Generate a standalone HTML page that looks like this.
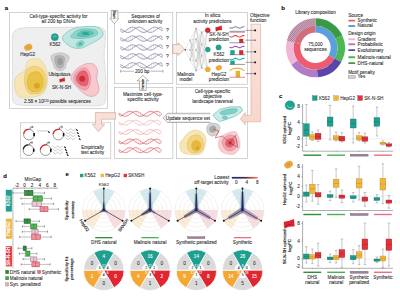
<!DOCTYPE html>
<html><head><meta charset="utf-8"><style>
html,body{margin:0;padding:0;background:#fff;}
body{width:400px;height:300px;overflow:hidden;}
svg{display:block;font-family:"Liberation Sans", sans-serif;}
</style></head><body>
<svg width="400" height="300" viewBox="0 0 400 300">
<rect width="400" height="300" fill="#fff"/>
<text x="6.5" y="10" font-size="6" text-anchor="middle" fill="#000" stroke="#000" stroke-width="0.08" font-weight="bold">a</text>
<rect x="9.6" y="12.4" width="97.8" height="96" fill="#fff" stroke="#b5b5b5" stroke-width="0.6" rx="0"/>
<path d="M12.50,36.00 C13.12,32.67 14.08,31.37 16.00,30.00 C17.92,28.63 20.00,28.22 24.00,27.80 C28.00,27.38 34.00,27.57 40.00,27.50 C46.00,27.43 53.33,27.48 60.00,27.40 C66.67,27.32 73.83,27.03 80.00,27.00 C86.17,26.97 92.97,26.78 97.00,27.20 C101.03,27.62 102.80,27.70 104.20,29.50 C105.60,31.30 105.40,33.75 105.40,38.00 C105.40,42.25 104.20,48.83 104.20,55.00 C104.20,61.17 105.13,68.33 105.40,75.00 C105.67,81.67 106.37,90.00 105.80,95.00 C105.23,100.00 106.30,103.20 102.00,105.00 C97.70,106.80 88.67,105.67 80.00,105.80 C71.33,105.93 59.17,105.87 50.00,105.80 C40.83,105.73 30.97,105.83 25.00,105.40 C19.03,104.97 16.32,104.93 14.20,103.20 C12.08,101.47 12.58,100.53 12.30,95.00 C12.02,89.47 12.50,77.50 12.50,70.00 C12.50,62.50 12.30,55.67 12.30,50.00 C12.30,44.33 11.88,39.33 12.50,36.00Z" fill="#efefef" stroke="#a0a0a0" stroke-width="0.45" stroke-dasharray="1.2,0.8"/>
<text x="58.5" y="18" font-size="4.7" text-anchor="middle" fill="#2a2a2a" stroke="#2a2a2a" stroke-width="0.08" font-weight="normal">Cell-type-specific activity for</text>
<text x="58.5" y="23.2" font-size="4.7" text-anchor="middle" fill="#2a2a2a" stroke="#2a2a2a" stroke-width="0.08" font-weight="normal">all 200 bp DNAs</text>
<path d="M62.50,37.40 C62.75,35.92 64.73,34.20 66.00,33.00 C67.27,31.80 68.28,31.10 70.10,30.20 C71.92,29.30 73.90,28.23 76.90,27.60 C79.90,26.97 84.73,26.50 88.10,26.40 C91.47,26.30 94.70,26.20 97.10,27.00 C99.50,27.80 101.65,29.63 102.50,31.20 C103.35,32.77 103.28,34.75 102.20,36.40 C101.12,38.05 98.17,39.75 96.00,41.10 C93.83,42.45 91.45,43.37 89.20,44.50 C86.95,45.63 84.75,47.27 82.50,47.90 C80.25,48.53 77.77,48.55 75.70,48.30 C73.63,48.05 71.97,47.47 70.10,46.40 C68.23,45.33 65.77,43.40 64.50,41.90 C63.23,40.40 62.25,38.88 62.50,37.40Z" fill="#bfe7e1" stroke="#3f9f92" stroke-width="0.4"/>
<path d="M70.70,36.60 C70.70,35.30 74.37,31.90 76.90,30.60 C79.43,29.30 82.72,28.83 85.90,28.80 C89.08,28.77 94.10,29.50 96.00,30.40 C97.90,31.30 98.43,32.98 97.30,34.20 C96.17,35.42 92.60,37.00 89.20,37.70 C85.80,38.40 79.98,38.58 76.90,38.40 C73.82,38.22 70.70,37.90 70.70,36.60Z" fill="#8dd5ca" stroke="#2f978a" stroke-width="0.35"/>
<path d="M76.90,35.30 C76.90,34.40 79.35,31.92 81.40,31.20 C83.45,30.48 87.15,30.67 89.20,31.00 C91.25,31.33 93.88,32.35 93.70,33.20 C93.52,34.05 90.15,35.53 88.10,36.10 C86.05,36.67 83.27,36.73 81.40,36.60 C79.53,36.47 76.90,36.20 76.90,35.30Z" fill="#5cc2b4" stroke="#2a9d8f" stroke-width="0.3"/>
<ellipse cx="85.6" cy="33.4" rx="3.6" ry="1.7" fill="#30a898"/>
<ellipse cx="80.2" cy="43.9" rx="4.2" ry="2.7" fill="#8fd6cc" stroke="#43b0a2" stroke-width="0.35" transform="rotate(-25 80.2 43.9)"/>
<ellipse cx="80.4" cy="43.9" rx="2.3" ry="1.5" fill="#4cbaaa" transform="rotate(-25 80.4 43.9)"/>
<circle cx="54.8" cy="37.2" r="3.6" fill="#1ea392" stroke="#0f7f70" stroke-width="0.3"/>
<path d="M53,37.5 Q54.5,35 56.5,36.5" fill="none" stroke="#bff0e8" stroke-width="0.5"/>
<text x="55" y="46.4" font-size="4.7" text-anchor="middle" fill="#2a2a2a" stroke="#2a2a2a" stroke-width="0.08" font-weight="normal">K562</text>
<ellipse cx="28.3" cy="47.3" rx="3.9" ry="3.0" fill="#f2a93a" stroke="#c98218" stroke-width="0.3" transform="rotate(-20 28.3 47.3)"/>
<ellipse cx="28.3" cy="47.3" rx="1.8" ry="1.3" fill="#dca040" transform="rotate(-20 28.3 47.3)"/>
<text x="27.8" y="55.5" font-size="4.7" text-anchor="middle" fill="#2a2a2a" stroke="#2a2a2a" stroke-width="0.08" font-weight="normal">HepG2</text>
<path d="M27.00,62.00 C28.50,60.02 31.67,58.90 34.00,58.60 C36.33,58.30 39.00,58.63 41.00,60.20 C43.00,61.77 44.90,64.87 46.00,68.00 C47.10,71.13 47.60,75.67 47.60,79.00 C47.60,82.33 47.10,85.33 46.00,88.00 C44.90,90.67 43.67,93.47 41.00,95.00 C38.33,96.53 33.58,96.87 30.00,97.20 C26.42,97.53 22.00,98.37 19.50,97.00 C17.00,95.63 15.70,92.17 15.00,89.00 C14.30,85.83 14.47,80.58 15.30,78.00 C16.13,75.42 18.38,74.75 20.00,73.50 C21.62,72.25 23.83,72.42 25.00,70.50 C26.17,68.58 25.50,63.98 27.00,62.00Z" fill="#f7e5b6" stroke="#d8c07e" stroke-width="0.4"/>
<path d="M27.20,69.20 C28.70,67.82 31.50,66.20 34.00,66.20 C36.50,66.20 40.20,67.32 42.20,69.20 C44.20,71.08 45.50,74.50 46.00,77.50 C46.50,80.50 46.20,84.58 45.20,87.20 C44.20,89.82 42.62,92.20 40.00,93.20 C37.38,94.20 32.00,94.57 29.50,93.20 C27.00,91.83 25.75,88.12 25.00,85.00 C24.25,81.88 24.63,77.13 25.00,74.50 C25.37,71.87 25.70,70.58 27.20,69.20Z" fill="#f2d47a" stroke="#cfa842" stroke-width="0.35"/>
<path d="M29.50,74.50 C31.13,72.50 34.88,71.25 37.00,71.50 C39.12,71.75 41.20,73.75 42.20,76.00 C43.20,78.25 43.50,82.50 43.00,85.00 C42.50,87.50 41.20,90.00 39.20,91.00 C37.20,92.00 33.00,92.25 31.00,91.00 C29.00,89.75 27.45,86.25 27.20,83.50 C26.95,80.75 27.87,76.50 29.50,74.50Z" fill="#eac045" stroke="#c49a22" stroke-width="0.3"/>
<circle cx="37" cy="85.7" r="2.6" fill="#dfb032" stroke="#a98518" stroke-width="0.3"/>
<circle cx="37" cy="85.7" r="1.2" fill="none" stroke="#a98518" stroke-width="0.3"/>
<path d="M51.50,55.50 C52.28,54.57 54.42,53.85 56.00,53.40 C57.58,52.95 59.50,52.73 61.00,52.80 C62.50,52.87 63.67,53.18 65.00,53.80 C66.33,54.42 68.42,55.47 69.00,56.50 C69.58,57.53 69.00,58.75 68.50,60.00 C68.00,61.25 66.50,62.67 66.00,64.00 C65.50,65.33 66.17,66.90 65.50,68.00 C64.83,69.10 63.25,70.17 62.00,70.60 C60.75,71.03 59.25,71.03 58.00,70.60 C56.75,70.17 55.33,69.27 54.50,68.00 C53.67,66.73 53.53,64.50 53.00,63.00 C52.47,61.50 51.55,60.25 51.30,59.00 C51.05,57.75 50.72,56.43 51.50,55.50Z" fill="#d2d2d2" stroke="#959595" stroke-width="0.35"/>
<path d="M55.00,57.00 C55.75,55.67 58.42,55.42 60.00,55.50 C61.58,55.58 63.83,56.25 64.50,57.50 C65.17,58.75 64.33,61.33 64.00,63.00 C63.67,64.67 63.50,66.67 62.50,67.50 C61.50,68.33 59.17,68.67 58.00,68.00 C56.83,67.33 56.00,65.33 55.50,63.50 C55.00,61.67 54.25,58.33 55.00,57.00Z" fill="#b2b2b2" stroke="#8a8a8a" stroke-width="0.3"/>
<ellipse cx="60" cy="61.5" rx="2.6" ry="3.6" fill="#9a9a9a"/>
<text x="59.5" y="76.0" font-size="4.7" text-anchor="middle" fill="#2a2a2a" stroke="#2a2a2a" stroke-width="0.08" font-weight="normal">Ubiquitous</text>
<path d="M59.60,79.20 Q62.15,78.95 64.55,77.80 L64.85,81.30 Q62.15,80.95 59.90,82.35 Z" fill="#e2222c" stroke="#9a1018" stroke-width="0.3"/>
<path d="M60.10,81.55 Q61.60,80.30 63.10,80.40" fill="none" stroke="#9a1018" stroke-width="0.3"/>
<text x="61.6" y="89.2" font-size="4.7" text-anchor="middle" fill="#2a2a2a" stroke="#2a2a2a" stroke-width="0.08" font-weight="normal">SK-N-SH</text>
<path d="M70.90,77.60 C70.98,75.93 72.45,74.02 73.50,72.50 C74.55,70.98 75.78,69.67 77.20,68.50 C78.62,67.33 80.37,66.32 82.00,65.50 C83.63,64.68 85.00,63.80 87.00,63.60 C89.00,63.40 92.25,63.13 94.00,64.30 C95.75,65.47 97.03,68.15 97.50,70.60 C97.97,73.05 96.57,76.20 96.80,79.00 C97.03,81.80 98.78,84.95 98.90,87.40 C99.02,89.85 98.78,92.18 97.50,93.70 C96.22,95.22 93.42,96.50 91.20,96.50 C88.98,96.50 86.53,95.22 84.20,93.70 C81.87,92.18 79.07,89.27 77.20,87.40 C75.33,85.53 74.05,84.13 73.00,82.50 C71.95,80.87 70.82,79.27 70.90,77.60Z" fill="#f8c8ce" stroke="#b87a84" stroke-width="0.4"/>
<path d="M73.70,76.90 C74.28,74.80 76.62,71.42 78.60,69.90 C80.58,68.38 83.73,67.22 85.60,67.80 C87.47,68.38 88.98,71.07 89.80,73.40 C90.62,75.73 90.97,79.12 90.50,81.80 C90.03,84.48 88.75,88.45 87.00,89.50 C85.25,90.55 81.98,89.27 80.00,88.10 C78.02,86.93 76.15,84.37 75.10,82.50 C74.05,80.63 73.12,79.00 73.70,76.90Z" fill="#f1a3ad" stroke="#cc6e7a" stroke-width="0.35"/>
<path d="M76.50,76.90 C76.97,75.27 78.48,72.93 80.00,72.00 C81.52,71.07 84.20,70.37 85.60,71.30 C87.00,72.23 88.17,75.27 88.40,77.60 C88.63,79.93 88.17,84.02 87.00,85.30 C85.83,86.58 83.03,85.88 81.40,85.30 C79.77,84.72 78.02,83.20 77.20,81.80 C76.38,80.40 76.03,78.53 76.50,76.90Z" fill="#e4636f" stroke="#b83c4a" stroke-width="0.3"/>
<circle cx="82.2" cy="78.8" r="3.0" fill="#d22c3c" stroke="none" stroke-width="0.5"/>
<text x="57.5" y="103.4" font-size="4.7" text-anchor="middle" fill="#2a2a2a" stroke="#2a2a2a" stroke-width="0.08" font-weight="normal">2.58 × 10<tspan font-size="2.8" dy="-1.6">120</tspan><tspan dy="1.6"> possible sequences</tspan></text>
<rect x="114.4" y="12.3" width="58.4" height="71.3" fill="#fff" stroke="#b5b5b5" stroke-width="0.6" rx="0"/>
<path d="M111.3,10.4 L117.9,10.4 L117.9,18.6 L118.6,18.6 L114.3,23.7 L110.1,18.6 L111.3,18.6 Z" fill="#fff" stroke="#555" stroke-width="0.45"/>
<text x="113.0" y="14.6" font-size="3.6" text-anchor="middle" fill="#333" stroke="#333" stroke-width="0.16" font-weight="bold" transform="rotate(90 113.0 14.6)">Start</text>
<text x="145.6" y="17.6" font-size="4.7" text-anchor="middle" fill="#2a2a2a" stroke="#2a2a2a" stroke-width="0.08" font-weight="normal">Sequences of</text>
<text x="145.2" y="23.2" font-size="4.7" text-anchor="middle" fill="#2a2a2a" stroke="#2a2a2a" stroke-width="0.08" font-weight="normal">unknown activity</text>
<polyline points="120.20,30.58 120.68,31.03 121.15,31.47 121.63,31.88 122.10,32.23 122.58,32.29 123.05,32.13 123.53,31.93 124.00,31.69 124.48,31.41 124.96,31.11 125.43,30.79 125.91,30.45 126.38,30.10 126.86,29.74 127.33,29.38 127.81,29.03 128.28,28.70 128.76,28.38 129.24,28.09 129.71,27.83 130.19,27.60 130.66,27.41 131.14,27.27 131.61,27.16 132.09,27.11 132.56,27.10 133.04,27.14 133.52,27.23 133.99,27.36 134.47,27.54 134.94,27.75 135.42,28.00 135.89,28.29 136.37,28.60 136.84,28.93 137.32,29.27 137.80,29.63 138.27,29.99 138.75,30.34 139.22,30.69 139.70,31.02 140.17,31.32 140.65,31.61 141.12,31.86 141.60,32.07 142.08,32.24 142.55,32.37 143.03,32.46 143.50,32.50 143.98,32.49 144.45,32.43 144.93,32.33 145.40,32.18 145.88,31.99 146.36,31.77 146.83,31.50 147.31,31.21 147.78,30.89 148.26,30.56 148.73,30.21 149.21,29.85 149.68,29.49 150.16,29.14 150.64,28.80 151.11,28.48 151.59,28.18 152.06,27.90 152.54,27.67 153.01,27.47 153.49,27.31 153.96,27.19 154.44,27.12 154.92,27.10 155.39,27.13 155.87,27.20 156.34,27.32 156.82,27.48 157.29,27.68 157.77,27.92 158.24,28.19 158.72,28.50 159.20,28.82 159.67,29.16 160.15,29.52 160.62,29.87 161.10,30.20 161.57,30.40 162.05,30.49 162.52,30.46 163.00,30.32" fill="none" stroke="#58587a" stroke-width="0.55" opacity="1.0"/>
<polyline points="120.20,29.35 120.68,29.25 121.15,29.26 121.63,29.39 122.10,29.64 122.58,29.99 123.05,30.34 123.53,30.69 124.00,31.02 124.48,31.33 124.96,31.61 125.43,31.86 125.91,32.07 126.38,32.24 126.86,32.37 127.33,32.46 127.81,32.50 128.28,32.49 128.76,32.43 129.24,32.33 129.71,32.18 130.19,31.99 130.66,31.76 131.14,31.50 131.61,31.21 132.09,30.89 132.56,30.55 133.04,30.20 133.52,29.85 133.99,29.49 134.47,29.14 134.94,28.80 135.42,28.47 135.89,28.17 136.37,27.90 136.84,27.67 137.32,27.47 137.80,27.31 138.27,27.19 138.75,27.12 139.22,27.10 139.70,27.13 140.17,27.20 140.65,27.32 141.12,27.48 141.60,27.68 142.08,27.92 142.55,28.20 143.03,28.50 143.50,28.82 143.98,29.16 144.45,29.52 144.93,29.88 145.40,30.23 145.88,30.58 146.36,30.92 146.83,31.23 147.31,31.52 147.78,31.78 148.26,32.01 148.73,32.19 149.21,32.34 149.68,32.44 150.16,32.49 150.64,32.50 151.11,32.45 151.59,32.37 152.06,32.23 152.54,32.06 153.01,31.84 153.49,31.59 153.96,31.30 154.44,30.99 154.92,30.66 155.39,30.32 155.87,29.96 156.34,29.60 156.82,29.25 157.29,28.90 157.77,28.57 158.24,28.26 158.72,27.98 159.20,27.74 159.67,27.52 160.15,27.35 160.62,27.22 161.10,27.31 161.57,27.71 162.05,28.14 162.52,28.59 163.00,29.04" fill="none" stroke="#58587a" stroke-width="0.55" opacity="1.0"/>
<line x1="121.15" y1="31.47" x2="121.15" y2="29.26" stroke="#58587a" stroke-width="0.3" opacity="0.5"/>
<line x1="123.05" y1="32.13" x2="123.05" y2="30.34" stroke="#58587a" stroke-width="0.3" opacity="0.5"/>
<line x1="124.96" y1="31.11" x2="124.96" y2="31.61" stroke="#58587a" stroke-width="0.3" opacity="0.5"/>
<line x1="126.86" y1="29.74" x2="126.86" y2="32.37" stroke="#58587a" stroke-width="0.3" opacity="0.5"/>
<line x1="128.76" y1="28.38" x2="128.76" y2="32.43" stroke="#58587a" stroke-width="0.3" opacity="0.5"/>
<line x1="130.66" y1="27.41" x2="130.66" y2="31.76" stroke="#58587a" stroke-width="0.3" opacity="0.5"/>
<line x1="132.56" y1="27.10" x2="132.56" y2="30.55" stroke="#58587a" stroke-width="0.3" opacity="0.5"/>
<line x1="134.47" y1="27.54" x2="134.47" y2="29.14" stroke="#58587a" stroke-width="0.3" opacity="0.5"/>
<line x1="136.37" y1="28.60" x2="136.37" y2="27.90" stroke="#58587a" stroke-width="0.3" opacity="0.5"/>
<line x1="138.27" y1="29.99" x2="138.27" y2="27.19" stroke="#58587a" stroke-width="0.3" opacity="0.5"/>
<line x1="140.17" y1="31.32" x2="140.17" y2="27.20" stroke="#58587a" stroke-width="0.3" opacity="0.5"/>
<line x1="142.08" y1="32.24" x2="142.08" y2="27.92" stroke="#58587a" stroke-width="0.3" opacity="0.5"/>
<line x1="143.98" y1="32.49" x2="143.98" y2="29.16" stroke="#58587a" stroke-width="0.3" opacity="0.5"/>
<line x1="145.88" y1="31.99" x2="145.88" y2="30.58" stroke="#58587a" stroke-width="0.3" opacity="0.5"/>
<line x1="147.78" y1="30.89" x2="147.78" y2="31.78" stroke="#58587a" stroke-width="0.3" opacity="0.5"/>
<line x1="149.68" y1="29.49" x2="149.68" y2="32.44" stroke="#58587a" stroke-width="0.3" opacity="0.5"/>
<line x1="151.59" y1="28.18" x2="151.59" y2="32.37" stroke="#58587a" stroke-width="0.3" opacity="0.5"/>
<line x1="153.49" y1="27.31" x2="153.49" y2="31.59" stroke="#58587a" stroke-width="0.3" opacity="0.5"/>
<line x1="155.39" y1="27.13" x2="155.39" y2="30.32" stroke="#58587a" stroke-width="0.3" opacity="0.5"/>
<line x1="157.29" y1="27.68" x2="157.29" y2="28.90" stroke="#58587a" stroke-width="0.3" opacity="0.5"/>
<line x1="159.20" y1="28.82" x2="159.20" y2="27.74" stroke="#58587a" stroke-width="0.3" opacity="0.5"/>
<line x1="161.10" y1="30.20" x2="161.10" y2="27.31" stroke="#58587a" stroke-width="0.3" opacity="0.5"/>
<text x="167.4" y="31.6" font-size="5.0" text-anchor="middle" fill="#333" stroke="#333" stroke-width="0.08" font-weight="normal">?</text>
<polyline points="120.20,39.38 120.68,39.83 121.15,40.27 121.63,40.68 122.10,41.03 122.58,41.09 123.05,40.93 123.53,40.73 124.00,40.49 124.48,40.21 124.96,39.91 125.43,39.59 125.91,39.25 126.38,38.90 126.86,38.54 127.33,38.18 127.81,37.83 128.28,37.50 128.76,37.18 129.24,36.89 129.71,36.63 130.19,36.40 130.66,36.21 131.14,36.07 131.61,35.96 132.09,35.91 132.56,35.90 133.04,35.94 133.52,36.03 133.99,36.16 134.47,36.34 134.94,36.55 135.42,36.80 135.89,37.09 136.37,37.40 136.84,37.73 137.32,38.07 137.80,38.43 138.27,38.79 138.75,39.14 139.22,39.49 139.70,39.82 140.17,40.12 140.65,40.41 141.12,40.66 141.60,40.87 142.08,41.04 142.55,41.17 143.03,41.26 143.50,41.30 143.98,41.29 144.45,41.23 144.93,41.13 145.40,40.98 145.88,40.79 146.36,40.57 146.83,40.30 147.31,40.01 147.78,39.69 148.26,39.36 148.73,39.01 149.21,38.65 149.68,38.29 150.16,37.94 150.64,37.60 151.11,37.28 151.59,36.98 152.06,36.70 152.54,36.47 153.01,36.27 153.49,36.11 153.96,35.99 154.44,35.92 154.92,35.90 155.39,35.93 155.87,36.00 156.34,36.12 156.82,36.28 157.29,36.48 157.77,36.72 158.24,36.99 158.72,37.30 159.20,37.62 159.67,37.96 160.15,38.32 160.62,38.67 161.10,39.00 161.57,39.20 162.05,39.29 162.52,39.26 163.00,39.12" fill="none" stroke="#58587a" stroke-width="0.55" opacity="1.0"/>
<polyline points="120.20,38.15 120.68,38.05 121.15,38.06 121.63,38.19 122.10,38.44 122.58,38.79 123.05,39.14 123.53,39.49 124.00,39.82 124.48,40.13 124.96,40.41 125.43,40.66 125.91,40.87 126.38,41.04 126.86,41.17 127.33,41.26 127.81,41.30 128.28,41.29 128.76,41.23 129.24,41.13 129.71,40.98 130.19,40.79 130.66,40.56 131.14,40.30 131.61,40.01 132.09,39.69 132.56,39.35 133.04,39.00 133.52,38.65 133.99,38.29 134.47,37.94 134.94,37.60 135.42,37.27 135.89,36.97 136.37,36.70 136.84,36.47 137.32,36.27 137.80,36.11 138.27,35.99 138.75,35.92 139.22,35.90 139.70,35.93 140.17,36.00 140.65,36.12 141.12,36.28 141.60,36.48 142.08,36.72 142.55,37.00 143.03,37.30 143.50,37.62 143.98,37.96 144.45,38.32 144.93,38.68 145.40,39.03 145.88,39.38 146.36,39.72 146.83,40.03 147.31,40.32 147.78,40.58 148.26,40.81 148.73,40.99 149.21,41.14 149.68,41.24 150.16,41.29 150.64,41.30 151.11,41.25 151.59,41.17 152.06,41.03 152.54,40.86 153.01,40.64 153.49,40.39 153.96,40.10 154.44,39.79 154.92,39.46 155.39,39.12 155.87,38.76 156.34,38.40 156.82,38.05 157.29,37.70 157.77,37.37 158.24,37.06 158.72,36.78 159.20,36.54 159.67,36.32 160.15,36.15 160.62,36.02 161.10,36.11 161.57,36.51 162.05,36.94 162.52,37.39 163.00,37.84" fill="none" stroke="#58587a" stroke-width="0.55" opacity="1.0"/>
<line x1="121.15" y1="40.27" x2="121.15" y2="38.06" stroke="#58587a" stroke-width="0.3" opacity="0.5"/>
<line x1="123.05" y1="40.93" x2="123.05" y2="39.14" stroke="#58587a" stroke-width="0.3" opacity="0.5"/>
<line x1="124.96" y1="39.91" x2="124.96" y2="40.41" stroke="#58587a" stroke-width="0.3" opacity="0.5"/>
<line x1="126.86" y1="38.54" x2="126.86" y2="41.17" stroke="#58587a" stroke-width="0.3" opacity="0.5"/>
<line x1="128.76" y1="37.18" x2="128.76" y2="41.23" stroke="#58587a" stroke-width="0.3" opacity="0.5"/>
<line x1="130.66" y1="36.21" x2="130.66" y2="40.56" stroke="#58587a" stroke-width="0.3" opacity="0.5"/>
<line x1="132.56" y1="35.90" x2="132.56" y2="39.35" stroke="#58587a" stroke-width="0.3" opacity="0.5"/>
<line x1="134.47" y1="36.34" x2="134.47" y2="37.94" stroke="#58587a" stroke-width="0.3" opacity="0.5"/>
<line x1="136.37" y1="37.40" x2="136.37" y2="36.70" stroke="#58587a" stroke-width="0.3" opacity="0.5"/>
<line x1="138.27" y1="38.79" x2="138.27" y2="35.99" stroke="#58587a" stroke-width="0.3" opacity="0.5"/>
<line x1="140.17" y1="40.12" x2="140.17" y2="36.00" stroke="#58587a" stroke-width="0.3" opacity="0.5"/>
<line x1="142.08" y1="41.04" x2="142.08" y2="36.72" stroke="#58587a" stroke-width="0.3" opacity="0.5"/>
<line x1="143.98" y1="41.29" x2="143.98" y2="37.96" stroke="#58587a" stroke-width="0.3" opacity="0.5"/>
<line x1="145.88" y1="40.79" x2="145.88" y2="39.38" stroke="#58587a" stroke-width="0.3" opacity="0.5"/>
<line x1="147.78" y1="39.69" x2="147.78" y2="40.58" stroke="#58587a" stroke-width="0.3" opacity="0.5"/>
<line x1="149.68" y1="38.29" x2="149.68" y2="41.24" stroke="#58587a" stroke-width="0.3" opacity="0.5"/>
<line x1="151.59" y1="36.98" x2="151.59" y2="41.17" stroke="#58587a" stroke-width="0.3" opacity="0.5"/>
<line x1="153.49" y1="36.11" x2="153.49" y2="40.39" stroke="#58587a" stroke-width="0.3" opacity="0.5"/>
<line x1="155.39" y1="35.93" x2="155.39" y2="39.12" stroke="#58587a" stroke-width="0.3" opacity="0.5"/>
<line x1="157.29" y1="36.48" x2="157.29" y2="37.70" stroke="#58587a" stroke-width="0.3" opacity="0.5"/>
<line x1="159.20" y1="37.62" x2="159.20" y2="36.54" stroke="#58587a" stroke-width="0.3" opacity="0.5"/>
<line x1="161.10" y1="39.00" x2="161.10" y2="36.11" stroke="#58587a" stroke-width="0.3" opacity="0.5"/>
<text x="167.4" y="40.4" font-size="5.0" text-anchor="middle" fill="#333" stroke="#333" stroke-width="0.08" font-weight="normal">?</text>
<polyline points="120.20,48.28 120.68,48.73 121.15,49.17 121.63,49.58 122.10,49.93 122.58,49.99 123.05,49.83 123.53,49.63 124.00,49.39 124.48,49.11 124.96,48.81 125.43,48.49 125.91,48.15 126.38,47.80 126.86,47.44 127.33,47.08 127.81,46.73 128.28,46.40 128.76,46.08 129.24,45.79 129.71,45.53 130.19,45.30 130.66,45.11 131.14,44.97 131.61,44.86 132.09,44.81 132.56,44.80 133.04,44.84 133.52,44.93 133.99,45.06 134.47,45.24 134.94,45.45 135.42,45.70 135.89,45.99 136.37,46.30 136.84,46.63 137.32,46.97 137.80,47.33 138.27,47.69 138.75,48.04 139.22,48.39 139.70,48.72 140.17,49.02 140.65,49.31 141.12,49.56 141.60,49.77 142.08,49.94 142.55,50.07 143.03,50.16 143.50,50.20 143.98,50.19 144.45,50.13 144.93,50.03 145.40,49.88 145.88,49.69 146.36,49.47 146.83,49.20 147.31,48.91 147.78,48.59 148.26,48.26 148.73,47.91 149.21,47.55 149.68,47.19 150.16,46.84 150.64,46.50 151.11,46.18 151.59,45.88 152.06,45.60 152.54,45.37 153.01,45.17 153.49,45.01 153.96,44.89 154.44,44.82 154.92,44.80 155.39,44.83 155.87,44.90 156.34,45.02 156.82,45.18 157.29,45.38 157.77,45.62 158.24,45.89 158.72,46.20 159.20,46.52 159.67,46.86 160.15,47.22 160.62,47.57 161.10,47.90 161.57,48.10 162.05,48.19 162.52,48.16 163.00,48.02" fill="none" stroke="#58587a" stroke-width="0.55" opacity="1.0"/>
<polyline points="120.20,47.05 120.68,46.95 121.15,46.96 121.63,47.09 122.10,47.34 122.58,47.69 123.05,48.04 123.53,48.39 124.00,48.72 124.48,49.03 124.96,49.31 125.43,49.56 125.91,49.77 126.38,49.94 126.86,50.07 127.33,50.16 127.81,50.20 128.28,50.19 128.76,50.13 129.24,50.03 129.71,49.88 130.19,49.69 130.66,49.46 131.14,49.20 131.61,48.91 132.09,48.59 132.56,48.25 133.04,47.90 133.52,47.55 133.99,47.19 134.47,46.84 134.94,46.50 135.42,46.17 135.89,45.87 136.37,45.60 136.84,45.37 137.32,45.17 137.80,45.01 138.27,44.89 138.75,44.82 139.22,44.80 139.70,44.83 140.17,44.90 140.65,45.02 141.12,45.18 141.60,45.38 142.08,45.62 142.55,45.90 143.03,46.20 143.50,46.52 143.98,46.86 144.45,47.22 144.93,47.58 145.40,47.93 145.88,48.28 146.36,48.62 146.83,48.93 147.31,49.22 147.78,49.48 148.26,49.71 148.73,49.89 149.21,50.04 149.68,50.14 150.16,50.19 150.64,50.20 151.11,50.15 151.59,50.07 152.06,49.93 152.54,49.76 153.01,49.54 153.49,49.29 153.96,49.00 154.44,48.69 154.92,48.36 155.39,48.02 155.87,47.66 156.34,47.30 156.82,46.95 157.29,46.60 157.77,46.27 158.24,45.96 158.72,45.68 159.20,45.44 159.67,45.22 160.15,45.05 160.62,44.92 161.10,45.01 161.57,45.41 162.05,45.84 162.52,46.29 163.00,46.74" fill="none" stroke="#58587a" stroke-width="0.55" opacity="1.0"/>
<line x1="121.15" y1="49.17" x2="121.15" y2="46.96" stroke="#58587a" stroke-width="0.3" opacity="0.5"/>
<line x1="123.05" y1="49.83" x2="123.05" y2="48.04" stroke="#58587a" stroke-width="0.3" opacity="0.5"/>
<line x1="124.96" y1="48.81" x2="124.96" y2="49.31" stroke="#58587a" stroke-width="0.3" opacity="0.5"/>
<line x1="126.86" y1="47.44" x2="126.86" y2="50.07" stroke="#58587a" stroke-width="0.3" opacity="0.5"/>
<line x1="128.76" y1="46.08" x2="128.76" y2="50.13" stroke="#58587a" stroke-width="0.3" opacity="0.5"/>
<line x1="130.66" y1="45.11" x2="130.66" y2="49.46" stroke="#58587a" stroke-width="0.3" opacity="0.5"/>
<line x1="132.56" y1="44.80" x2="132.56" y2="48.25" stroke="#58587a" stroke-width="0.3" opacity="0.5"/>
<line x1="134.47" y1="45.24" x2="134.47" y2="46.84" stroke="#58587a" stroke-width="0.3" opacity="0.5"/>
<line x1="136.37" y1="46.30" x2="136.37" y2="45.60" stroke="#58587a" stroke-width="0.3" opacity="0.5"/>
<line x1="138.27" y1="47.69" x2="138.27" y2="44.89" stroke="#58587a" stroke-width="0.3" opacity="0.5"/>
<line x1="140.17" y1="49.02" x2="140.17" y2="44.90" stroke="#58587a" stroke-width="0.3" opacity="0.5"/>
<line x1="142.08" y1="49.94" x2="142.08" y2="45.62" stroke="#58587a" stroke-width="0.3" opacity="0.5"/>
<line x1="143.98" y1="50.19" x2="143.98" y2="46.86" stroke="#58587a" stroke-width="0.3" opacity="0.5"/>
<line x1="145.88" y1="49.69" x2="145.88" y2="48.28" stroke="#58587a" stroke-width="0.3" opacity="0.5"/>
<line x1="147.78" y1="48.59" x2="147.78" y2="49.48" stroke="#58587a" stroke-width="0.3" opacity="0.5"/>
<line x1="149.68" y1="47.19" x2="149.68" y2="50.14" stroke="#58587a" stroke-width="0.3" opacity="0.5"/>
<line x1="151.59" y1="45.88" x2="151.59" y2="50.07" stroke="#58587a" stroke-width="0.3" opacity="0.5"/>
<line x1="153.49" y1="45.01" x2="153.49" y2="49.29" stroke="#58587a" stroke-width="0.3" opacity="0.5"/>
<line x1="155.39" y1="44.83" x2="155.39" y2="48.02" stroke="#58587a" stroke-width="0.3" opacity="0.5"/>
<line x1="157.29" y1="45.38" x2="157.29" y2="46.60" stroke="#58587a" stroke-width="0.3" opacity="0.5"/>
<line x1="159.20" y1="46.52" x2="159.20" y2="45.44" stroke="#58587a" stroke-width="0.3" opacity="0.5"/>
<line x1="161.10" y1="47.90" x2="161.10" y2="45.01" stroke="#58587a" stroke-width="0.3" opacity="0.5"/>
<text x="167.4" y="49.3" font-size="5.0" text-anchor="middle" fill="#333" stroke="#333" stroke-width="0.08" font-weight="normal">?</text>
<polyline points="120.20,57.18 120.68,57.63 121.15,58.07 121.63,58.48 122.10,58.83 122.58,58.89 123.05,58.73 123.53,58.53 124.00,58.29 124.48,58.01 124.96,57.71 125.43,57.39 125.91,57.05 126.38,56.70 126.86,56.34 127.33,55.98 127.81,55.63 128.28,55.30 128.76,54.98 129.24,54.69 129.71,54.43 130.19,54.20 130.66,54.01 131.14,53.87 131.61,53.76 132.09,53.71 132.56,53.70 133.04,53.74 133.52,53.83 133.99,53.96 134.47,54.14 134.94,54.35 135.42,54.60 135.89,54.89 136.37,55.20 136.84,55.53 137.32,55.87 137.80,56.23 138.27,56.59 138.75,56.94 139.22,57.29 139.70,57.62 140.17,57.92 140.65,58.21 141.12,58.46 141.60,58.67 142.08,58.84 142.55,58.97 143.03,59.06 143.50,59.10 143.98,59.09 144.45,59.03 144.93,58.93 145.40,58.78 145.88,58.59 146.36,58.37 146.83,58.10 147.31,57.81 147.78,57.49 148.26,57.16 148.73,56.81 149.21,56.45 149.68,56.09 150.16,55.74 150.64,55.40 151.11,55.08 151.59,54.78 152.06,54.50 152.54,54.27 153.01,54.07 153.49,53.91 153.96,53.79 154.44,53.72 154.92,53.70 155.39,53.73 155.87,53.80 156.34,53.92 156.82,54.08 157.29,54.28 157.77,54.52 158.24,54.79 158.72,55.10 159.20,55.42 159.67,55.76 160.15,56.12 160.62,56.47 161.10,56.80 161.57,57.00 162.05,57.09 162.52,57.06 163.00,56.92" fill="none" stroke="#58587a" stroke-width="0.55" opacity="1.0"/>
<polyline points="120.20,55.95 120.68,55.85 121.15,55.86 121.63,55.99 122.10,56.24 122.58,56.59 123.05,56.94 123.53,57.29 124.00,57.62 124.48,57.93 124.96,58.21 125.43,58.46 125.91,58.67 126.38,58.84 126.86,58.97 127.33,59.06 127.81,59.10 128.28,59.09 128.76,59.03 129.24,58.93 129.71,58.78 130.19,58.59 130.66,58.36 131.14,58.10 131.61,57.81 132.09,57.49 132.56,57.15 133.04,56.80 133.52,56.45 133.99,56.09 134.47,55.74 134.94,55.40 135.42,55.07 135.89,54.77 136.37,54.50 136.84,54.27 137.32,54.07 137.80,53.91 138.27,53.79 138.75,53.72 139.22,53.70 139.70,53.73 140.17,53.80 140.65,53.92 141.12,54.08 141.60,54.28 142.08,54.52 142.55,54.80 143.03,55.10 143.50,55.42 143.98,55.76 144.45,56.12 144.93,56.48 145.40,56.83 145.88,57.18 146.36,57.52 146.83,57.83 147.31,58.12 147.78,58.38 148.26,58.61 148.73,58.79 149.21,58.94 149.68,59.04 150.16,59.09 150.64,59.10 151.11,59.05 151.59,58.97 152.06,58.83 152.54,58.66 153.01,58.44 153.49,58.19 153.96,57.90 154.44,57.59 154.92,57.26 155.39,56.92 155.87,56.56 156.34,56.20 156.82,55.85 157.29,55.50 157.77,55.17 158.24,54.86 158.72,54.58 159.20,54.34 159.67,54.12 160.15,53.95 160.62,53.82 161.10,53.91 161.57,54.31 162.05,54.74 162.52,55.19 163.00,55.64" fill="none" stroke="#58587a" stroke-width="0.55" opacity="1.0"/>
<line x1="121.15" y1="58.07" x2="121.15" y2="55.86" stroke="#58587a" stroke-width="0.3" opacity="0.5"/>
<line x1="123.05" y1="58.73" x2="123.05" y2="56.94" stroke="#58587a" stroke-width="0.3" opacity="0.5"/>
<line x1="124.96" y1="57.71" x2="124.96" y2="58.21" stroke="#58587a" stroke-width="0.3" opacity="0.5"/>
<line x1="126.86" y1="56.34" x2="126.86" y2="58.97" stroke="#58587a" stroke-width="0.3" opacity="0.5"/>
<line x1="128.76" y1="54.98" x2="128.76" y2="59.03" stroke="#58587a" stroke-width="0.3" opacity="0.5"/>
<line x1="130.66" y1="54.01" x2="130.66" y2="58.36" stroke="#58587a" stroke-width="0.3" opacity="0.5"/>
<line x1="132.56" y1="53.70" x2="132.56" y2="57.15" stroke="#58587a" stroke-width="0.3" opacity="0.5"/>
<line x1="134.47" y1="54.14" x2="134.47" y2="55.74" stroke="#58587a" stroke-width="0.3" opacity="0.5"/>
<line x1="136.37" y1="55.20" x2="136.37" y2="54.50" stroke="#58587a" stroke-width="0.3" opacity="0.5"/>
<line x1="138.27" y1="56.59" x2="138.27" y2="53.79" stroke="#58587a" stroke-width="0.3" opacity="0.5"/>
<line x1="140.17" y1="57.92" x2="140.17" y2="53.80" stroke="#58587a" stroke-width="0.3" opacity="0.5"/>
<line x1="142.08" y1="58.84" x2="142.08" y2="54.52" stroke="#58587a" stroke-width="0.3" opacity="0.5"/>
<line x1="143.98" y1="59.09" x2="143.98" y2="55.76" stroke="#58587a" stroke-width="0.3" opacity="0.5"/>
<line x1="145.88" y1="58.59" x2="145.88" y2="57.18" stroke="#58587a" stroke-width="0.3" opacity="0.5"/>
<line x1="147.78" y1="57.49" x2="147.78" y2="58.38" stroke="#58587a" stroke-width="0.3" opacity="0.5"/>
<line x1="149.68" y1="56.09" x2="149.68" y2="59.04" stroke="#58587a" stroke-width="0.3" opacity="0.5"/>
<line x1="151.59" y1="54.78" x2="151.59" y2="58.97" stroke="#58587a" stroke-width="0.3" opacity="0.5"/>
<line x1="153.49" y1="53.91" x2="153.49" y2="58.19" stroke="#58587a" stroke-width="0.3" opacity="0.5"/>
<line x1="155.39" y1="53.73" x2="155.39" y2="56.92" stroke="#58587a" stroke-width="0.3" opacity="0.5"/>
<line x1="157.29" y1="54.28" x2="157.29" y2="55.50" stroke="#58587a" stroke-width="0.3" opacity="0.5"/>
<line x1="159.20" y1="55.42" x2="159.20" y2="54.34" stroke="#58587a" stroke-width="0.3" opacity="0.5"/>
<line x1="161.10" y1="56.80" x2="161.10" y2="53.91" stroke="#58587a" stroke-width="0.3" opacity="0.5"/>
<text x="167.4" y="58.199999999999996" font-size="5.0" text-anchor="middle" fill="#333" stroke="#333" stroke-width="0.08" font-weight="normal">?</text>
<polyline points="120.20,66.18 120.68,66.63 121.15,67.07 121.63,67.48 122.10,67.83 122.58,67.89 123.05,67.73 123.53,67.53 124.00,67.29 124.48,67.01 124.96,66.71 125.43,66.39 125.91,66.05 126.38,65.70 126.86,65.34 127.33,64.98 127.81,64.63 128.28,64.30 128.76,63.98 129.24,63.69 129.71,63.43 130.19,63.20 130.66,63.01 131.14,62.87 131.61,62.76 132.09,62.71 132.56,62.70 133.04,62.74 133.52,62.83 133.99,62.96 134.47,63.14 134.94,63.35 135.42,63.60 135.89,63.89 136.37,64.20 136.84,64.53 137.32,64.87 137.80,65.23 138.27,65.59 138.75,65.94 139.22,66.29 139.70,66.62 140.17,66.92 140.65,67.21 141.12,67.46 141.60,67.67 142.08,67.84 142.55,67.97 143.03,68.06 143.50,68.10 143.98,68.09 144.45,68.03 144.93,67.93 145.40,67.78 145.88,67.59 146.36,67.37 146.83,67.10 147.31,66.81 147.78,66.49 148.26,66.16 148.73,65.81 149.21,65.45 149.68,65.09 150.16,64.74 150.64,64.40 151.11,64.08 151.59,63.78 152.06,63.50 152.54,63.27 153.01,63.07 153.49,62.91 153.96,62.79 154.44,62.72 154.92,62.70 155.39,62.73 155.87,62.80 156.34,62.92 156.82,63.08 157.29,63.28 157.77,63.52 158.24,63.79 158.72,64.10 159.20,64.42 159.67,64.76 160.15,65.12 160.62,65.47 161.10,65.80 161.57,66.00 162.05,66.09 162.52,66.06 163.00,65.92" fill="none" stroke="#58587a" stroke-width="0.55" opacity="1.0"/>
<polyline points="120.20,64.95 120.68,64.85 121.15,64.86 121.63,64.99 122.10,65.24 122.58,65.59 123.05,65.94 123.53,66.29 124.00,66.62 124.48,66.93 124.96,67.21 125.43,67.46 125.91,67.67 126.38,67.84 126.86,67.97 127.33,68.06 127.81,68.10 128.28,68.09 128.76,68.03 129.24,67.93 129.71,67.78 130.19,67.59 130.66,67.36 131.14,67.10 131.61,66.81 132.09,66.49 132.56,66.15 133.04,65.80 133.52,65.45 133.99,65.09 134.47,64.74 134.94,64.40 135.42,64.07 135.89,63.77 136.37,63.50 136.84,63.27 137.32,63.07 137.80,62.91 138.27,62.79 138.75,62.72 139.22,62.70 139.70,62.73 140.17,62.80 140.65,62.92 141.12,63.08 141.60,63.28 142.08,63.52 142.55,63.80 143.03,64.10 143.50,64.42 143.98,64.76 144.45,65.12 144.93,65.48 145.40,65.83 145.88,66.18 146.36,66.52 146.83,66.83 147.31,67.12 147.78,67.38 148.26,67.61 148.73,67.79 149.21,67.94 149.68,68.04 150.16,68.09 150.64,68.10 151.11,68.05 151.59,67.97 152.06,67.83 152.54,67.66 153.01,67.44 153.49,67.19 153.96,66.90 154.44,66.59 154.92,66.26 155.39,65.92 155.87,65.56 156.34,65.20 156.82,64.85 157.29,64.50 157.77,64.17 158.24,63.86 158.72,63.58 159.20,63.34 159.67,63.12 160.15,62.95 160.62,62.82 161.10,62.91 161.57,63.31 162.05,63.74 162.52,64.19 163.00,64.64" fill="none" stroke="#58587a" stroke-width="0.55" opacity="1.0"/>
<line x1="121.15" y1="67.07" x2="121.15" y2="64.86" stroke="#58587a" stroke-width="0.3" opacity="0.5"/>
<line x1="123.05" y1="67.73" x2="123.05" y2="65.94" stroke="#58587a" stroke-width="0.3" opacity="0.5"/>
<line x1="124.96" y1="66.71" x2="124.96" y2="67.21" stroke="#58587a" stroke-width="0.3" opacity="0.5"/>
<line x1="126.86" y1="65.34" x2="126.86" y2="67.97" stroke="#58587a" stroke-width="0.3" opacity="0.5"/>
<line x1="128.76" y1="63.98" x2="128.76" y2="68.03" stroke="#58587a" stroke-width="0.3" opacity="0.5"/>
<line x1="130.66" y1="63.01" x2="130.66" y2="67.36" stroke="#58587a" stroke-width="0.3" opacity="0.5"/>
<line x1="132.56" y1="62.70" x2="132.56" y2="66.15" stroke="#58587a" stroke-width="0.3" opacity="0.5"/>
<line x1="134.47" y1="63.14" x2="134.47" y2="64.74" stroke="#58587a" stroke-width="0.3" opacity="0.5"/>
<line x1="136.37" y1="64.20" x2="136.37" y2="63.50" stroke="#58587a" stroke-width="0.3" opacity="0.5"/>
<line x1="138.27" y1="65.59" x2="138.27" y2="62.79" stroke="#58587a" stroke-width="0.3" opacity="0.5"/>
<line x1="140.17" y1="66.92" x2="140.17" y2="62.80" stroke="#58587a" stroke-width="0.3" opacity="0.5"/>
<line x1="142.08" y1="67.84" x2="142.08" y2="63.52" stroke="#58587a" stroke-width="0.3" opacity="0.5"/>
<line x1="143.98" y1="68.09" x2="143.98" y2="64.76" stroke="#58587a" stroke-width="0.3" opacity="0.5"/>
<line x1="145.88" y1="67.59" x2="145.88" y2="66.18" stroke="#58587a" stroke-width="0.3" opacity="0.5"/>
<line x1="147.78" y1="66.49" x2="147.78" y2="67.38" stroke="#58587a" stroke-width="0.3" opacity="0.5"/>
<line x1="149.68" y1="65.09" x2="149.68" y2="68.04" stroke="#58587a" stroke-width="0.3" opacity="0.5"/>
<line x1="151.59" y1="63.78" x2="151.59" y2="67.97" stroke="#58587a" stroke-width="0.3" opacity="0.5"/>
<line x1="153.49" y1="62.91" x2="153.49" y2="67.19" stroke="#58587a" stroke-width="0.3" opacity="0.5"/>
<line x1="155.39" y1="62.73" x2="155.39" y2="65.92" stroke="#58587a" stroke-width="0.3" opacity="0.5"/>
<line x1="157.29" y1="63.28" x2="157.29" y2="64.50" stroke="#58587a" stroke-width="0.3" opacity="0.5"/>
<line x1="159.20" y1="64.42" x2="159.20" y2="63.34" stroke="#58587a" stroke-width="0.3" opacity="0.5"/>
<line x1="161.10" y1="65.80" x2="161.10" y2="62.91" stroke="#58587a" stroke-width="0.3" opacity="0.5"/>
<text x="167.4" y="67.2" font-size="5.0" text-anchor="middle" fill="#333" stroke="#333" stroke-width="0.08" font-weight="normal">?</text>
<line x1="120.5" y1="71.2" x2="163" y2="71.2" stroke="#333" stroke-width="0.35"/>
<line x1="120.5" y1="69.8" x2="120.5" y2="72.6" stroke="#333" stroke-width="0.35"/>
<line x1="163" y1="69.8" x2="163" y2="72.6" stroke="#333" stroke-width="0.35"/>
<rect x="134" y="69.3" width="16.5" height="3.8" fill="#fff" stroke="none" stroke-width="0.5" rx="0"/>
<text x="142.2" y="72.7" font-size="4.7" text-anchor="middle" fill="#2a2a2a" stroke="#2a2a2a" stroke-width="0.08" font-weight="normal">200 bp</text>
<rect x="114.4" y="87.4" width="58.5" height="71" fill="#fff" stroke="#b5b5b5" stroke-width="0.6" rx="0"/>
<text x="143" y="95.6" font-size="4.7" text-anchor="middle" fill="#2a2a2a" stroke="#2a2a2a" stroke-width="0.08" font-weight="normal">Maximize cell-type-</text>
<text x="143" y="101.2" font-size="4.7" text-anchor="middle" fill="#2a2a2a" stroke="#2a2a2a" stroke-width="0.08" font-weight="normal">specific activity</text>
<polyline points="118.50,114.53 118.98,114.94 119.46,115.35 119.94,115.71 120.42,116.02 120.89,116.02 121.37,115.83 121.85,115.61 122.33,115.34 122.81,115.04 123.29,114.72 123.77,114.38 124.25,114.03 124.73,113.67 125.20,113.31 125.68,112.97 126.16,112.64 126.64,112.34 127.12,112.06 127.60,111.82 128.08,111.62 128.56,111.47 129.04,111.37 129.51,111.31 129.99,111.30 130.47,111.35 130.95,111.45 131.43,111.59 131.91,111.78 132.39,112.01 132.87,112.28 133.35,112.58 133.82,112.90 134.30,113.25 134.78,113.60 135.26,113.96 135.74,114.31 136.22,114.66 136.70,114.98 137.18,115.29 137.66,115.56 138.13,115.79 138.61,115.99 139.09,116.14 139.57,116.24 140.05,116.29 140.53,116.29 141.01,116.24 141.49,116.14 141.97,116.00 142.44,115.80 142.92,115.57 143.40,115.30 143.88,115.00 144.36,114.67 144.84,114.33 145.32,113.97 145.80,113.62 146.28,113.26 146.75,112.92 147.23,112.59 147.71,112.29 148.19,112.02 148.67,111.79 149.15,111.60 149.63,111.45 150.11,111.35 150.59,111.31 151.06,111.31 151.54,111.36 152.02,111.47 152.50,111.62 152.98,111.81 153.46,112.05 153.94,112.32 154.42,112.63 154.90,112.95 155.37,113.30 155.85,113.65 156.33,114.01 156.81,114.36 157.29,114.71 157.77,115.03 158.25,115.33 158.73,115.59 159.21,115.82 159.68,115.88 160.16,115.64 160.64,115.32 161.12,114.95 161.60,114.55" fill="none" stroke="#d02636" stroke-width="0.55" opacity="1.0"/>
<polyline points="118.50,113.46 118.98,113.43 119.46,113.52 119.94,113.72 120.42,114.04 120.89,114.41 121.37,114.75 121.85,115.07 122.33,115.37 122.81,115.63 123.29,115.85 123.77,116.04 124.25,116.17 124.73,116.26 125.20,116.30 125.68,116.28 126.16,116.22 126.64,116.11 127.12,115.94 127.60,115.74 128.08,115.49 128.56,115.21 129.04,114.91 129.51,114.57 129.99,114.23 130.47,113.87 130.95,113.51 131.43,113.16 131.91,112.82 132.39,112.50 132.87,112.21 133.35,111.95 133.82,111.73 134.30,111.55 134.78,111.42 135.26,111.33 135.74,111.30 136.22,111.32 136.70,111.39 137.18,111.50 137.66,111.67 138.13,111.88 138.61,112.13 139.09,112.41 139.57,112.72 140.05,113.05 140.53,113.40 141.01,113.76 141.49,114.11 141.97,114.46 142.44,114.80 142.92,115.12 143.40,115.41 143.88,115.67 144.36,115.88 144.84,116.06 145.32,116.19 145.80,116.27 146.28,116.30 146.75,116.28 147.23,116.21 147.71,116.09 148.19,115.92 148.67,115.71 149.15,115.45 149.63,115.17 150.11,114.86 150.59,114.52 151.06,114.17 151.54,113.82 152.02,113.46 152.50,113.11 152.98,112.77 153.46,112.46 153.94,112.17 154.42,111.92 154.90,111.70 155.37,111.53 155.85,111.40 156.33,111.33 156.81,111.30 157.29,111.33 157.77,111.40 158.25,111.53 158.73,111.70 159.21,111.91 159.68,112.27 160.16,112.75 160.64,113.16 161.12,113.48 161.60,113.70" fill="none" stroke="#d02636" stroke-width="0.55" opacity="1.0"/>
<line x1="119.46" y1="115.35" x2="119.46" y2="113.52" stroke="#d02636" stroke-width="0.3" opacity="0.5"/>
<line x1="121.37" y1="115.83" x2="121.37" y2="114.75" stroke="#d02636" stroke-width="0.3" opacity="0.5"/>
<line x1="123.29" y1="114.72" x2="123.29" y2="115.85" stroke="#d02636" stroke-width="0.3" opacity="0.5"/>
<line x1="125.20" y1="113.31" x2="125.20" y2="116.30" stroke="#d02636" stroke-width="0.3" opacity="0.5"/>
<line x1="127.12" y1="112.06" x2="127.12" y2="115.94" stroke="#d02636" stroke-width="0.3" opacity="0.5"/>
<line x1="129.04" y1="111.37" x2="129.04" y2="114.91" stroke="#d02636" stroke-width="0.3" opacity="0.5"/>
<line x1="130.95" y1="111.45" x2="130.95" y2="113.51" stroke="#d02636" stroke-width="0.3" opacity="0.5"/>
<line x1="132.87" y1="112.28" x2="132.87" y2="112.21" stroke="#d02636" stroke-width="0.3" opacity="0.5"/>
<line x1="134.78" y1="113.60" x2="134.78" y2="111.42" stroke="#d02636" stroke-width="0.3" opacity="0.5"/>
<line x1="136.70" y1="114.98" x2="136.70" y2="111.39" stroke="#d02636" stroke-width="0.3" opacity="0.5"/>
<line x1="138.61" y1="115.99" x2="138.61" y2="112.13" stroke="#d02636" stroke-width="0.3" opacity="0.5"/>
<line x1="140.53" y1="116.29" x2="140.53" y2="113.40" stroke="#d02636" stroke-width="0.3" opacity="0.5"/>
<line x1="142.44" y1="115.80" x2="142.44" y2="114.80" stroke="#d02636" stroke-width="0.3" opacity="0.5"/>
<line x1="144.36" y1="114.67" x2="144.36" y2="115.88" stroke="#d02636" stroke-width="0.3" opacity="0.5"/>
<line x1="146.28" y1="113.26" x2="146.28" y2="116.30" stroke="#d02636" stroke-width="0.3" opacity="0.5"/>
<line x1="148.19" y1="112.02" x2="148.19" y2="115.92" stroke="#d02636" stroke-width="0.3" opacity="0.5"/>
<line x1="150.11" y1="111.35" x2="150.11" y2="114.86" stroke="#d02636" stroke-width="0.3" opacity="0.5"/>
<line x1="152.02" y1="111.47" x2="152.02" y2="113.46" stroke="#d02636" stroke-width="0.3" opacity="0.5"/>
<line x1="153.94" y1="112.32" x2="153.94" y2="112.17" stroke="#d02636" stroke-width="0.3" opacity="0.5"/>
<line x1="155.85" y1="113.65" x2="155.85" y2="111.40" stroke="#d02636" stroke-width="0.3" opacity="0.5"/>
<line x1="157.77" y1="115.03" x2="157.77" y2="111.40" stroke="#d02636" stroke-width="0.3" opacity="0.5"/>
<line x1="159.68" y1="115.88" x2="159.68" y2="112.27" stroke="#d02636" stroke-width="0.3" opacity="0.5"/>
<polyline points="118.50,123.43 118.98,123.84 119.46,124.25 119.94,124.61 120.42,124.92 120.89,124.92 121.37,124.73 121.85,124.51 122.33,124.24 122.81,123.94 123.29,123.62 123.77,123.28 124.25,122.93 124.73,122.57 125.20,122.21 125.68,121.87 126.16,121.54 126.64,121.24 127.12,120.96 127.60,120.72 128.08,120.52 128.56,120.37 129.04,120.27 129.51,120.21 129.99,120.20 130.47,120.25 130.95,120.35 131.43,120.49 131.91,120.68 132.39,120.91 132.87,121.18 133.35,121.48 133.82,121.80 134.30,122.15 134.78,122.50 135.26,122.86 135.74,123.21 136.22,123.56 136.70,123.88 137.18,124.19 137.66,124.46 138.13,124.69 138.61,124.89 139.09,125.04 139.57,125.14 140.05,125.19 140.53,125.19 141.01,125.14 141.49,125.04 141.97,124.90 142.44,124.70 142.92,124.47 143.40,124.20 143.88,123.90 144.36,123.57 144.84,123.23 145.32,122.87 145.80,122.52 146.28,122.16 146.75,121.82 147.23,121.49 147.71,121.19 148.19,120.92 148.67,120.69 149.15,120.50 149.63,120.35 150.11,120.25 150.59,120.21 151.06,120.21 151.54,120.26 152.02,120.37 152.50,120.52 152.98,120.71 153.46,120.95 153.94,121.22 154.42,121.53 154.90,121.85 155.37,122.20 155.85,122.55 156.33,122.91 156.81,123.26 157.29,123.61 157.77,123.93 158.25,124.23 158.73,124.49 159.21,124.72 159.68,124.78 160.16,124.54 160.64,124.22 161.12,123.85 161.60,123.45" fill="none" stroke="#e05060" stroke-width="0.55" opacity="0.5"/>
<polyline points="118.50,122.36 118.98,122.33 119.46,122.42 119.94,122.62 120.42,122.94 120.89,123.31 121.37,123.65 121.85,123.97 122.33,124.27 122.81,124.53 123.29,124.75 123.77,124.94 124.25,125.07 124.73,125.16 125.20,125.20 125.68,125.18 126.16,125.12 126.64,125.01 127.12,124.84 127.60,124.64 128.08,124.39 128.56,124.11 129.04,123.81 129.51,123.47 129.99,123.13 130.47,122.77 130.95,122.41 131.43,122.06 131.91,121.72 132.39,121.40 132.87,121.11 133.35,120.85 133.82,120.63 134.30,120.45 134.78,120.32 135.26,120.23 135.74,120.20 136.22,120.22 136.70,120.29 137.18,120.40 137.66,120.57 138.13,120.78 138.61,121.03 139.09,121.31 139.57,121.62 140.05,121.95 140.53,122.30 141.01,122.66 141.49,123.01 141.97,123.36 142.44,123.70 142.92,124.02 143.40,124.31 143.88,124.57 144.36,124.78 144.84,124.96 145.32,125.09 145.80,125.17 146.28,125.20 146.75,125.18 147.23,125.11 147.71,124.99 148.19,124.82 148.67,124.61 149.15,124.35 149.63,124.07 150.11,123.76 150.59,123.42 151.06,123.07 151.54,122.72 152.02,122.36 152.50,122.01 152.98,121.67 153.46,121.36 153.94,121.07 154.42,120.82 154.90,120.60 155.37,120.43 155.85,120.30 156.33,120.23 156.81,120.20 157.29,120.23 157.77,120.30 158.25,120.43 158.73,120.60 159.21,120.81 159.68,121.17 160.16,121.65 160.64,122.06 161.12,122.38 161.60,122.60" fill="none" stroke="#e05060" stroke-width="0.55" opacity="0.5"/>
<line x1="119.46" y1="124.25" x2="119.46" y2="122.42" stroke="#e05060" stroke-width="0.3" opacity="0.25"/>
<line x1="121.37" y1="124.73" x2="121.37" y2="123.65" stroke="#e05060" stroke-width="0.3" opacity="0.25"/>
<line x1="123.29" y1="123.62" x2="123.29" y2="124.75" stroke="#e05060" stroke-width="0.3" opacity="0.25"/>
<line x1="125.20" y1="122.21" x2="125.20" y2="125.20" stroke="#e05060" stroke-width="0.3" opacity="0.25"/>
<line x1="127.12" y1="120.96" x2="127.12" y2="124.84" stroke="#e05060" stroke-width="0.3" opacity="0.25"/>
<line x1="129.04" y1="120.27" x2="129.04" y2="123.81" stroke="#e05060" stroke-width="0.3" opacity="0.25"/>
<line x1="130.95" y1="120.35" x2="130.95" y2="122.41" stroke="#e05060" stroke-width="0.3" opacity="0.25"/>
<line x1="132.87" y1="121.18" x2="132.87" y2="121.11" stroke="#e05060" stroke-width="0.3" opacity="0.25"/>
<line x1="134.78" y1="122.50" x2="134.78" y2="120.32" stroke="#e05060" stroke-width="0.3" opacity="0.25"/>
<line x1="136.70" y1="123.88" x2="136.70" y2="120.29" stroke="#e05060" stroke-width="0.3" opacity="0.25"/>
<line x1="138.61" y1="124.89" x2="138.61" y2="121.03" stroke="#e05060" stroke-width="0.3" opacity="0.25"/>
<line x1="140.53" y1="125.19" x2="140.53" y2="122.30" stroke="#e05060" stroke-width="0.3" opacity="0.25"/>
<line x1="142.44" y1="124.70" x2="142.44" y2="123.70" stroke="#e05060" stroke-width="0.3" opacity="0.25"/>
<line x1="144.36" y1="123.57" x2="144.36" y2="124.78" stroke="#e05060" stroke-width="0.3" opacity="0.25"/>
<line x1="146.28" y1="122.16" x2="146.28" y2="125.20" stroke="#e05060" stroke-width="0.3" opacity="0.25"/>
<line x1="148.19" y1="120.92" x2="148.19" y2="124.82" stroke="#e05060" stroke-width="0.3" opacity="0.25"/>
<line x1="150.11" y1="120.25" x2="150.11" y2="123.76" stroke="#e05060" stroke-width="0.3" opacity="0.25"/>
<line x1="152.02" y1="120.37" x2="152.02" y2="122.36" stroke="#e05060" stroke-width="0.3" opacity="0.25"/>
<line x1="153.94" y1="121.22" x2="153.94" y2="121.07" stroke="#e05060" stroke-width="0.3" opacity="0.25"/>
<line x1="155.85" y1="122.55" x2="155.85" y2="120.30" stroke="#e05060" stroke-width="0.3" opacity="0.25"/>
<line x1="157.77" y1="123.93" x2="157.77" y2="120.30" stroke="#e05060" stroke-width="0.3" opacity="0.25"/>
<line x1="159.68" y1="124.78" x2="159.68" y2="121.17" stroke="#e05060" stroke-width="0.3" opacity="0.25"/>
<polyline points="118.50,132.73 118.98,133.14 119.46,133.55 119.94,133.91 120.42,134.22 120.89,134.22 121.37,134.03 121.85,133.81 122.33,133.54 122.81,133.24 123.29,132.92 123.77,132.58 124.25,132.23 124.73,131.87 125.20,131.51 125.68,131.17 126.16,130.84 126.64,130.54 127.12,130.26 127.60,130.02 128.08,129.82 128.56,129.67 129.04,129.57 129.51,129.51 129.99,129.50 130.47,129.55 130.95,129.65 131.43,129.79 131.91,129.98 132.39,130.21 132.87,130.48 133.35,130.78 133.82,131.10 134.30,131.45 134.78,131.80 135.26,132.16 135.74,132.51 136.22,132.86 136.70,133.18 137.18,133.49 137.66,133.76 138.13,133.99 138.61,134.19 139.09,134.34 139.57,134.44 140.05,134.49 140.53,134.49 141.01,134.44 141.49,134.34 141.97,134.20 142.44,134.00 142.92,133.77 143.40,133.50 143.88,133.20 144.36,132.87 144.84,132.53 145.32,132.17 145.80,131.82 146.28,131.46 146.75,131.12 147.23,130.79 147.71,130.49 148.19,130.22 148.67,129.99 149.15,129.80 149.63,129.65 150.11,129.55 150.59,129.51 151.06,129.51 151.54,129.56 152.02,129.67 152.50,129.82 152.98,130.01 153.46,130.25 153.94,130.52 154.42,130.83 154.90,131.15 155.37,131.50 155.85,131.85 156.33,132.21 156.81,132.56 157.29,132.91 157.77,133.23 158.25,133.53 158.73,133.79 159.21,134.02 159.68,134.08 160.16,133.84 160.64,133.52 161.12,133.15 161.60,132.75" fill="none" stroke="#e05060" stroke-width="0.55" opacity="0.62"/>
<polyline points="118.50,131.66 118.98,131.63 119.46,131.72 119.94,131.92 120.42,132.24 120.89,132.61 121.37,132.95 121.85,133.27 122.33,133.57 122.81,133.83 123.29,134.05 123.77,134.24 124.25,134.37 124.73,134.46 125.20,134.50 125.68,134.48 126.16,134.42 126.64,134.31 127.12,134.14 127.60,133.94 128.08,133.69 128.56,133.41 129.04,133.11 129.51,132.77 129.99,132.43 130.47,132.07 130.95,131.71 131.43,131.36 131.91,131.02 132.39,130.70 132.87,130.41 133.35,130.15 133.82,129.93 134.30,129.75 134.78,129.62 135.26,129.53 135.74,129.50 136.22,129.52 136.70,129.59 137.18,129.70 137.66,129.87 138.13,130.08 138.61,130.33 139.09,130.61 139.57,130.92 140.05,131.25 140.53,131.60 141.01,131.96 141.49,132.31 141.97,132.66 142.44,133.00 142.92,133.32 143.40,133.61 143.88,133.87 144.36,134.08 144.84,134.26 145.32,134.39 145.80,134.47 146.28,134.50 146.75,134.48 147.23,134.41 147.71,134.29 148.19,134.12 148.67,133.91 149.15,133.65 149.63,133.37 150.11,133.06 150.59,132.72 151.06,132.37 151.54,132.02 152.02,131.66 152.50,131.31 152.98,130.97 153.46,130.66 153.94,130.37 154.42,130.12 154.90,129.90 155.37,129.73 155.85,129.60 156.33,129.53 156.81,129.50 157.29,129.53 157.77,129.60 158.25,129.73 158.73,129.90 159.21,130.11 159.68,130.47 160.16,130.95 160.64,131.36 161.12,131.68 161.60,131.90" fill="none" stroke="#e05060" stroke-width="0.55" opacity="0.62"/>
<line x1="119.46" y1="133.55" x2="119.46" y2="131.72" stroke="#e05060" stroke-width="0.3" opacity="0.31"/>
<line x1="121.37" y1="134.03" x2="121.37" y2="132.95" stroke="#e05060" stroke-width="0.3" opacity="0.31"/>
<line x1="123.29" y1="132.92" x2="123.29" y2="134.05" stroke="#e05060" stroke-width="0.3" opacity="0.31"/>
<line x1="125.20" y1="131.51" x2="125.20" y2="134.50" stroke="#e05060" stroke-width="0.3" opacity="0.31"/>
<line x1="127.12" y1="130.26" x2="127.12" y2="134.14" stroke="#e05060" stroke-width="0.3" opacity="0.31"/>
<line x1="129.04" y1="129.57" x2="129.04" y2="133.11" stroke="#e05060" stroke-width="0.3" opacity="0.31"/>
<line x1="130.95" y1="129.65" x2="130.95" y2="131.71" stroke="#e05060" stroke-width="0.3" opacity="0.31"/>
<line x1="132.87" y1="130.48" x2="132.87" y2="130.41" stroke="#e05060" stroke-width="0.3" opacity="0.31"/>
<line x1="134.78" y1="131.80" x2="134.78" y2="129.62" stroke="#e05060" stroke-width="0.3" opacity="0.31"/>
<line x1="136.70" y1="133.18" x2="136.70" y2="129.59" stroke="#e05060" stroke-width="0.3" opacity="0.31"/>
<line x1="138.61" y1="134.19" x2="138.61" y2="130.33" stroke="#e05060" stroke-width="0.3" opacity="0.31"/>
<line x1="140.53" y1="134.49" x2="140.53" y2="131.60" stroke="#e05060" stroke-width="0.3" opacity="0.31"/>
<line x1="142.44" y1="134.00" x2="142.44" y2="133.00" stroke="#e05060" stroke-width="0.3" opacity="0.31"/>
<line x1="144.36" y1="132.87" x2="144.36" y2="134.08" stroke="#e05060" stroke-width="0.3" opacity="0.31"/>
<line x1="146.28" y1="131.46" x2="146.28" y2="134.50" stroke="#e05060" stroke-width="0.3" opacity="0.31"/>
<line x1="148.19" y1="130.22" x2="148.19" y2="134.12" stroke="#e05060" stroke-width="0.3" opacity="0.31"/>
<line x1="150.11" y1="129.55" x2="150.11" y2="133.06" stroke="#e05060" stroke-width="0.3" opacity="0.31"/>
<line x1="152.02" y1="129.67" x2="152.02" y2="131.66" stroke="#e05060" stroke-width="0.3" opacity="0.31"/>
<line x1="153.94" y1="130.52" x2="153.94" y2="130.37" stroke="#e05060" stroke-width="0.3" opacity="0.31"/>
<line x1="155.85" y1="131.85" x2="155.85" y2="129.60" stroke="#e05060" stroke-width="0.3" opacity="0.31"/>
<line x1="157.77" y1="133.23" x2="157.77" y2="129.60" stroke="#e05060" stroke-width="0.3" opacity="0.31"/>
<line x1="159.68" y1="134.08" x2="159.68" y2="130.47" stroke="#e05060" stroke-width="0.3" opacity="0.31"/>
<polyline points="118.50,142.23 118.98,142.64 119.46,143.05 119.94,143.41 120.42,143.72 120.89,143.72 121.37,143.53 121.85,143.31 122.33,143.04 122.81,142.74 123.29,142.42 123.77,142.08 124.25,141.73 124.73,141.37 125.20,141.01 125.68,140.67 126.16,140.34 126.64,140.04 127.12,139.76 127.60,139.52 128.08,139.32 128.56,139.17 129.04,139.07 129.51,139.01 129.99,139.00 130.47,139.05 130.95,139.15 131.43,139.29 131.91,139.48 132.39,139.71 132.87,139.98 133.35,140.28 133.82,140.60 134.30,140.95 134.78,141.30 135.26,141.66 135.74,142.01 136.22,142.36 136.70,142.68 137.18,142.99 137.66,143.26 138.13,143.49 138.61,143.69 139.09,143.84 139.57,143.94 140.05,143.99 140.53,143.99 141.01,143.94 141.49,143.84 141.97,143.70 142.44,143.50 142.92,143.27 143.40,143.00 143.88,142.70 144.36,142.37 144.84,142.03 145.32,141.67 145.80,141.32 146.28,140.96 146.75,140.62 147.23,140.29 147.71,139.99 148.19,139.72 148.67,139.49 149.15,139.30 149.63,139.15 150.11,139.05 150.59,139.01 151.06,139.01 151.54,139.06 152.02,139.17 152.50,139.32 152.98,139.51 153.46,139.75 153.94,140.02 154.42,140.33 154.90,140.65 155.37,141.00 155.85,141.35 156.33,141.71 156.81,142.06 157.29,142.41 157.77,142.73 158.25,143.03 158.73,143.29 159.21,143.52 159.68,143.58 160.16,143.34 160.64,143.02 161.12,142.65 161.60,142.25" fill="none" stroke="#d02636" stroke-width="0.55" opacity="1.0"/>
<polyline points="118.50,141.16 118.98,141.13 119.46,141.22 119.94,141.42 120.42,141.74 120.89,142.11 121.37,142.45 121.85,142.77 122.33,143.07 122.81,143.33 123.29,143.55 123.77,143.74 124.25,143.87 124.73,143.96 125.20,144.00 125.68,143.98 126.16,143.92 126.64,143.81 127.12,143.64 127.60,143.44 128.08,143.19 128.56,142.91 129.04,142.61 129.51,142.27 129.99,141.93 130.47,141.57 130.95,141.21 131.43,140.86 131.91,140.52 132.39,140.20 132.87,139.91 133.35,139.65 133.82,139.43 134.30,139.25 134.78,139.12 135.26,139.03 135.74,139.00 136.22,139.02 136.70,139.09 137.18,139.20 137.66,139.37 138.13,139.58 138.61,139.83 139.09,140.11 139.57,140.42 140.05,140.75 140.53,141.10 141.01,141.46 141.49,141.81 141.97,142.16 142.44,142.50 142.92,142.82 143.40,143.11 143.88,143.37 144.36,143.58 144.84,143.76 145.32,143.89 145.80,143.97 146.28,144.00 146.75,143.98 147.23,143.91 147.71,143.79 148.19,143.62 148.67,143.41 149.15,143.15 149.63,142.87 150.11,142.56 150.59,142.22 151.06,141.87 151.54,141.52 152.02,141.16 152.50,140.81 152.98,140.47 153.46,140.16 153.94,139.87 154.42,139.62 154.90,139.40 155.37,139.23 155.85,139.10 156.33,139.03 156.81,139.00 157.29,139.03 157.77,139.10 158.25,139.23 158.73,139.40 159.21,139.61 159.68,139.97 160.16,140.45 160.64,140.86 161.12,141.18 161.60,141.40" fill="none" stroke="#d02636" stroke-width="0.55" opacity="1.0"/>
<line x1="119.46" y1="143.05" x2="119.46" y2="141.22" stroke="#d02636" stroke-width="0.3" opacity="0.5"/>
<line x1="121.37" y1="143.53" x2="121.37" y2="142.45" stroke="#d02636" stroke-width="0.3" opacity="0.5"/>
<line x1="123.29" y1="142.42" x2="123.29" y2="143.55" stroke="#d02636" stroke-width="0.3" opacity="0.5"/>
<line x1="125.20" y1="141.01" x2="125.20" y2="144.00" stroke="#d02636" stroke-width="0.3" opacity="0.5"/>
<line x1="127.12" y1="139.76" x2="127.12" y2="143.64" stroke="#d02636" stroke-width="0.3" opacity="0.5"/>
<line x1="129.04" y1="139.07" x2="129.04" y2="142.61" stroke="#d02636" stroke-width="0.3" opacity="0.5"/>
<line x1="130.95" y1="139.15" x2="130.95" y2="141.21" stroke="#d02636" stroke-width="0.3" opacity="0.5"/>
<line x1="132.87" y1="139.98" x2="132.87" y2="139.91" stroke="#d02636" stroke-width="0.3" opacity="0.5"/>
<line x1="134.78" y1="141.30" x2="134.78" y2="139.12" stroke="#d02636" stroke-width="0.3" opacity="0.5"/>
<line x1="136.70" y1="142.68" x2="136.70" y2="139.09" stroke="#d02636" stroke-width="0.3" opacity="0.5"/>
<line x1="138.61" y1="143.69" x2="138.61" y2="139.83" stroke="#d02636" stroke-width="0.3" opacity="0.5"/>
<line x1="140.53" y1="143.99" x2="140.53" y2="141.10" stroke="#d02636" stroke-width="0.3" opacity="0.5"/>
<line x1="142.44" y1="143.50" x2="142.44" y2="142.50" stroke="#d02636" stroke-width="0.3" opacity="0.5"/>
<line x1="144.36" y1="142.37" x2="144.36" y2="143.58" stroke="#d02636" stroke-width="0.3" opacity="0.5"/>
<line x1="146.28" y1="140.96" x2="146.28" y2="144.00" stroke="#d02636" stroke-width="0.3" opacity="0.5"/>
<line x1="148.19" y1="139.72" x2="148.19" y2="143.62" stroke="#d02636" stroke-width="0.3" opacity="0.5"/>
<line x1="150.11" y1="139.05" x2="150.11" y2="142.56" stroke="#d02636" stroke-width="0.3" opacity="0.5"/>
<line x1="152.02" y1="139.17" x2="152.02" y2="141.16" stroke="#d02636" stroke-width="0.3" opacity="0.5"/>
<line x1="153.94" y1="140.02" x2="153.94" y2="139.87" stroke="#d02636" stroke-width="0.3" opacity="0.5"/>
<line x1="155.85" y1="141.35" x2="155.85" y2="139.10" stroke="#d02636" stroke-width="0.3" opacity="0.5"/>
<line x1="157.77" y1="142.73" x2="157.77" y2="139.10" stroke="#d02636" stroke-width="0.3" opacity="0.5"/>
<line x1="159.68" y1="143.58" x2="159.68" y2="139.97" stroke="#d02636" stroke-width="0.3" opacity="0.5"/>
<polyline points="118.50,150.93 118.98,151.34 119.46,151.75 119.94,152.11 120.42,152.42 120.89,152.42 121.37,152.23 121.85,152.01 122.33,151.74 122.81,151.44 123.29,151.12 123.77,150.78 124.25,150.43 124.73,150.07 125.20,149.71 125.68,149.37 126.16,149.04 126.64,148.74 127.12,148.46 127.60,148.22 128.08,148.02 128.56,147.87 129.04,147.77 129.51,147.71 129.99,147.70 130.47,147.75 130.95,147.85 131.43,147.99 131.91,148.18 132.39,148.41 132.87,148.68 133.35,148.98 133.82,149.30 134.30,149.65 134.78,150.00 135.26,150.36 135.74,150.71 136.22,151.06 136.70,151.38 137.18,151.69 137.66,151.96 138.13,152.19 138.61,152.39 139.09,152.54 139.57,152.64 140.05,152.69 140.53,152.69 141.01,152.64 141.49,152.54 141.97,152.40 142.44,152.20 142.92,151.97 143.40,151.70 143.88,151.40 144.36,151.07 144.84,150.73 145.32,150.37 145.80,150.02 146.28,149.66 146.75,149.32 147.23,148.99 147.71,148.69 148.19,148.42 148.67,148.19 149.15,148.00 149.63,147.85 150.11,147.75 150.59,147.71 151.06,147.71 151.54,147.76 152.02,147.87 152.50,148.02 152.98,148.21 153.46,148.45 153.94,148.72 154.42,149.03 154.90,149.35 155.37,149.70 155.85,150.05 156.33,150.41 156.81,150.76 157.29,151.11 157.77,151.43 158.25,151.73 158.73,151.99 159.21,152.22 159.68,152.28 160.16,152.04 160.64,151.72 161.12,151.35 161.60,150.95" fill="none" stroke="#d02636" stroke-width="0.55" opacity="0.95"/>
<polyline points="118.50,149.86 118.98,149.83 119.46,149.92 119.94,150.12 120.42,150.44 120.89,150.81 121.37,151.15 121.85,151.47 122.33,151.77 122.81,152.03 123.29,152.25 123.77,152.44 124.25,152.57 124.73,152.66 125.20,152.70 125.68,152.68 126.16,152.62 126.64,152.51 127.12,152.34 127.60,152.14 128.08,151.89 128.56,151.61 129.04,151.31 129.51,150.97 129.99,150.63 130.47,150.27 130.95,149.91 131.43,149.56 131.91,149.22 132.39,148.90 132.87,148.61 133.35,148.35 133.82,148.13 134.30,147.95 134.78,147.82 135.26,147.73 135.74,147.70 136.22,147.72 136.70,147.79 137.18,147.90 137.66,148.07 138.13,148.28 138.61,148.53 139.09,148.81 139.57,149.12 140.05,149.45 140.53,149.80 141.01,150.16 141.49,150.51 141.97,150.86 142.44,151.20 142.92,151.52 143.40,151.81 143.88,152.07 144.36,152.28 144.84,152.46 145.32,152.59 145.80,152.67 146.28,152.70 146.75,152.68 147.23,152.61 147.71,152.49 148.19,152.32 148.67,152.11 149.15,151.85 149.63,151.57 150.11,151.26 150.59,150.92 151.06,150.57 151.54,150.22 152.02,149.86 152.50,149.51 152.98,149.17 153.46,148.86 153.94,148.57 154.42,148.32 154.90,148.10 155.37,147.93 155.85,147.80 156.33,147.73 156.81,147.70 157.29,147.73 157.77,147.80 158.25,147.93 158.73,148.10 159.21,148.31 159.68,148.67 160.16,149.15 160.64,149.56 161.12,149.88 161.60,150.10" fill="none" stroke="#d02636" stroke-width="0.55" opacity="0.95"/>
<line x1="119.46" y1="151.75" x2="119.46" y2="149.92" stroke="#d02636" stroke-width="0.3" opacity="0.475"/>
<line x1="121.37" y1="152.23" x2="121.37" y2="151.15" stroke="#d02636" stroke-width="0.3" opacity="0.475"/>
<line x1="123.29" y1="151.12" x2="123.29" y2="152.25" stroke="#d02636" stroke-width="0.3" opacity="0.475"/>
<line x1="125.20" y1="149.71" x2="125.20" y2="152.70" stroke="#d02636" stroke-width="0.3" opacity="0.475"/>
<line x1="127.12" y1="148.46" x2="127.12" y2="152.34" stroke="#d02636" stroke-width="0.3" opacity="0.475"/>
<line x1="129.04" y1="147.77" x2="129.04" y2="151.31" stroke="#d02636" stroke-width="0.3" opacity="0.475"/>
<line x1="130.95" y1="147.85" x2="130.95" y2="149.91" stroke="#d02636" stroke-width="0.3" opacity="0.475"/>
<line x1="132.87" y1="148.68" x2="132.87" y2="148.61" stroke="#d02636" stroke-width="0.3" opacity="0.475"/>
<line x1="134.78" y1="150.00" x2="134.78" y2="147.82" stroke="#d02636" stroke-width="0.3" opacity="0.475"/>
<line x1="136.70" y1="151.38" x2="136.70" y2="147.79" stroke="#d02636" stroke-width="0.3" opacity="0.475"/>
<line x1="138.61" y1="152.39" x2="138.61" y2="148.53" stroke="#d02636" stroke-width="0.3" opacity="0.475"/>
<line x1="140.53" y1="152.69" x2="140.53" y2="149.80" stroke="#d02636" stroke-width="0.3" opacity="0.475"/>
<line x1="142.44" y1="152.20" x2="142.44" y2="151.20" stroke="#d02636" stroke-width="0.3" opacity="0.475"/>
<line x1="144.36" y1="151.07" x2="144.36" y2="152.28" stroke="#d02636" stroke-width="0.3" opacity="0.475"/>
<line x1="146.28" y1="149.66" x2="146.28" y2="152.70" stroke="#d02636" stroke-width="0.3" opacity="0.475"/>
<line x1="148.19" y1="148.42" x2="148.19" y2="152.32" stroke="#d02636" stroke-width="0.3" opacity="0.475"/>
<line x1="150.11" y1="147.75" x2="150.11" y2="151.26" stroke="#d02636" stroke-width="0.3" opacity="0.475"/>
<line x1="152.02" y1="147.87" x2="152.02" y2="149.86" stroke="#d02636" stroke-width="0.3" opacity="0.475"/>
<line x1="153.94" y1="148.72" x2="153.94" y2="148.57" stroke="#d02636" stroke-width="0.3" opacity="0.475"/>
<line x1="155.85" y1="150.05" x2="155.85" y2="147.80" stroke="#d02636" stroke-width="0.3" opacity="0.475"/>
<line x1="157.77" y1="151.43" x2="157.77" y2="147.80" stroke="#d02636" stroke-width="0.3" opacity="0.475"/>
<line x1="159.68" y1="152.28" x2="159.68" y2="148.67" stroke="#d02636" stroke-width="0.3" opacity="0.475"/>
<path d="M139.6,90.4 L139.6,80.8 L137.1,80.8 L142.9,75.4 L148.7,80.8 L146.2,80.8 L146.2,90.4 Z" fill="#fff" stroke="#555" stroke-width="0.45"/>
<text x="144.3" y="84.2" font-size="3.5" text-anchor="middle" fill="#333" stroke="#333" stroke-width="0.16" font-weight="bold" transform="rotate(-90 144.3 84.2)">Iterate</text>
<rect x="176.6" y="12.4" width="70.8" height="71.8" fill="#fff" stroke="#b5b5b5" stroke-width="0.6" rx="0"/>
<text x="212.5" y="17.2" font-size="4.7" text-anchor="middle" fill="#2a2a2a" stroke="#2a2a2a" stroke-width="0.08" font-weight="normal">In silico</text>
<text x="212.5" y="22.6" font-size="4.7" text-anchor="middle" fill="#2a2a2a" stroke="#2a2a2a" stroke-width="0.08" font-weight="normal">activity predictions</text>
<line x1="185.2" y1="49.8" x2="190.0" y2="40" stroke="#8c8c8c" stroke-width="0.2"/>
<line x1="185.2" y1="49.8" x2="190.0" y2="50" stroke="#8c8c8c" stroke-width="0.2"/>
<line x1="185.2" y1="49.8" x2="190.0" y2="60" stroke="#8c8c8c" stroke-width="0.2"/>
<line x1="190.0" y1="40" x2="196.0" y2="28" stroke="#8c8c8c" stroke-width="0.2"/>
<line x1="190.0" y1="40" x2="196.0" y2="39" stroke="#8c8c8c" stroke-width="0.2"/>
<line x1="190.0" y1="40" x2="196.0" y2="50" stroke="#8c8c8c" stroke-width="0.2"/>
<line x1="190.0" y1="40" x2="196.0" y2="61" stroke="#8c8c8c" stroke-width="0.2"/>
<line x1="190.0" y1="40" x2="196.0" y2="71" stroke="#8c8c8c" stroke-width="0.2"/>
<line x1="190.0" y1="50" x2="196.0" y2="28" stroke="#8c8c8c" stroke-width="0.2"/>
<line x1="190.0" y1="50" x2="196.0" y2="39" stroke="#8c8c8c" stroke-width="0.2"/>
<line x1="190.0" y1="50" x2="196.0" y2="50" stroke="#8c8c8c" stroke-width="0.2"/>
<line x1="190.0" y1="50" x2="196.0" y2="61" stroke="#8c8c8c" stroke-width="0.2"/>
<line x1="190.0" y1="50" x2="196.0" y2="71" stroke="#8c8c8c" stroke-width="0.2"/>
<line x1="190.0" y1="60" x2="196.0" y2="28" stroke="#8c8c8c" stroke-width="0.2"/>
<line x1="190.0" y1="60" x2="196.0" y2="39" stroke="#8c8c8c" stroke-width="0.2"/>
<line x1="190.0" y1="60" x2="196.0" y2="50" stroke="#8c8c8c" stroke-width="0.2"/>
<line x1="190.0" y1="60" x2="196.0" y2="61" stroke="#8c8c8c" stroke-width="0.2"/>
<line x1="190.0" y1="60" x2="196.0" y2="71" stroke="#8c8c8c" stroke-width="0.2"/>
<line x1="196.0" y1="28" x2="201.8" y2="32" stroke="#8c8c8c" stroke-width="0.2"/>
<line x1="196.0" y1="28" x2="201.8" y2="44" stroke="#8c8c8c" stroke-width="0.2"/>
<line x1="196.0" y1="28" x2="201.8" y2="56" stroke="#8c8c8c" stroke-width="0.2"/>
<line x1="196.0" y1="28" x2="201.8" y2="68" stroke="#8c8c8c" stroke-width="0.2"/>
<line x1="196.0" y1="39" x2="201.8" y2="32" stroke="#8c8c8c" stroke-width="0.2"/>
<line x1="196.0" y1="39" x2="201.8" y2="44" stroke="#8c8c8c" stroke-width="0.2"/>
<line x1="196.0" y1="39" x2="201.8" y2="56" stroke="#8c8c8c" stroke-width="0.2"/>
<line x1="196.0" y1="39" x2="201.8" y2="68" stroke="#8c8c8c" stroke-width="0.2"/>
<line x1="196.0" y1="50" x2="201.8" y2="32" stroke="#8c8c8c" stroke-width="0.2"/>
<line x1="196.0" y1="50" x2="201.8" y2="44" stroke="#8c8c8c" stroke-width="0.2"/>
<line x1="196.0" y1="50" x2="201.8" y2="56" stroke="#8c8c8c" stroke-width="0.2"/>
<line x1="196.0" y1="50" x2="201.8" y2="68" stroke="#8c8c8c" stroke-width="0.2"/>
<line x1="196.0" y1="61" x2="201.8" y2="32" stroke="#8c8c8c" stroke-width="0.2"/>
<line x1="196.0" y1="61" x2="201.8" y2="44" stroke="#8c8c8c" stroke-width="0.2"/>
<line x1="196.0" y1="61" x2="201.8" y2="56" stroke="#8c8c8c" stroke-width="0.2"/>
<line x1="196.0" y1="61" x2="201.8" y2="68" stroke="#8c8c8c" stroke-width="0.2"/>
<line x1="196.0" y1="71" x2="201.8" y2="32" stroke="#8c8c8c" stroke-width="0.2"/>
<line x1="196.0" y1="71" x2="201.8" y2="44" stroke="#8c8c8c" stroke-width="0.2"/>
<line x1="196.0" y1="71" x2="201.8" y2="56" stroke="#8c8c8c" stroke-width="0.2"/>
<line x1="196.0" y1="71" x2="201.8" y2="68" stroke="#8c8c8c" stroke-width="0.2"/>
<line x1="201.8" y1="32" x2="207.8" y2="30.2" stroke="#8c8c8c" stroke-width="0.2"/>
<line x1="201.8" y1="32" x2="207.8" y2="49.6" stroke="#8c8c8c" stroke-width="0.2"/>
<line x1="201.8" y1="32" x2="207.8" y2="69.4" stroke="#8c8c8c" stroke-width="0.2"/>
<line x1="201.8" y1="44" x2="207.8" y2="30.2" stroke="#8c8c8c" stroke-width="0.2"/>
<line x1="201.8" y1="44" x2="207.8" y2="49.6" stroke="#8c8c8c" stroke-width="0.2"/>
<line x1="201.8" y1="44" x2="207.8" y2="69.4" stroke="#8c8c8c" stroke-width="0.2"/>
<line x1="201.8" y1="56" x2="207.8" y2="30.2" stroke="#8c8c8c" stroke-width="0.2"/>
<line x1="201.8" y1="56" x2="207.8" y2="49.6" stroke="#8c8c8c" stroke-width="0.2"/>
<line x1="201.8" y1="56" x2="207.8" y2="69.4" stroke="#8c8c8c" stroke-width="0.2"/>
<line x1="201.8" y1="68" x2="207.8" y2="30.2" stroke="#8c8c8c" stroke-width="0.2"/>
<line x1="201.8" y1="68" x2="207.8" y2="49.6" stroke="#8c8c8c" stroke-width="0.2"/>
<line x1="201.8" y1="68" x2="207.8" y2="69.4" stroke="#8c8c8c" stroke-width="0.2"/>
<circle cx="190.0" cy="40" r="0.45" fill="#555" stroke="none" stroke-width="0.5"/>
<circle cx="190.0" cy="50" r="0.45" fill="#555" stroke="none" stroke-width="0.5"/>
<circle cx="190.0" cy="60" r="0.45" fill="#555" stroke="none" stroke-width="0.5"/>
<circle cx="196.0" cy="28" r="0.45" fill="#555" stroke="none" stroke-width="0.5"/>
<circle cx="196.0" cy="39" r="0.45" fill="#555" stroke="none" stroke-width="0.5"/>
<circle cx="196.0" cy="50" r="0.45" fill="#555" stroke="none" stroke-width="0.5"/>
<circle cx="196.0" cy="61" r="0.45" fill="#555" stroke="none" stroke-width="0.5"/>
<circle cx="196.0" cy="71" r="0.45" fill="#555" stroke="none" stroke-width="0.5"/>
<circle cx="201.8" cy="32" r="0.45" fill="#555" stroke="none" stroke-width="0.5"/>
<circle cx="201.8" cy="44" r="0.45" fill="#555" stroke="none" stroke-width="0.5"/>
<circle cx="201.8" cy="56" r="0.45" fill="#555" stroke="none" stroke-width="0.5"/>
<circle cx="201.8" cy="68" r="0.45" fill="#555" stroke="none" stroke-width="0.5"/>
<circle cx="185.2" cy="49.8" r="0.8" fill="#222" stroke="none" stroke-width="0.5"/>
<circle cx="207.8" cy="30.2" r="2.5" fill="#d8282e" stroke="#a01018" stroke-width="0.3"/>
<circle cx="207.8" cy="49.6" r="2.5" fill="#1ea392" stroke="#0f7f70" stroke-width="0.3"/>
<circle cx="207.8" cy="69.4" r="2.5" fill="#eeb030" stroke="#b98018" stroke-width="0.3"/>
<text x="185.8" y="76.4" font-size="4.7" text-anchor="middle" fill="#2a2a2a" stroke="#2a2a2a" stroke-width="0.08" font-weight="normal">Malinois</text>
<text x="185.8" y="81.4" font-size="4.7" text-anchor="middle" fill="#2a2a2a" stroke="#2a2a2a" stroke-width="0.08" font-weight="normal">model</text>
<path d="M215.60,27.48 Q218.66,27.18 221.54,25.80 L221.90,30.00 Q218.66,29.58 215.96,31.26 Z" fill="#e2222c" stroke="#9a1018" stroke-width="0.3"/>
<path d="M216.20,30.30 Q218.00,28.80 219.80,28.92" fill="none" stroke="#9a1018" stroke-width="0.36"/>
<circle cx="218.6" cy="47.4" r="2.7" fill="#1ea392" stroke="#0f7f70" stroke-width="0.3"/>
<ellipse cx="218.8" cy="67.8" rx="3.0" ry="2.3" fill="#f2a93a" stroke="#c98218" stroke-width="0.3" transform="rotate(-20 218.8 67.8)"/>
<text x="219.0" y="35.5" font-size="4.7" text-anchor="middle" fill="#2a2a2a" stroke="#2a2a2a" stroke-width="0.08" font-weight="normal">SK-N-SH</text>
<text x="219.0" y="41.0" font-size="4.7" text-anchor="middle" fill="#2a2a2a" stroke="#2a2a2a" stroke-width="0.08" font-weight="normal">prediction</text>
<text x="219.0" y="56.2" font-size="4.7" text-anchor="middle" fill="#2a2a2a" stroke="#2a2a2a" stroke-width="0.08" font-weight="normal">K562</text>
<text x="219.0" y="61.5" font-size="4.7" text-anchor="middle" fill="#2a2a2a" stroke="#2a2a2a" stroke-width="0.08" font-weight="normal">prediction</text>
<text x="219.0" y="75.7" font-size="4.7" text-anchor="middle" fill="#2a2a2a" stroke="#2a2a2a" stroke-width="0.08" font-weight="normal">HepG2</text>
<text x="219.0" y="80.6" font-size="4.7" text-anchor="middle" fill="#2a2a2a" stroke="#2a2a2a" stroke-width="0.08" font-weight="normal">prediction</text>
<polyline points="229.50,27.40 230.00,27.67 230.50,27.89 231.00,28.05 231.50,28.10 232.00,28.05 232.50,27.89 233.00,27.67 233.50,27.40 234.00,27.13 234.50,26.91 235.00,26.75 235.50,26.70 236.00,26.75 236.50,26.91 237.00,27.13 237.50,27.40 238.00,27.67 238.50,27.89 239.00,28.05 239.50,28.10 240.00,28.05 240.50,27.89 241.00,27.67 241.50,27.40 242.00,27.13 242.50,26.91 243.00,26.75 243.50,26.70 244.00,26.75 244.50,26.91" fill="none" stroke="#8a8aa8" stroke-width="1.1"/>
<line x1="229.5" y1="31.3" x2="245" y2="31.3" stroke="#2a6a66" stroke-width="0.6"/>
<line x1="229.5" y1="32.2" x2="245" y2="32.2" stroke="#e0323a" stroke-width="0.6"/>
<polyline points="229.50,36.30 230.00,36.57 230.50,36.79 231.00,36.95 231.50,37.00 232.00,36.95 232.50,36.79 233.00,36.57 233.50,36.30 234.00,36.03 234.50,35.81 235.00,35.65 235.50,35.60 236.00,35.65 236.50,35.81 237.00,36.03 237.50,36.30 238.00,36.57 238.50,36.79 239.00,36.95 239.50,37.00 240.00,36.95 240.50,36.79 241.00,36.57 241.50,36.30 242.00,36.03 242.50,35.81 243.00,35.65 243.50,35.60 244.00,35.65 244.50,35.81" fill="none" stroke="#e04a52" stroke-width="1.1"/>
<rect x="239.2" y="38.9" width="4.1" height="3.9" fill="#d8282e" stroke="none" stroke-width="0.5" rx="0"/>
<line x1="229.5" y1="42.8" x2="245" y2="42.8" stroke="#333" stroke-width="0.5"/>
<polyline points="229.50,47.00 230.00,47.27 230.50,47.49 231.00,47.65 231.50,47.70 232.00,47.65 232.50,47.49 233.00,47.27 233.50,47.00 234.00,46.73 234.50,46.51 235.00,46.35 235.50,46.30 236.00,46.35 236.50,46.51 237.00,46.73 237.50,47.00 238.00,47.27 238.50,47.49 239.00,47.65 239.50,47.70 240.00,47.65 240.50,47.49 241.00,47.27 241.50,47.00 242.00,46.73 242.50,46.51 243.00,46.35 243.50,46.30 244.00,46.35 244.50,46.51" fill="none" stroke="#a054c0" stroke-width="1.1"/>
<rect x="230.3" y="50.2" width="4.4" height="4.5" fill="#1ea392" stroke="none" stroke-width="0.5" rx="0"/>
<rect x="239.2" y="50.2" width="4.1" height="4.5" fill="#d8282e" stroke="none" stroke-width="0.5" rx="0"/>
<line x1="229.5" y1="54.7" x2="245" y2="54.7" stroke="#333" stroke-width="0.5"/>
<polyline points="229.50,59.00 230.00,59.27 230.50,59.49 231.00,59.65 231.50,59.70 232.00,59.65 232.50,59.49 233.00,59.27 233.50,59.00 234.00,58.73 234.50,58.51 235.00,58.35 235.50,58.30 236.00,58.35 236.50,58.51 237.00,58.73 237.50,59.00 238.00,59.27 238.50,59.49 239.00,59.65 239.50,59.70 240.00,59.65 240.50,59.49 241.00,59.27 241.50,59.00 242.00,58.73 242.50,58.51 243.00,58.35 243.50,58.30 244.00,58.35 244.50,58.51" fill="none" stroke="#30b0a8" stroke-width="1.1"/>
<rect x="230.3" y="60.6" width="4.4" height="3.8" fill="#1ea392" stroke="none" stroke-width="0.5" rx="0"/>
<line x1="229.5" y1="64.4" x2="245" y2="64.4" stroke="#333" stroke-width="0.5"/>
<path d="M229.5,71 Q232,68.2 236,68.4 L238.5,68.4 Q242,68.2 244.5,71" fill="none" stroke="#e8b040" stroke-width="1.1"/>
<rect x="235.7" y="70.8" width="4.3" height="6.4" fill="#e8b030" stroke="none" stroke-width="0.5" rx="0"/>
<line x1="229.5" y1="77.2" x2="245" y2="77.2" stroke="#e0323a" stroke-width="0.6"/>
<path d="M172.8,44.6 L178.2,44.6 L178.2,42.6 L184.5,49.2 L178.2,55.6 L178.2,53.4 L172.8,53.4 Z" fill="#fbe8e2" stroke="#9a7a70" stroke-width="0.45"/>
<rect x="176.6" y="87.4" width="70.8" height="71" fill="#fff" stroke="#b5b5b5" stroke-width="0.6" rx="0"/>
<text x="212.5" y="92.8" font-size="4.7" text-anchor="middle" fill="#2a2a2a" stroke="#2a2a2a" stroke-width="0.08" font-weight="normal">Cell-type-specific</text>
<text x="212.5" y="98.1" font-size="4.7" text-anchor="middle" fill="#2a2a2a" stroke="#2a2a2a" stroke-width="0.08" font-weight="normal">objective</text>
<text x="212.5" y="103.4" font-size="4.7" text-anchor="middle" fill="#2a2a2a" stroke="#2a2a2a" stroke-width="0.08" font-weight="normal">landscape traversal</text>
<path d="M212.9,115.2 L219.5,109.4 L230,106.8 L240.6,106.8 L242.6,110.8 L236,115.8 L226.6,119.4 L219.6,121.6 L216.2,119.2 Z" fill="#c8ece7" stroke="#3a9a8c" stroke-width="0.45" stroke-linejoin="round"/>
<path d="M220.50,111.80 C221.65,110.93 225.55,109.63 228.30,109.20 C231.05,108.77 235.83,108.62 237.00,109.20 C238.17,109.78 237.03,111.83 235.30,112.70 C233.57,113.57 228.92,114.12 226.60,114.40 C224.28,114.68 222.42,114.83 221.40,114.40 C220.38,113.97 219.35,112.67 220.50,111.80Z" fill="#7fd0c5" stroke="#2a9586" stroke-width="0.3"/>
<ellipse cx="224.9" cy="117.6" rx="2.6" ry="1.5" fill="#7fd0c5" stroke="#2a9586" stroke-width="0.3"/>
<path d="M179.70,143.90 C179.98,141.73 181.75,140.58 183.20,138.70 C184.65,136.82 186.37,134.05 188.40,132.60 C190.43,131.15 193.08,130.00 195.40,130.00 C197.72,130.00 200.57,131.15 202.30,132.60 C204.03,134.05 205.37,136.38 205.80,138.70 C206.23,141.02 205.77,143.95 204.90,146.50 C204.03,149.05 203.35,152.70 200.60,154.00 C197.85,155.30 191.58,154.68 188.40,154.30 C185.22,153.92 182.95,153.43 181.50,151.70 C180.05,149.97 179.42,146.07 179.70,143.90Z" fill="#f7e5b6" stroke="#d8c07e" stroke-width="0.4"/>
<path d="M187.50,142.20 C188.08,139.88 190.02,137.27 191.90,136.10 C193.78,134.93 196.92,134.33 198.80,135.20 C200.68,136.07 202.62,138.83 203.20,141.30 C203.78,143.77 203.75,148.00 202.30,150.00 C200.85,152.00 196.82,153.30 194.50,153.30 C192.18,153.30 189.57,151.85 188.40,150.00 C187.23,148.15 186.92,144.52 187.50,142.20Z" fill="#f2d47a" stroke="#cfa842" stroke-width="0.35"/>
<ellipse cx="196.2" cy="145.7" rx="4.6" ry="5.4" fill="#e6b83c" stroke="#c49a22" stroke-width="0.3"/>
<circle cx="197.5" cy="148.0" r="1.6" fill="#d0a02a" stroke="none" stroke-width="0.5"/>
<path d="M206.60,127.50 C206.77,125.92 207.77,124.73 209.00,124.00 C210.23,123.27 212.30,122.90 214.00,123.10 C215.70,123.30 218.25,124.13 219.20,125.20 C220.15,126.27 219.98,128.03 219.70,129.50 C219.42,130.97 218.70,132.90 217.50,134.00 C216.30,135.10 214.08,136.18 212.50,136.10 C210.92,136.02 208.98,134.93 208.00,133.50 C207.02,132.07 206.43,129.08 206.60,127.50Z" fill="#d4d4d4" stroke="#8f8f8f" stroke-width="0.35"/>
<path d="M209.50,128.50 C209.67,127.50 211.00,126.25 212.00,126.00 C213.00,125.75 215.00,126.08 215.50,127.00 C216.00,127.92 215.75,130.67 215.00,131.50 C214.25,132.33 211.92,132.50 211.00,132.00 C210.08,131.50 209.33,129.50 209.50,128.50Z" fill="#a9a9a9" stroke="#808080" stroke-width="0.3"/>
<path d="M218.80,141.30 C219.17,139.57 219.70,138.30 221.00,137.00 C222.30,135.70 224.22,134.37 226.60,133.50 C228.98,132.63 233.22,130.93 235.30,131.80 C237.38,132.67 238.38,136.10 239.10,138.70 C239.82,141.30 240.52,144.80 239.60,147.40 C238.68,150.00 236.35,153.43 233.60,154.30 C230.85,155.17 225.57,153.75 223.10,152.60 C220.63,151.45 219.52,149.28 218.80,147.40 C218.08,145.52 218.43,143.03 218.80,141.30Z" fill="#f9cdd2" stroke="#dc98a1" stroke-width="0.4"/>
<path d="M222.00,142.00 C221.92,139.92 223.50,138.17 225.00,137.00 C226.50,135.83 229.17,134.83 231.00,135.00 C232.83,135.17 235.00,136.33 236.00,138.00 C237.00,139.67 237.58,142.92 237.00,145.00 C236.42,147.08 234.42,149.75 232.50,150.50 C230.58,151.25 227.25,150.92 225.50,149.50 C223.75,148.08 222.08,144.08 222.00,142.00Z" fill="#f1a3ad" stroke="#cc6e7a" stroke-width="0.35"/>
<path d="M225.50,143.00 C225.75,141.75 227.25,139.67 228.50,139.00 C229.75,138.33 232.00,138.25 233.00,139.00 C234.00,139.75 234.83,142.17 234.50,143.50 C234.17,144.83 232.25,146.50 231.00,147.00 C229.75,147.50 227.92,147.17 227.00,146.50 C226.08,145.83 225.25,144.25 225.50,143.00Z" fill="#e4636f" stroke="#b83c4a" stroke-width="0.3"/>
<circle cx="230.0" cy="143.0" r="1.7" fill="#d22c3c" stroke="none" stroke-width="0.5"/>
<path d="M213,129 L218.8,130.9 L215.3,137.9 L222.3,136.1 L230,143" fill="none" stroke="#c8282e" stroke-width="0.55"/>
<path d="M230,143 L235.3,135.2 L237.9,147.4 Z" fill="none" stroke="#6a1a20" stroke-width="0.4"/>
<defs><linearGradient id="objg" x1="0" x2="0" y1="0" y2="1"><stop offset="0" stop-color="#fbe9e4"/><stop offset="0.4" stop-color="#f9ddd5"/><stop offset="1" stop-color="#f8d6cc"/></linearGradient></defs>
<text x="250.0" y="17.0" font-size="4.7" text-anchor="start" fill="#2a2a2a" stroke="#2a2a2a" stroke-width="0.08" font-weight="normal">Objective</text>
<text x="250.0" y="22.3" font-size="4.7" text-anchor="start" fill="#2a2a2a" stroke="#2a2a2a" stroke-width="0.08" font-weight="normal">function</text>
<path d="M251.0,24.2 L260.6,24.2 L260.6,121.8 L245.2,121.8 L245.2,124.8 L240.4,119.0 L245.2,112.6 L245.2,115.4 L251.0,115.4 Z" fill="url(#objg)" stroke="#d8a090" stroke-width="0.55"/>
<line x1="245.6" y1="30.4" x2="255.2" y2="30.4" stroke="#222" stroke-width="0.4"/>
<rect x="254.35" y="29.549999999999997" width="1.7" height="1.7" fill="#111" stroke="none" stroke-width="0.5" rx="0"/>
<line x1="245.6" y1="40.2" x2="255.2" y2="40.2" stroke="#222" stroke-width="0.4"/>
<rect x="254.6" y="39.6" width="1.2" height="1.2" fill="#d8282e" stroke="none" stroke-width="0.5" rx="0"/>
<line x1="245.6" y1="51.8" x2="255.2" y2="51.8" stroke="#222" stroke-width="0.4"/>
<rect x="254.35" y="50.949999999999996" width="1.7" height="1.7" fill="#111" stroke="none" stroke-width="0.5" rx="0"/>
<line x1="245.6" y1="62.4" x2="255.2" y2="62.4" stroke="#222" stroke-width="0.4"/>
<rect x="254.35" y="61.55" width="1.7" height="1.7" fill="#111" stroke="none" stroke-width="0.5" rx="0"/>
<line x1="245.6" y1="73.6" x2="255.2" y2="73.6" stroke="#222" stroke-width="0.4"/>
<rect x="254.35" y="72.75" width="1.7" height="1.7" fill="#111" stroke="none" stroke-width="0.5" rx="0"/>
<path d="M210.4,113.3 L167.6,113.3 L163.0,117.9 L167.6,122.5 L210.4,122.5 Z" fill="#fff" stroke="none" stroke-width="0.5"/>
<path d="M210.4,113.3 L167.6,113.3 L163.0,117.9 L167.6,122.5 L210.4,122.5" fill="none" stroke="#555" stroke-width="0.45"/>
<path d="M210.4,114.3 L168.0,114.3 L164.4,117.9 L168.0,121.5 L210.4,121.5" fill="none" stroke="#bbb" stroke-width="0.35"/>
<text x="165.8" y="120.1" font-size="4.7" text-anchor="start" fill="#2a2a2a" stroke="#2a2a2a" stroke-width="0.08" font-weight="normal">Update sequence set</text>
<rect x="20.6" y="122.8" width="90.2" height="35.4" fill="#fff" stroke="#b5b5b5" stroke-width="0.6" rx="0"/>
<circle cx="28.9" cy="134.6" r="5.3" fill="none" stroke="#555" stroke-width="0.6"/>
<path d="M23.68,133.68 A5.3,5.3 0 0 1 28.90,129.30" fill="none" stroke="#e0262e" stroke-width="1.3"/>
<path d="M30.10,129.30 L30.10,127.70 Q30.50,126.70 32.30,126.90" fill="none" stroke="#111" stroke-width="0.6"/>
<path d="M31.90,125.90 L33.30,127.00 L31.90,128.00" fill="none" stroke="#111" stroke-width="0.5"/>
<rect x="33.3" y="133.0" width="1.6" height="3.2" fill="#111" stroke="none" stroke-width="0.5" rx="0"/>
<polyline points="37.20,130.40 38.50,131.40 39.80,130.40 41.10,131.40 42.40,130.40 43.70,131.40 45.00,130.40 46.30,131.40 47.60,130.40" fill="none" stroke="#888" stroke-width="0.5"/>
<rect x="47.80" y="131.65" width="2.2" height="1.1" fill="#111" transform="rotate(45 48.90 132.20)"/>
<circle cx="58.4" cy="134.6" r="5.3" fill="none" stroke="#555" stroke-width="0.6"/>
<path d="M53.12,134.14 A5.3,5.3 0 0 1 59.32,129.38" fill="none" stroke="#e0262e" stroke-width="1.3"/>
<path d="M59.60,129.30 L59.60,127.70 Q60.00,126.70 61.80,126.90" fill="none" stroke="#111" stroke-width="0.6"/>
<path d="M61.40,125.90 L62.80,127.00 L61.40,128.00" fill="none" stroke="#111" stroke-width="0.5"/>
<rect x="62.8" y="133.0" width="1.6" height="3.2" fill="#111" stroke="none" stroke-width="0.5" rx="0"/>
<polyline points="65.40,128.60 68.00,130.80 70.60,128.60 73.20,130.80 75.80,128.60" fill="none" stroke="#9a9a9a" stroke-width="0.5"/>
<polyline points="65.40,131.60 68.00,133.80 70.60,131.60 73.20,133.80 75.80,131.60" fill="none" stroke="#9a9a9a" stroke-width="0.5"/>
<polyline points="65.40,134.60 68.00,136.80 70.60,134.60 73.20,136.80 75.80,134.60" fill="none" stroke="#9a9a9a" stroke-width="0.5"/>
<polyline points="65.40,137.60 68.00,139.80 70.60,137.60 73.20,139.80 75.80,137.60" fill="none" stroke="#9a9a9a" stroke-width="0.5"/>
<rect x="75.90" y="129.65" width="2.2" height="1.1" fill="#111" transform="rotate(45 77.00 130.20)"/>
<rect x="76.80" y="132.65" width="2.2" height="1.1" fill="#111" transform="rotate(45 77.90 133.20)"/>
<rect x="77.70" y="135.65" width="2.2" height="1.1" fill="#111" transform="rotate(45 78.80 136.20)"/>
<rect x="78.60" y="138.65" width="2.2" height="1.1" fill="#111" transform="rotate(45 79.70 139.20)"/>
<circle cx="28.5" cy="150.2" r="5.3" fill="none" stroke="#555" stroke-width="0.6"/>
<path d="M23.28,149.28 A5.3,5.3 0 0 1 28.50,144.90" fill="none" stroke="#222" stroke-width="1.3"/>
<path d="M29.70,144.90 L29.70,143.30 Q30.10,142.30 31.90,142.50" fill="none" stroke="#111" stroke-width="0.6"/>
<path d="M31.50,141.50 L32.90,142.60 L31.50,143.60" fill="none" stroke="#111" stroke-width="0.5"/>
<rect x="32.9" y="148.6" width="1.6" height="3.2" fill="#111" stroke="none" stroke-width="0.5" rx="0"/>
<circle cx="45.6" cy="150.2" r="5.3" fill="none" stroke="#555" stroke-width="0.6"/>
<path d="M40.32,149.74 A5.3,5.3 0 0 1 46.52,144.98" fill="none" stroke="#e0262e" stroke-width="1.3"/>
<path d="M46.80,144.90 L46.80,143.30 Q47.20,142.30 49.00,142.50" fill="none" stroke="#111" stroke-width="0.6"/>
<path d="M48.60,141.50 L50.00,142.60 L48.60,143.60" fill="none" stroke="#111" stroke-width="0.5"/>
<rect x="50.0" y="148.6" width="1.6" height="3.2" fill="#111" stroke="none" stroke-width="0.5" rx="0"/>
<polyline points="52.60,145.80 55.20,148.00 57.80,145.80 60.40,148.00 63.00,145.80" fill="none" stroke="#9a9a9a" stroke-width="0.5"/>
<polyline points="52.60,148.80 55.20,151.00 57.80,148.80 60.40,151.00 63.00,148.80" fill="none" stroke="#9a9a9a" stroke-width="0.5"/>
<polyline points="52.60,151.80 55.20,154.00 57.80,151.80 60.40,154.00 63.00,151.80" fill="none" stroke="#9a9a9a" stroke-width="0.5"/>
<rect x="63.90" y="146.85" width="2.2" height="1.1" fill="#111" transform="rotate(45 65.00 147.40)"/>
<rect x="64.80" y="149.45" width="2.2" height="1.1" fill="#111" transform="rotate(45 65.90 150.00)"/>
<rect x="65.70" y="152.05" width="2.2" height="1.1" fill="#111" transform="rotate(45 66.80 152.60)"/>
<rect x="66.60" y="154.65" width="2.2" height="1.1" fill="#111" transform="rotate(45 67.70 155.20)"/>
<text x="92.5" y="148.6" font-size="4.7" text-anchor="middle" fill="#2a2a2a" stroke="#2a2a2a" stroke-width="0.08" font-weight="normal">Empirically</text>
<text x="92.5" y="154.0" font-size="4.7" text-anchor="middle" fill="#2a2a2a" stroke="#2a2a2a" stroke-width="0.08" font-weight="normal">test activity</text>
<path d="M115.6,112.6 L95.4,112.6 L95.4,124.4 L92.4,124.4 L98.5,131.8 L104.6,124.4 L101.6,124.4 L101.6,119.2 L115.6,119.2 Z" fill="#f9dfd7" stroke="#b89488" stroke-width="0.5"/>
<text x="283" y="10" font-size="6" text-anchor="middle" fill="#000" stroke="#000" stroke-width="0.08" font-weight="bold">b</text>
<text x="315.5" y="14.0" font-size="4.7" text-anchor="middle" fill="#2a2a2a" stroke="#2a2a2a" stroke-width="0.08" font-weight="normal">Library composition</text>
<defs><pattern id="hatch" width="1.4" height="1.4" patternUnits="userSpaceOnUse" patternTransform="rotate(45)"><rect width="1.4" height="1.4" fill="none"/><line x1="0" y1="0" x2="0" y2="1.4" stroke="#6a4a60" stroke-width="0.45" opacity="0.75"/></pattern><pattern id="hatch2" width="1.4" height="1.4" patternUnits="userSpaceOnUse" patternTransform="rotate(-45)"><line x1="0" y1="0" x2="0" y2="1.4" stroke="#6a4a60" stroke-width="0.45" opacity="0.75"/></pattern></defs>
<path d="M315.50,25.80 A22.0,22.0 0 0 1 334.74,58.47 L328.79,55.17 A15.2,15.2 0 0 0 315.50,32.60 Z" fill="#5b9fdc" stroke="none" stroke-width="0.5"/>
<path d="M334.74,58.47 A22.0,22.0 0 0 1 294.15,42.48 L300.75,44.12 A15.2,15.2 0 0 0 328.79,55.17 Z" fill="#ee5b70" stroke="none" stroke-width="0.5"/>
<path d="M294.15,42.48 A22.0,22.0 0 0 1 315.50,25.80 L315.50,32.60 A15.2,15.2 0 0 0 300.75,44.12 Z" fill="#d8707e" stroke="none" stroke-width="0.5"/>
<path d="M315.50,18.30 A29.5,29.5 0 0 1 342.24,35.33 L335.44,38.50 A22.0,22.0 0 0 0 315.50,25.80 Z" fill="#3a9a44" stroke="none" stroke-width="0.5"/>
<path d="M342.24,35.33 A29.5,29.5 0 0 1 341.30,62.10 L334.74,58.47 A22.0,22.0 0 0 0 335.44,38.50 Z" fill="#4cb853" stroke="none" stroke-width="0.5"/>
<path d="M341.30,62.10 A29.5,29.5 0 0 1 317.56,77.23 L317.03,69.75 A22.0,22.0 0 0 0 334.74,58.47 Z" fill="#5a46a8" stroke="none" stroke-width="0.5"/>
<path d="M317.56,77.23 A29.5,29.5 0 0 1 291.34,64.72 L297.48,60.42 A22.0,22.0 0 0 0 317.03,69.75 Z" fill="#b07cc6" stroke="none" stroke-width="0.5"/>
<path d="M291.34,64.72 A29.5,29.5 0 0 1 286.88,40.66 L294.15,42.48 A22.0,22.0 0 0 0 297.48,60.42 Z" fill="#f1b6d4" stroke="none" stroke-width="0.5"/>
<path d="M286.88,40.66 A29.5,29.5 0 0 1 315.50,18.30 L315.50,25.80 A22.0,22.0 0 0 0 294.15,42.48 Z" fill="#d6a6bf" stroke="none" stroke-width="0.5"/>
<path d="M286.88,40.66 A29.5,29.5 0 0 1 315.50,18.30 L315.50,25.80 A22.0,22.0 0 0 0 294.15,42.48 Z" fill="url(#hatch)" stroke="none" stroke-width="0.5"/>
<path d="M286.88,40.66 A29.5,29.5 0 0 1 315.50,18.30 L315.50,25.80 A22.0,22.0 0 0 0 294.15,42.48 Z" fill="url(#hatch2)" stroke="none" stroke-width="0.5"/>
<path d="M294.15,42.48 A22.0,22.0 0 0 1 315.50,25.80 L315.50,32.60 A15.2,15.2 0 0 0 300.75,44.12 Z" fill="url(#hatch)" stroke="none" stroke-width="0.5" opacity="0.5"/>
<text x="315.5" y="45.6" font-size="4.7" text-anchor="middle" fill="#2a2a2a" stroke="#2a2a2a" stroke-width="0.08" font-weight="normal">75,000</text>
<text x="315.5" y="51.4" font-size="4.7" text-anchor="middle" fill="#2a2a2a" stroke="#2a2a2a" stroke-width="0.08" font-weight="normal">sequences</text>
<text x="348.2" y="16.8" font-size="4.7" text-anchor="start" fill="#2a2a2a" stroke="#2a2a2a" stroke-width="0.08" font-weight="normal">Source</text>
<rect x="348.4" y="19.650000000000002" width="6.8" height="1.9" fill="#ee5b70" stroke="none" stroke-width="0.5" rx="0.5"/>
<text x="357.59999999999997" y="22.0" font-size="4.7" text-anchor="start" fill="#2a2a2a" stroke="#2a2a2a" stroke-width="0.08" font-weight="normal">Synthetic</text>
<rect x="348.4" y="25.05" width="6.8" height="1.9" fill="#5b9fdc" stroke="none" stroke-width="0.5" rx="0.5"/>
<text x="357.59999999999997" y="27.4" font-size="4.7" text-anchor="start" fill="#2a2a2a" stroke="#2a2a2a" stroke-width="0.08" font-weight="normal">Natural</text>
<text x="348.2" y="34.5" font-size="4.7" text-anchor="start" fill="#2a2a2a" stroke="#2a2a2a" stroke-width="0.08" font-weight="normal">Design origin</text>
<rect x="348.4" y="38.25" width="6.8" height="1.9" fill="#f1b6d4" stroke="none" stroke-width="0.5" rx="0.5"/>
<text x="357.59999999999997" y="40.6" font-size="4.7" text-anchor="start" fill="#2a2a2a" stroke="#2a2a2a" stroke-width="0.08" font-weight="normal">Gradient</text>
<rect x="348.4" y="43.25" width="6.8" height="1.9" fill="#b07cc6" stroke="none" stroke-width="0.5" rx="0.5"/>
<text x="357.59999999999997" y="45.6" font-size="4.7" text-anchor="start" fill="#2a2a2a" stroke="#2a2a2a" stroke-width="0.08" font-weight="normal">Probabilistic</text>
<rect x="348.4" y="49.15" width="6.8" height="1.9" fill="#5a46a8" stroke="none" stroke-width="0.5" rx="0.5"/>
<text x="357.59999999999997" y="51.5" font-size="4.7" text-anchor="start" fill="#2a2a2a" stroke="#2a2a2a" stroke-width="0.08" font-weight="normal">Evolutionary</text>
<rect x="348.4" y="56.349999999999994" width="6.8" height="1.9" fill="#4cb853" stroke="none" stroke-width="0.5" rx="0.5"/>
<text x="357.59999999999997" y="58.699999999999996" font-size="4.7" text-anchor="start" fill="#2a2a2a" stroke="#2a2a2a" stroke-width="0.08" font-weight="normal">Malinois-natural</text>
<rect x="348.4" y="62.15" width="6.8" height="1.9" fill="#3a9a44" stroke="none" stroke-width="0.5" rx="0.5"/>
<text x="357.59999999999997" y="64.5" font-size="4.7" text-anchor="start" fill="#2a2a2a" stroke="#2a2a2a" stroke-width="0.08" font-weight="normal">DHS-natural</text>
<text x="348.2" y="73.6" font-size="4.7" text-anchor="start" fill="#2a2a2a" stroke="#2a2a2a" stroke-width="0.08" font-weight="normal">Motif penalty</text>
<rect x="348.5" y="75.7" width="6.8" height="2.6" fill="#f4eef2" stroke="#777" stroke-width="0.35" rx="0"/>
<rect x="348.5" y="75.7" width="6.8" height="2.6" fill="url(#hatch)" stroke="none" stroke-width="0.5" rx="0"/>
<rect x="348.5" y="75.7" width="6.8" height="2.6" fill="url(#hatch2)" stroke="none" stroke-width="0.5" rx="0"/>
<text x="357.59999999999997" y="78.4" font-size="4.7" text-anchor="start" fill="#2a2a2a" stroke="#2a2a2a" stroke-width="0.08" font-weight="normal">Yes</text>
<text x="280.6" y="97.5" font-size="6" text-anchor="middle" fill="#000" stroke="#000" stroke-width="0.08" font-weight="bold">c</text>
<rect x="312.5" y="95.8" width="4.6" height="4.6" fill="#1e9f90" stroke="#0d6f62" stroke-width="0.35" rx="0"/>
<text x="318.9" y="99.6" font-size="4.7" text-anchor="start" fill="#2a2a2a" stroke="#2a2a2a" stroke-width="0.08" font-weight="normal">K562</text>
<rect x="333.8" y="95.8" width="4.6" height="4.6" fill="#f2b540" stroke="#b58010" stroke-width="0.35" rx="0"/>
<text x="340.2" y="99.6" font-size="4.7" text-anchor="start" fill="#2a2a2a" stroke="#2a2a2a" stroke-width="0.08" font-weight="normal">HepG2</text>
<rect x="357.8" y="95.8" width="4.6" height="4.6" fill="#e0343c" stroke="#a01820" stroke-width="0.35" rx="0"/>
<text x="364.2" y="99.6" font-size="4.7" text-anchor="start" fill="#2a2a2a" stroke="#2a2a2a" stroke-width="0.08" font-weight="normal">SK-N-SH</text>
<line x1="302.6" y1="104" x2="302.6" y2="151.2" stroke="#333" stroke-width="0.4"/>
<line x1="301.4" y1="107.0" x2="302.6" y2="107.0" stroke="#333" stroke-width="0.35"/>
<text x="299.8" y="108.4" font-size="4.7" text-anchor="end" fill="#2a2a2a" stroke="#2a2a2a" stroke-width="0.08" font-weight="normal">8</text>
<line x1="301.4" y1="123.0" x2="302.6" y2="123.0" stroke="#333" stroke-width="0.35"/>
<text x="299.8" y="124.4" font-size="4.7" text-anchor="end" fill="#2a2a2a" stroke="#2a2a2a" stroke-width="0.08" font-weight="normal">4</text>
<line x1="301.4" y1="138.8" x2="302.6" y2="138.8" stroke="#333" stroke-width="0.35"/>
<text x="299.8" y="140.20000000000002" font-size="4.7" text-anchor="end" fill="#2a2a2a" stroke="#2a2a2a" stroke-width="0.08" font-weight="normal">0</text>
<line x1="301.4" y1="146.6" x2="302.6" y2="146.6" stroke="#333" stroke-width="0.35"/>
<text x="299.8" y="148.0" font-size="4.7" text-anchor="end" fill="#2a2a2a" stroke="#2a2a2a" stroke-width="0.08" font-weight="normal">-2</text>
<line x1="302.6" y1="151.2" x2="393" y2="151.2" stroke="#333" stroke-width="0.4"/>
<line x1="312.29999999999995" y1="151.2" x2="312.29999999999995" y2="152.0" stroke="#333" stroke-width="0.3"/>
<line x1="336.09999999999997" y1="151.2" x2="336.09999999999997" y2="152.0" stroke="#333" stroke-width="0.3"/>
<line x1="359.09999999999997" y1="151.2" x2="359.09999999999997" y2="152.0" stroke="#333" stroke-width="0.3"/>
<line x1="382.9" y1="151.2" x2="382.9" y2="152.0" stroke="#333" stroke-width="0.3"/>
<line x1="302.6" y1="138.8" x2="393" y2="138.8" stroke="#999" stroke-width="0.3" stroke-dasharray="0.8,0.8"/>
<line x1="306.29999999999995" y1="104.5" x2="306.29999999999995" y2="123.8" stroke="#444" stroke-width="0.3"/>
<line x1="306.29999999999995" y1="136.2" x2="306.29999999999995" y2="145.5" stroke="#444" stroke-width="0.3"/>
<line x1="304.99999999999994" y1="104.5" x2="307.59999999999997" y2="104.5" stroke="#444" stroke-width="0.3"/>
<line x1="304.99999999999994" y1="145.5" x2="307.59999999999997" y2="145.5" stroke="#444" stroke-width="0.3"/>
<rect x="303.4" y="123.8" width="5.8" height="12.399999999999991" fill="#1e9f90" stroke="#0d6f62" stroke-width="0.35" rx="0"/>
<line x1="303.4" y1="130.2" x2="309.2" y2="130.2" stroke="#0d6f62" stroke-width="0.4"/>
<line x1="312.29999999999995" y1="132.0" x2="312.29999999999995" y2="134.6" stroke="#444" stroke-width="0.3"/>
<line x1="312.29999999999995" y1="139.4" x2="312.29999999999995" y2="140.5" stroke="#444" stroke-width="0.3"/>
<line x1="310.99999999999994" y1="132.0" x2="313.59999999999997" y2="132.0" stroke="#444" stroke-width="0.3"/>
<line x1="310.99999999999994" y1="140.5" x2="313.59999999999997" y2="140.5" stroke="#444" stroke-width="0.3"/>
<rect x="309.4" y="134.6" width="5.8" height="4.800000000000011" fill="#f2b540" stroke="#b58010" stroke-width="0.35" rx="0"/>
<line x1="309.4" y1="137.0" x2="315.2" y2="137.0" stroke="#b58010" stroke-width="0.4"/>
<line x1="318.09999999999997" y1="130.0" x2="318.09999999999997" y2="133.2" stroke="#444" stroke-width="0.3"/>
<line x1="318.09999999999997" y1="139.4" x2="318.09999999999997" y2="141.5" stroke="#444" stroke-width="0.3"/>
<line x1="316.79999999999995" y1="130.0" x2="319.4" y2="130.0" stroke="#444" stroke-width="0.3"/>
<line x1="316.79999999999995" y1="141.5" x2="319.4" y2="141.5" stroke="#444" stroke-width="0.3"/>
<rect x="315.2" y="133.2" width="5.8" height="6.200000000000017" fill="#e0343c" stroke="#a01820" stroke-width="0.35" rx="0"/>
<line x1="315.2" y1="136.4" x2="321.0" y2="136.4" stroke="#a01820" stroke-width="0.4"/>
<line x1="330.09999999999997" y1="105.5" x2="330.09999999999997" y2="117.0" stroke="#444" stroke-width="0.3"/>
<line x1="330.09999999999997" y1="126.2" x2="330.09999999999997" y2="140.0" stroke="#444" stroke-width="0.3"/>
<line x1="328.79999999999995" y1="105.5" x2="331.4" y2="105.5" stroke="#444" stroke-width="0.3"/>
<line x1="328.79999999999995" y1="140.0" x2="331.4" y2="140.0" stroke="#444" stroke-width="0.3"/>
<rect x="327.2" y="117.0" width="5.8" height="9.200000000000003" fill="#1e9f90" stroke="#0d6f62" stroke-width="0.35" rx="0"/>
<line x1="327.2" y1="121.6" x2="333.0" y2="121.6" stroke="#0d6f62" stroke-width="0.4"/>
<line x1="336.09999999999997" y1="132.0" x2="336.09999999999997" y2="135.8" stroke="#444" stroke-width="0.3"/>
<line x1="336.09999999999997" y1="140.0" x2="336.09999999999997" y2="141.0" stroke="#444" stroke-width="0.3"/>
<line x1="334.79999999999995" y1="132.0" x2="337.4" y2="132.0" stroke="#444" stroke-width="0.3"/>
<line x1="334.79999999999995" y1="141.0" x2="337.4" y2="141.0" stroke="#444" stroke-width="0.3"/>
<rect x="333.2" y="135.8" width="5.8" height="4.199999999999989" fill="#f2b540" stroke="#b58010" stroke-width="0.35" rx="0"/>
<line x1="333.2" y1="138.0" x2="339.0" y2="138.0" stroke="#b58010" stroke-width="0.4"/>
<line x1="341.9" y1="132.5" x2="341.9" y2="136.2" stroke="#444" stroke-width="0.3"/>
<line x1="341.9" y1="141.0" x2="341.9" y2="142.0" stroke="#444" stroke-width="0.3"/>
<line x1="340.59999999999997" y1="132.5" x2="343.2" y2="132.5" stroke="#444" stroke-width="0.3"/>
<line x1="340.59999999999997" y1="142.0" x2="343.2" y2="142.0" stroke="#444" stroke-width="0.3"/>
<rect x="339.0" y="136.2" width="5.8" height="4.800000000000011" fill="#e0343c" stroke="#a01820" stroke-width="0.35" rx="0"/>
<line x1="339.0" y1="138.6" x2="344.8" y2="138.6" stroke="#a01820" stroke-width="0.4"/>
<line x1="353.2" y1="106.0" x2="353.2" y2="119.0" stroke="#444" stroke-width="0.3"/>
<line x1="353.2" y1="128.0" x2="353.2" y2="143.0" stroke="#444" stroke-width="0.3"/>
<line x1="351.9" y1="106.0" x2="354.5" y2="106.0" stroke="#444" stroke-width="0.3"/>
<line x1="351.9" y1="143.0" x2="354.5" y2="143.0" stroke="#444" stroke-width="0.3"/>
<rect x="350.3" y="119.0" width="5.8" height="9.0" fill="#1e9f90" stroke="#0d6f62" stroke-width="0.35" rx="0"/>
<line x1="350.3" y1="123.5" x2="356.1" y2="123.5" stroke="#0d6f62" stroke-width="0.4"/>
<line x1="359.09999999999997" y1="132.5" x2="359.09999999999997" y2="135.8" stroke="#444" stroke-width="0.3"/>
<line x1="359.09999999999997" y1="140.0" x2="359.09999999999997" y2="141.0" stroke="#444" stroke-width="0.3"/>
<line x1="357.79999999999995" y1="132.5" x2="360.4" y2="132.5" stroke="#444" stroke-width="0.3"/>
<line x1="357.79999999999995" y1="141.0" x2="360.4" y2="141.0" stroke="#444" stroke-width="0.3"/>
<rect x="356.2" y="135.8" width="5.8" height="4.199999999999989" fill="#f2b540" stroke="#b58010" stroke-width="0.35" rx="0"/>
<line x1="356.2" y1="138.0" x2="362.0" y2="138.0" stroke="#b58010" stroke-width="0.4"/>
<line x1="364.9" y1="133.0" x2="364.9" y2="136.8" stroke="#444" stroke-width="0.3"/>
<line x1="364.9" y1="141.3" x2="364.9" y2="143.0" stroke="#444" stroke-width="0.3"/>
<line x1="363.59999999999997" y1="133.0" x2="366.2" y2="133.0" stroke="#444" stroke-width="0.3"/>
<line x1="363.59999999999997" y1="143.0" x2="366.2" y2="143.0" stroke="#444" stroke-width="0.3"/>
<rect x="362.0" y="136.8" width="5.8" height="4.5" fill="#e0343c" stroke="#a01820" stroke-width="0.35" rx="0"/>
<line x1="362.0" y1="139.0" x2="367.8" y2="139.0" stroke="#a01820" stroke-width="0.4"/>
<line x1="376.9" y1="107.0" x2="376.9" y2="117.5" stroke="#444" stroke-width="0.3"/>
<line x1="376.9" y1="126.3" x2="376.9" y2="136.0" stroke="#444" stroke-width="0.3"/>
<line x1="375.59999999999997" y1="107.0" x2="378.2" y2="107.0" stroke="#444" stroke-width="0.3"/>
<line x1="375.59999999999997" y1="136.0" x2="378.2" y2="136.0" stroke="#444" stroke-width="0.3"/>
<rect x="374.0" y="117.5" width="5.8" height="8.799999999999997" fill="#1e9f90" stroke="#0d6f62" stroke-width="0.35" rx="0"/>
<line x1="374.0" y1="121.8" x2="379.8" y2="121.8" stroke="#0d6f62" stroke-width="0.4"/>
<line x1="382.9" y1="140.8" x2="382.9" y2="142.2" stroke="#444" stroke-width="0.3"/>
<line x1="382.9" y1="144.3" x2="382.9" y2="145.0" stroke="#444" stroke-width="0.3"/>
<line x1="381.59999999999997" y1="140.8" x2="384.2" y2="140.8" stroke="#444" stroke-width="0.3"/>
<line x1="381.59999999999997" y1="145.0" x2="384.2" y2="145.0" stroke="#444" stroke-width="0.3"/>
<rect x="380.0" y="142.2" width="5.8" height="2.1000000000000227" fill="#f2b540" stroke="#b58010" stroke-width="0.35" rx="0"/>
<line x1="380.0" y1="143.3" x2="385.8" y2="143.3" stroke="#b58010" stroke-width="0.4"/>
<line x1="388.9" y1="142.4" x2="388.9" y2="143.8" stroke="#444" stroke-width="0.3"/>
<line x1="388.9" y1="146.3" x2="388.9" y2="147.0" stroke="#444" stroke-width="0.3"/>
<line x1="387.59999999999997" y1="142.4" x2="390.2" y2="142.4" stroke="#444" stroke-width="0.3"/>
<line x1="387.59999999999997" y1="147.0" x2="390.2" y2="147.0" stroke="#444" stroke-width="0.3"/>
<rect x="386.0" y="143.8" width="5.8" height="2.5" fill="#e0343c" stroke="#a01820" stroke-width="0.35" rx="0"/>
<line x1="386.0" y1="145.0" x2="391.8" y2="145.0" stroke="#a01820" stroke-width="0.4"/>
<rect x="303.4" y="154.5" width="17.8" height="1.4" fill="#2f8d3c" stroke="none" stroke-width="0.5" rx="0"/>
<rect x="327.2" y="154.5" width="17.8" height="1.4" fill="#46b34f" stroke="none" stroke-width="0.5" rx="0"/>
<rect x="350.3" y="154.29999999999998" width="17.8" height="1.8" fill="#a88aa0" stroke="#5a4056" stroke-width="0.35" rx="0"/>
<rect x="350.3" y="154.29999999999998" width="17.8" height="1.8" fill="url(#hatch)" stroke="none" stroke-width="0.5" rx="0"/>
<rect x="374.0" y="154.5" width="17.8" height="1.4" fill="#ec6d82" stroke="none" stroke-width="0.5" rx="0"/>
<text x="286.5" y="129.79999999999998" font-size="4.0" text-anchor="middle" fill="#2a2a2a" stroke="#2a2a2a" stroke-width="0.16" font-weight="normal" transform="rotate(-90 286.5 129.79999999999998)">K562 optimized</text>
<text x="291.5" y="128.6" font-size="4.3" text-anchor="middle" fill="#2a2a2a" stroke="#2a2a2a" stroke-width="0.16" font-weight="normal" transform="rotate(-90 291.5 128.6)">log<tspan font-size="2.8" dy="1">2</tspan><tspan dy="-1">FC</tspan></text>
<line x1="302.6" y1="164" x2="302.6" y2="210.5" stroke="#333" stroke-width="0.4"/>
<line x1="301.4" y1="167.0" x2="302.6" y2="167.0" stroke="#333" stroke-width="0.35"/>
<text x="299.8" y="168.4" font-size="4.7" text-anchor="end" fill="#2a2a2a" stroke="#2a2a2a" stroke-width="0.08" font-weight="normal">6</text>
<line x1="301.4" y1="176.8" x2="302.6" y2="176.8" stroke="#333" stroke-width="0.35"/>
<text x="299.8" y="178.20000000000002" font-size="4.7" text-anchor="end" fill="#2a2a2a" stroke="#2a2a2a" stroke-width="0.08" font-weight="normal">4</text>
<line x1="301.4" y1="186.4" x2="302.6" y2="186.4" stroke="#333" stroke-width="0.35"/>
<text x="299.8" y="187.8" font-size="4.7" text-anchor="end" fill="#2a2a2a" stroke="#2a2a2a" stroke-width="0.08" font-weight="normal">2</text>
<line x1="301.4" y1="196.2" x2="302.6" y2="196.2" stroke="#333" stroke-width="0.35"/>
<text x="299.8" y="197.6" font-size="4.7" text-anchor="end" fill="#2a2a2a" stroke="#2a2a2a" stroke-width="0.08" font-weight="normal">0</text>
<line x1="301.4" y1="206.4" x2="302.6" y2="206.4" stroke="#333" stroke-width="0.35"/>
<text x="299.8" y="207.8" font-size="4.7" text-anchor="end" fill="#2a2a2a" stroke="#2a2a2a" stroke-width="0.08" font-weight="normal">-2</text>
<line x1="302.6" y1="210.5" x2="393" y2="210.5" stroke="#333" stroke-width="0.4"/>
<line x1="312.29999999999995" y1="210.5" x2="312.29999999999995" y2="211.3" stroke="#333" stroke-width="0.3"/>
<line x1="336.09999999999997" y1="210.5" x2="336.09999999999997" y2="211.3" stroke="#333" stroke-width="0.3"/>
<line x1="359.09999999999997" y1="210.5" x2="359.09999999999997" y2="211.3" stroke="#333" stroke-width="0.3"/>
<line x1="382.9" y1="210.5" x2="382.9" y2="211.3" stroke="#333" stroke-width="0.3"/>
<line x1="302.6" y1="196.2" x2="393" y2="196.2" stroke="#999" stroke-width="0.3" stroke-dasharray="0.8,0.8"/>
<line x1="306.29999999999995" y1="185.0" x2="306.29999999999995" y2="192.0" stroke="#444" stroke-width="0.3"/>
<line x1="306.29999999999995" y1="196.2" x2="306.29999999999995" y2="202.0" stroke="#444" stroke-width="0.3"/>
<line x1="304.99999999999994" y1="185.0" x2="307.59999999999997" y2="185.0" stroke="#444" stroke-width="0.3"/>
<line x1="304.99999999999994" y1="202.0" x2="307.59999999999997" y2="202.0" stroke="#444" stroke-width="0.3"/>
<rect x="303.4" y="192.0" width="5.8" height="4.199999999999989" fill="#1e9f90" stroke="#0d6f62" stroke-width="0.35" rx="0"/>
<line x1="303.4" y1="194.2" x2="309.2" y2="194.2" stroke="#0d6f62" stroke-width="0.4"/>
<line x1="312.29999999999995" y1="170.5" x2="312.29999999999995" y2="184.2" stroke="#444" stroke-width="0.3"/>
<line x1="312.29999999999995" y1="193.7" x2="312.29999999999995" y2="201.2" stroke="#444" stroke-width="0.3"/>
<line x1="310.99999999999994" y1="170.5" x2="313.59999999999997" y2="170.5" stroke="#444" stroke-width="0.3"/>
<line x1="310.99999999999994" y1="201.2" x2="313.59999999999997" y2="201.2" stroke="#444" stroke-width="0.3"/>
<rect x="309.4" y="184.2" width="5.8" height="9.5" fill="#f2b540" stroke="#b58010" stroke-width="0.35" rx="0"/>
<line x1="309.4" y1="188.8" x2="315.2" y2="188.8" stroke="#b58010" stroke-width="0.4"/>
<line x1="318.09999999999997" y1="184.5" x2="318.09999999999997" y2="192.5" stroke="#444" stroke-width="0.3"/>
<line x1="318.09999999999997" y1="197.0" x2="318.09999999999997" y2="204.2" stroke="#444" stroke-width="0.3"/>
<line x1="316.79999999999995" y1="184.5" x2="319.4" y2="184.5" stroke="#444" stroke-width="0.3"/>
<line x1="316.79999999999995" y1="204.2" x2="319.4" y2="204.2" stroke="#444" stroke-width="0.3"/>
<rect x="315.2" y="192.5" width="5.8" height="4.5" fill="#e0343c" stroke="#a01820" stroke-width="0.35" rx="0"/>
<line x1="315.2" y1="194.8" x2="321.0" y2="194.8" stroke="#a01820" stroke-width="0.4"/>
<line x1="330.09999999999997" y1="191.2" x2="330.09999999999997" y2="194.5" stroke="#444" stroke-width="0.3"/>
<line x1="330.09999999999997" y1="197.5" x2="330.09999999999997" y2="200.5" stroke="#444" stroke-width="0.3"/>
<line x1="328.79999999999995" y1="191.2" x2="331.4" y2="191.2" stroke="#444" stroke-width="0.3"/>
<line x1="328.79999999999995" y1="200.5" x2="331.4" y2="200.5" stroke="#444" stroke-width="0.3"/>
<rect x="327.2" y="194.5" width="5.8" height="3.0" fill="#1e9f90" stroke="#0d6f62" stroke-width="0.35" rx="0"/>
<line x1="327.2" y1="196.0" x2="333.0" y2="196.0" stroke="#0d6f62" stroke-width="0.4"/>
<line x1="336.09999999999997" y1="168.8" x2="336.09999999999997" y2="179.2" stroke="#444" stroke-width="0.3"/>
<line x1="336.09999999999997" y1="187.5" x2="336.09999999999997" y2="197.5" stroke="#444" stroke-width="0.3"/>
<line x1="334.79999999999995" y1="168.8" x2="337.4" y2="168.8" stroke="#444" stroke-width="0.3"/>
<line x1="334.79999999999995" y1="197.5" x2="337.4" y2="197.5" stroke="#444" stroke-width="0.3"/>
<rect x="333.2" y="179.2" width="5.8" height="8.300000000000011" fill="#f2b540" stroke="#b58010" stroke-width="0.35" rx="0"/>
<line x1="333.2" y1="183.4" x2="339.0" y2="183.4" stroke="#b58010" stroke-width="0.4"/>
<line x1="341.9" y1="190.0" x2="341.9" y2="195.0" stroke="#444" stroke-width="0.3"/>
<line x1="341.9" y1="198.2" x2="341.9" y2="202.5" stroke="#444" stroke-width="0.3"/>
<line x1="340.59999999999997" y1="190.0" x2="343.2" y2="190.0" stroke="#444" stroke-width="0.3"/>
<line x1="340.59999999999997" y1="202.5" x2="343.2" y2="202.5" stroke="#444" stroke-width="0.3"/>
<rect x="339.0" y="195.0" width="5.8" height="3.1999999999999886" fill="#e0343c" stroke="#a01820" stroke-width="0.35" rx="0"/>
<line x1="339.0" y1="196.6" x2="344.8" y2="196.6" stroke="#a01820" stroke-width="0.4"/>
<line x1="353.2" y1="192.5" x2="353.2" y2="195.8" stroke="#444" stroke-width="0.3"/>
<line x1="353.2" y1="198.8" x2="353.2" y2="202.0" stroke="#444" stroke-width="0.3"/>
<line x1="351.9" y1="192.5" x2="354.5" y2="192.5" stroke="#444" stroke-width="0.3"/>
<line x1="351.9" y1="202.0" x2="354.5" y2="202.0" stroke="#444" stroke-width="0.3"/>
<rect x="350.3" y="195.8" width="5.8" height="3.0" fill="#1e9f90" stroke="#0d6f62" stroke-width="0.35" rx="0"/>
<line x1="350.3" y1="197.2" x2="356.1" y2="197.2" stroke="#0d6f62" stroke-width="0.4"/>
<line x1="359.09999999999997" y1="166.2" x2="359.09999999999997" y2="178.8" stroke="#444" stroke-width="0.3"/>
<line x1="359.09999999999997" y1="188.0" x2="359.09999999999997" y2="200.0" stroke="#444" stroke-width="0.3"/>
<line x1="357.79999999999995" y1="166.2" x2="360.4" y2="166.2" stroke="#444" stroke-width="0.3"/>
<line x1="357.79999999999995" y1="200.0" x2="360.4" y2="200.0" stroke="#444" stroke-width="0.3"/>
<rect x="356.2" y="178.8" width="5.8" height="9.199999999999989" fill="#f2b540" stroke="#b58010" stroke-width="0.35" rx="0"/>
<line x1="356.2" y1="183.4" x2="362.0" y2="183.4" stroke="#b58010" stroke-width="0.4"/>
<line x1="364.9" y1="192.5" x2="364.9" y2="197.0" stroke="#444" stroke-width="0.3"/>
<line x1="364.9" y1="201.2" x2="364.9" y2="206.2" stroke="#444" stroke-width="0.3"/>
<line x1="363.59999999999997" y1="192.5" x2="366.2" y2="192.5" stroke="#444" stroke-width="0.3"/>
<line x1="363.59999999999997" y1="206.2" x2="366.2" y2="206.2" stroke="#444" stroke-width="0.3"/>
<rect x="362.0" y="197.0" width="5.8" height="4.199999999999989" fill="#e0343c" stroke="#a01820" stroke-width="0.35" rx="0"/>
<line x1="362.0" y1="199.0" x2="367.8" y2="199.0" stroke="#a01820" stroke-width="0.4"/>
<line x1="376.9" y1="194.5" x2="376.9" y2="197.5" stroke="#444" stroke-width="0.3"/>
<line x1="376.9" y1="200.5" x2="376.9" y2="203.0" stroke="#444" stroke-width="0.3"/>
<line x1="375.59999999999997" y1="194.5" x2="378.2" y2="194.5" stroke="#444" stroke-width="0.3"/>
<line x1="375.59999999999997" y1="203.0" x2="378.2" y2="203.0" stroke="#444" stroke-width="0.3"/>
<rect x="374.0" y="197.5" width="5.8" height="3.0" fill="#1e9f90" stroke="#0d6f62" stroke-width="0.35" rx="0"/>
<line x1="374.0" y1="199.0" x2="379.8" y2="199.0" stroke="#0d6f62" stroke-width="0.4"/>
<line x1="382.9" y1="163.8" x2="382.9" y2="178.2" stroke="#444" stroke-width="0.3"/>
<line x1="382.9" y1="190.0" x2="382.9" y2="203.7" stroke="#444" stroke-width="0.3"/>
<line x1="381.59999999999997" y1="163.8" x2="384.2" y2="163.8" stroke="#444" stroke-width="0.3"/>
<line x1="381.59999999999997" y1="203.7" x2="384.2" y2="203.7" stroke="#444" stroke-width="0.3"/>
<rect x="380.0" y="178.2" width="5.8" height="11.800000000000011" fill="#f2b540" stroke="#b58010" stroke-width="0.35" rx="0"/>
<line x1="380.0" y1="184.0" x2="385.8" y2="184.0" stroke="#b58010" stroke-width="0.4"/>
<line x1="388.9" y1="195.5" x2="388.9" y2="200.0" stroke="#444" stroke-width="0.3"/>
<line x1="388.9" y1="203.2" x2="388.9" y2="208.2" stroke="#444" stroke-width="0.3"/>
<line x1="387.59999999999997" y1="195.5" x2="390.2" y2="195.5" stroke="#444" stroke-width="0.3"/>
<line x1="387.59999999999997" y1="208.2" x2="390.2" y2="208.2" stroke="#444" stroke-width="0.3"/>
<rect x="386.0" y="200.0" width="5.8" height="3.1999999999999886" fill="#e0343c" stroke="#a01820" stroke-width="0.35" rx="0"/>
<line x1="386.0" y1="201.6" x2="391.8" y2="201.6" stroke="#a01820" stroke-width="0.4"/>
<rect x="303.4" y="213.8" width="17.8" height="1.4" fill="#2f8d3c" stroke="none" stroke-width="0.5" rx="0"/>
<rect x="327.2" y="213.8" width="17.8" height="1.4" fill="#46b34f" stroke="none" stroke-width="0.5" rx="0"/>
<rect x="350.3" y="213.6" width="17.8" height="1.8" fill="#a88aa0" stroke="#5a4056" stroke-width="0.35" rx="0"/>
<rect x="350.3" y="213.6" width="17.8" height="1.8" fill="url(#hatch)" stroke="none" stroke-width="0.5" rx="0"/>
<rect x="374.0" y="213.8" width="17.8" height="1.4" fill="#ec6d82" stroke="none" stroke-width="0.5" rx="0"/>
<text x="286.5" y="189.45" font-size="4.0" text-anchor="middle" fill="#2a2a2a" stroke="#2a2a2a" stroke-width="0.16" font-weight="normal" transform="rotate(-90 286.5 189.45)">HepG2 optimized</text>
<text x="291.5" y="188.25" font-size="4.3" text-anchor="middle" fill="#2a2a2a" stroke="#2a2a2a" stroke-width="0.16" font-weight="normal" transform="rotate(-90 291.5 188.25)">log<tspan font-size="2.8" dy="1">2</tspan><tspan dy="-1">FC</tspan></text>
<line x1="302.6" y1="221" x2="302.6" y2="268.3" stroke="#333" stroke-width="0.4"/>
<line x1="301.4" y1="223.5" x2="302.6" y2="223.5" stroke="#333" stroke-width="0.35"/>
<text x="299.8" y="224.9" font-size="4.7" text-anchor="end" fill="#2a2a2a" stroke="#2a2a2a" stroke-width="0.08" font-weight="normal">8</text>
<line x1="301.4" y1="241.2" x2="302.6" y2="241.2" stroke="#333" stroke-width="0.35"/>
<text x="299.8" y="242.6" font-size="4.7" text-anchor="end" fill="#2a2a2a" stroke="#2a2a2a" stroke-width="0.08" font-weight="normal">4</text>
<line x1="301.4" y1="259.0" x2="302.6" y2="259.0" stroke="#333" stroke-width="0.35"/>
<text x="299.8" y="260.4" font-size="4.7" text-anchor="end" fill="#2a2a2a" stroke="#2a2a2a" stroke-width="0.08" font-weight="normal">0</text>
<line x1="301.4" y1="267.0" x2="302.6" y2="267.0" stroke="#333" stroke-width="0.35"/>
<text x="299.8" y="268.4" font-size="4.7" text-anchor="end" fill="#2a2a2a" stroke="#2a2a2a" stroke-width="0.08" font-weight="normal">-2</text>
<line x1="302.6" y1="268.3" x2="393" y2="268.3" stroke="#333" stroke-width="0.4"/>
<line x1="312.29999999999995" y1="268.3" x2="312.29999999999995" y2="269.1" stroke="#333" stroke-width="0.3"/>
<line x1="336.09999999999997" y1="268.3" x2="336.09999999999997" y2="269.1" stroke="#333" stroke-width="0.3"/>
<line x1="359.09999999999997" y1="268.3" x2="359.09999999999997" y2="269.1" stroke="#333" stroke-width="0.3"/>
<line x1="382.9" y1="268.3" x2="382.9" y2="269.1" stroke="#333" stroke-width="0.3"/>
<line x1="302.6" y1="259.0" x2="393" y2="259.0" stroke="#999" stroke-width="0.3" stroke-dasharray="0.8,0.8"/>
<line x1="306.29999999999995" y1="246.7" x2="306.29999999999995" y2="254.0" stroke="#444" stroke-width="0.3"/>
<line x1="306.29999999999995" y1="259.0" x2="306.29999999999995" y2="263.0" stroke="#444" stroke-width="0.3"/>
<line x1="304.99999999999994" y1="246.7" x2="307.59999999999997" y2="246.7" stroke="#444" stroke-width="0.3"/>
<line x1="304.99999999999994" y1="263.0" x2="307.59999999999997" y2="263.0" stroke="#444" stroke-width="0.3"/>
<rect x="303.4" y="254.0" width="5.8" height="5.0" fill="#1e9f90" stroke="#0d6f62" stroke-width="0.35" rx="0"/>
<line x1="303.4" y1="256.6" x2="309.2" y2="256.6" stroke="#0d6f62" stroke-width="0.4"/>
<line x1="312.29999999999995" y1="249.0" x2="312.29999999999995" y2="254.7" stroke="#444" stroke-width="0.3"/>
<line x1="312.29999999999995" y1="259.0" x2="312.29999999999995" y2="263.7" stroke="#444" stroke-width="0.3"/>
<line x1="310.99999999999994" y1="249.0" x2="313.59999999999997" y2="249.0" stroke="#444" stroke-width="0.3"/>
<line x1="310.99999999999994" y1="263.7" x2="313.59999999999997" y2="263.7" stroke="#444" stroke-width="0.3"/>
<rect x="309.4" y="254.7" width="5.8" height="4.300000000000011" fill="#f2b540" stroke="#b58010" stroke-width="0.35" rx="0"/>
<line x1="309.4" y1="256.8" x2="315.2" y2="256.8" stroke="#b58010" stroke-width="0.4"/>
<line x1="318.09999999999997" y1="243.3" x2="318.09999999999997" y2="252.4" stroke="#444" stroke-width="0.3"/>
<line x1="318.09999999999997" y1="258.0" x2="318.09999999999997" y2="266.0" stroke="#444" stroke-width="0.3"/>
<line x1="316.79999999999995" y1="243.3" x2="319.4" y2="243.3" stroke="#444" stroke-width="0.3"/>
<line x1="316.79999999999995" y1="266.0" x2="319.4" y2="266.0" stroke="#444" stroke-width="0.3"/>
<rect x="315.2" y="252.4" width="5.8" height="5.599999999999994" fill="#e0343c" stroke="#a01820" stroke-width="0.35" rx="0"/>
<line x1="315.2" y1="255.2" x2="321.0" y2="255.2" stroke="#a01820" stroke-width="0.4"/>
<line x1="330.09999999999997" y1="254.0" x2="330.09999999999997" y2="257.0" stroke="#444" stroke-width="0.3"/>
<line x1="330.09999999999997" y1="259.8" x2="330.09999999999997" y2="262.6" stroke="#444" stroke-width="0.3"/>
<line x1="328.79999999999995" y1="254.0" x2="331.4" y2="254.0" stroke="#444" stroke-width="0.3"/>
<line x1="328.79999999999995" y1="262.6" x2="331.4" y2="262.6" stroke="#444" stroke-width="0.3"/>
<rect x="327.2" y="257.0" width="5.8" height="2.8000000000000114" fill="#1e9f90" stroke="#0d6f62" stroke-width="0.35" rx="0"/>
<line x1="327.2" y1="258.4" x2="333.0" y2="258.4" stroke="#0d6f62" stroke-width="0.4"/>
<line x1="336.09999999999997" y1="250.4" x2="336.09999999999997" y2="255.5" stroke="#444" stroke-width="0.3"/>
<line x1="336.09999999999997" y1="259.8" x2="336.09999999999997" y2="263.0" stroke="#444" stroke-width="0.3"/>
<line x1="334.79999999999995" y1="250.4" x2="337.4" y2="250.4" stroke="#444" stroke-width="0.3"/>
<line x1="334.79999999999995" y1="263.0" x2="337.4" y2="263.0" stroke="#444" stroke-width="0.3"/>
<rect x="333.2" y="255.5" width="5.8" height="4.300000000000011" fill="#f2b540" stroke="#b58010" stroke-width="0.35" rx="0"/>
<line x1="333.2" y1="257.6" x2="339.0" y2="257.6" stroke="#b58010" stroke-width="0.4"/>
<line x1="341.9" y1="239.0" x2="341.9" y2="249.6" stroke="#444" stroke-width="0.3"/>
<line x1="341.9" y1="257.5" x2="341.9" y2="267.4" stroke="#444" stroke-width="0.3"/>
<line x1="340.59999999999997" y1="239.0" x2="343.2" y2="239.0" stroke="#444" stroke-width="0.3"/>
<line x1="340.59999999999997" y1="267.4" x2="343.2" y2="267.4" stroke="#444" stroke-width="0.3"/>
<rect x="339.0" y="249.6" width="5.8" height="7.900000000000006" fill="#e0343c" stroke="#a01820" stroke-width="0.35" rx="0"/>
<line x1="339.0" y1="253.6" x2="344.8" y2="253.6" stroke="#a01820" stroke-width="0.4"/>
<line x1="353.2" y1="249.6" x2="353.2" y2="255.5" stroke="#444" stroke-width="0.3"/>
<line x1="353.2" y1="259.8" x2="353.2" y2="263.7" stroke="#444" stroke-width="0.3"/>
<line x1="351.9" y1="249.6" x2="354.5" y2="249.6" stroke="#444" stroke-width="0.3"/>
<line x1="351.9" y1="263.7" x2="354.5" y2="263.7" stroke="#444" stroke-width="0.3"/>
<rect x="350.3" y="255.5" width="5.8" height="4.300000000000011" fill="#1e9f90" stroke="#0d6f62" stroke-width="0.35" rx="0"/>
<line x1="350.3" y1="257.6" x2="356.1" y2="257.6" stroke="#0d6f62" stroke-width="0.4"/>
<line x1="359.09999999999997" y1="245.6" x2="359.09999999999997" y2="251.8" stroke="#444" stroke-width="0.3"/>
<line x1="359.09999999999997" y1="258.0" x2="359.09999999999997" y2="264.6" stroke="#444" stroke-width="0.3"/>
<line x1="357.79999999999995" y1="245.6" x2="360.4" y2="245.6" stroke="#444" stroke-width="0.3"/>
<line x1="357.79999999999995" y1="264.6" x2="360.4" y2="264.6" stroke="#444" stroke-width="0.3"/>
<rect x="356.2" y="251.8" width="5.8" height="6.199999999999989" fill="#f2b540" stroke="#b58010" stroke-width="0.35" rx="0"/>
<line x1="356.2" y1="255.0" x2="362.0" y2="255.0" stroke="#b58010" stroke-width="0.4"/>
<line x1="364.9" y1="223.0" x2="364.9" y2="239.0" stroke="#444" stroke-width="0.3"/>
<line x1="364.9" y1="249.6" x2="364.9" y2="264.6" stroke="#444" stroke-width="0.3"/>
<line x1="363.59999999999997" y1="223.0" x2="366.2" y2="223.0" stroke="#444" stroke-width="0.3"/>
<line x1="363.59999999999997" y1="264.6" x2="366.2" y2="264.6" stroke="#444" stroke-width="0.3"/>
<rect x="362.0" y="239.0" width="5.8" height="10.599999999999994" fill="#e0343c" stroke="#a01820" stroke-width="0.35" rx="0"/>
<line x1="362.0" y1="244.4" x2="367.8" y2="244.4" stroke="#a01820" stroke-width="0.4"/>
<line x1="376.9" y1="257.0" x2="376.9" y2="259.0" stroke="#444" stroke-width="0.3"/>
<line x1="376.9" y1="261.2" x2="376.9" y2="262.6" stroke="#444" stroke-width="0.3"/>
<line x1="375.59999999999997" y1="257.0" x2="378.2" y2="257.0" stroke="#444" stroke-width="0.3"/>
<line x1="375.59999999999997" y1="262.6" x2="378.2" y2="262.6" stroke="#444" stroke-width="0.3"/>
<rect x="374.0" y="259.0" width="5.8" height="2.1999999999999886" fill="#1e9f90" stroke="#0d6f62" stroke-width="0.35" rx="0"/>
<line x1="374.0" y1="260.1" x2="379.8" y2="260.1" stroke="#0d6f62" stroke-width="0.4"/>
<line x1="382.9" y1="249.0" x2="382.9" y2="256.0" stroke="#444" stroke-width="0.3"/>
<line x1="382.9" y1="261.0" x2="382.9" y2="267.4" stroke="#444" stroke-width="0.3"/>
<line x1="381.59999999999997" y1="249.0" x2="384.2" y2="249.0" stroke="#444" stroke-width="0.3"/>
<line x1="381.59999999999997" y1="267.4" x2="384.2" y2="267.4" stroke="#444" stroke-width="0.3"/>
<rect x="380.0" y="256.0" width="5.8" height="5.0" fill="#f2b540" stroke="#b58010" stroke-width="0.35" rx="0"/>
<line x1="380.0" y1="258.5" x2="385.8" y2="258.5" stroke="#b58010" stroke-width="0.4"/>
<line x1="388.9" y1="223.0" x2="388.9" y2="239.0" stroke="#444" stroke-width="0.3"/>
<line x1="388.9" y1="250.4" x2="388.9" y2="266.0" stroke="#444" stroke-width="0.3"/>
<line x1="387.59999999999997" y1="223.0" x2="390.2" y2="223.0" stroke="#444" stroke-width="0.3"/>
<line x1="387.59999999999997" y1="266.0" x2="390.2" y2="266.0" stroke="#444" stroke-width="0.3"/>
<rect x="386.0" y="239.0" width="5.8" height="11.400000000000006" fill="#e0343c" stroke="#a01820" stroke-width="0.35" rx="0"/>
<line x1="386.0" y1="244.7" x2="391.8" y2="244.7" stroke="#a01820" stroke-width="0.4"/>
<rect x="303.4" y="271.6" width="17.8" height="1.4" fill="#2f8d3c" stroke="none" stroke-width="0.5" rx="0"/>
<rect x="327.2" y="271.6" width="17.8" height="1.4" fill="#46b34f" stroke="none" stroke-width="0.5" rx="0"/>
<rect x="350.3" y="271.40000000000003" width="17.8" height="1.8" fill="#a88aa0" stroke="#5a4056" stroke-width="0.35" rx="0"/>
<rect x="350.3" y="271.40000000000003" width="17.8" height="1.8" fill="url(#hatch)" stroke="none" stroke-width="0.5" rx="0"/>
<rect x="374.0" y="271.6" width="17.8" height="1.4" fill="#ec6d82" stroke="none" stroke-width="0.5" rx="0"/>
<text x="286.5" y="246.85" font-size="4.0" text-anchor="middle" fill="#2a2a2a" stroke="#2a2a2a" stroke-width="0.16" font-weight="normal" transform="rotate(-90 286.5 246.85)">SK-N-SH optimized</text>
<text x="291.5" y="245.65" font-size="4.3" text-anchor="middle" fill="#2a2a2a" stroke="#2a2a2a" stroke-width="0.16" font-weight="normal" transform="rotate(-90 291.5 245.65)">log<tspan font-size="2.8" dy="1">2</tspan><tspan dy="-1">FC</tspan></text>
<ellipse cx="289.9" cy="105.3" rx="4.8" ry="4.5" fill="#1ea392" stroke="#0f7f70" stroke-width="0.35"/>
<path d="M286.8,105.6 Q288.6,108.6 292.4,107.4" fill="none" stroke="#9fe6da" stroke-width="0.7"/>
<ellipse cx="288.6" cy="164.6" rx="4.2" ry="3.2" fill="#f2a93a" stroke="#c98218" stroke-width="0.35" transform="rotate(-25 288.6 164.6)"/>
<ellipse cx="288.6" cy="164.6" rx="2" ry="1.3" fill="#d29a2a" transform="rotate(-25 288.6 164.6)"/>
<path d="M283.90,222.10 Q289.00,221.60 293.80,219.30 L294.40,226.30 Q289.00,225.60 284.50,228.40 Z" fill="#e2222c" stroke="#9a1018" stroke-width="0.3"/>
<path d="M284.90,226.80 Q287.90,224.30 290.90,224.50" fill="none" stroke="#9a1018" stroke-width="0.6"/>
<text x="312.2" y="278.6" font-size="4.7" text-anchor="middle" fill="#2a2a2a" stroke="#2a2a2a" stroke-width="0.08" font-weight="normal">DHS</text>
<text x="312.2" y="284.0" font-size="4.7" text-anchor="middle" fill="#2a2a2a" stroke="#2a2a2a" stroke-width="0.08" font-weight="normal">natural</text>
<text x="336.1" y="278.6" font-size="4.7" text-anchor="middle" fill="#2a2a2a" stroke="#2a2a2a" stroke-width="0.08" font-weight="normal">Malinois</text>
<text x="336.1" y="284.0" font-size="4.7" text-anchor="middle" fill="#2a2a2a" stroke="#2a2a2a" stroke-width="0.08" font-weight="normal">natural</text>
<text x="359.2" y="278.6" font-size="4.7" text-anchor="middle" fill="#2a2a2a" stroke="#2a2a2a" stroke-width="0.08" font-weight="normal">Synthetic</text>
<text x="359.2" y="284.0" font-size="4.7" text-anchor="middle" fill="#2a2a2a" stroke="#2a2a2a" stroke-width="0.08" font-weight="normal">penalized</text>
<text x="383" y="278.6" font-size="4.7" text-anchor="middle" fill="#2a2a2a" stroke="#2a2a2a" stroke-width="0.08" font-weight="normal">Synthetic</text>
<text x="5.2" y="178.2" font-size="6" text-anchor="middle" fill="#000" stroke="#000" stroke-width="0.08" font-weight="bold">d</text>
<text x="32.8" y="181.2" font-size="4.7" text-anchor="middle" fill="#2a2a2a" stroke="#2a2a2a" stroke-width="0.08" font-weight="normal">MinGap</text>
<text x="16.9" y="187.2" font-size="4.7" text-anchor="middle" fill="#2a2a2a" stroke="#2a2a2a" stroke-width="0.08" font-weight="normal">-2</text>
<line x1="16.9" y1="188.0" x2="16.9" y2="188.9" stroke="#333" stroke-width="0.3"/>
<text x="24.5" y="187.2" font-size="4.7" text-anchor="middle" fill="#2a2a2a" stroke="#2a2a2a" stroke-width="0.08" font-weight="normal">0</text>
<line x1="24.5" y1="188.0" x2="24.5" y2="188.9" stroke="#333" stroke-width="0.3"/>
<text x="32.1" y="187.2" font-size="4.7" text-anchor="middle" fill="#2a2a2a" stroke="#2a2a2a" stroke-width="0.08" font-weight="normal">2</text>
<line x1="32.1" y1="188.0" x2="32.1" y2="188.9" stroke="#333" stroke-width="0.3"/>
<text x="39.7" y="187.2" font-size="4.7" text-anchor="middle" fill="#2a2a2a" stroke="#2a2a2a" stroke-width="0.08" font-weight="normal">4</text>
<line x1="39.7" y1="188.0" x2="39.7" y2="188.9" stroke="#333" stroke-width="0.3"/>
<text x="47.3" y="187.2" font-size="4.7" text-anchor="middle" fill="#2a2a2a" stroke="#2a2a2a" stroke-width="0.08" font-weight="normal">6</text>
<line x1="47.3" y1="188.0" x2="47.3" y2="188.9" stroke="#333" stroke-width="0.3"/>
<text x="54.9" y="187.2" font-size="4.7" text-anchor="middle" fill="#2a2a2a" stroke="#2a2a2a" stroke-width="0.08" font-weight="normal">8</text>
<line x1="54.9" y1="188.0" x2="54.9" y2="188.9" stroke="#333" stroke-width="0.3"/>
<line x1="12.9" y1="188.1" x2="58" y2="188.1" stroke="#333" stroke-width="0.4"/>
<line x1="12.9" y1="188.1" x2="12.9" y2="268" stroke="#777" stroke-width="0.5"/>
<line x1="24.5" y1="189" x2="24.5" y2="268" stroke="#bbb" stroke-width="0.3" stroke-dasharray="0.6,0.6"/>
<rect x="5.8" y="189.8" width="6.1" height="21.799999999999983" fill="#1e9f90" stroke="none" stroke-width="0.5" rx="0"/>
<text x="8.9" y="200.7" font-size="4.5" text-anchor="middle" fill="#fff" stroke="#fff" stroke-width="0.16" font-weight="normal" transform="rotate(-90 8.9 200.7)" dominant-baseline="middle">K562</text>
<rect x="5.8" y="218.6" width="6.1" height="20.200000000000017" fill="#f2b540" stroke="none" stroke-width="0.5" rx="0"/>
<text x="8.9" y="228.7" font-size="4.5" text-anchor="middle" fill="#fff" stroke="#fff" stroke-width="0.16" font-weight="normal" transform="rotate(-90 8.9 228.7)" dominant-baseline="middle">HepG2</text>
<rect x="5.8" y="246.2" width="6.1" height="20.19999999999999" fill="#e0343c" stroke="none" stroke-width="0.5" rx="0"/>
<text x="8.9" y="256.29999999999995" font-size="4.5" text-anchor="middle" fill="#fff" stroke="#fff" stroke-width="0.16" font-weight="normal" transform="rotate(-90 8.9 256.29999999999995)" dominant-baseline="middle">SK-N-SH</text>
<line x1="12.9" y1="192.95" x2="24.5" y2="192.95" stroke="#8a8a8a" stroke-width="0.55"/>
<line x1="33.0" y1="192.95" x2="44.5" y2="192.95" stroke="#8a8a8a" stroke-width="0.55"/>
<line x1="12.9" y1="191.85" x2="12.9" y2="194.04999999999998" stroke="#333" stroke-width="0.45"/>
<line x1="44.5" y1="191.85" x2="44.5" y2="194.04999999999998" stroke="#333" stroke-width="0.45"/>
<rect x="24.5" y="190.3" width="8.5" height="5.299999999999983" fill="#2f8d3c" stroke="#1d5e26" stroke-width="0.45" rx="0"/>
<line x1="28.7" y1="190.3" x2="28.7" y2="195.6" stroke="#1d5e26" stroke-width="0.45"/>
<line x1="25.3" y1="192.95" x2="32.2" y2="192.95" stroke="#ffffff" stroke-width="0.3" opacity="0.5"/>
<line x1="21.0" y1="198.5" x2="33.0" y2="198.5" stroke="#8a8a8a" stroke-width="0.55"/>
<line x1="42.5" y1="198.5" x2="51.3" y2="198.5" stroke="#8a8a8a" stroke-width="0.55"/>
<line x1="21.0" y1="197.4" x2="21.0" y2="199.6" stroke="#333" stroke-width="0.45"/>
<line x1="51.3" y1="197.4" x2="51.3" y2="199.6" stroke="#333" stroke-width="0.45"/>
<rect x="33.0" y="195.8" width="9.5" height="5.399999999999977" fill="#46b34f" stroke="#2a7a30" stroke-width="0.45" rx="0"/>
<line x1="37.7" y1="195.8" x2="37.7" y2="201.2" stroke="#2a7a30" stroke-width="0.45"/>
<line x1="33.8" y1="198.5" x2="41.7" y2="198.5" stroke="#ffffff" stroke-width="0.3" opacity="0.5"/>
<line x1="22.2" y1="203.9" x2="32.0" y2="203.9" stroke="#8a8a8a" stroke-width="0.55"/>
<line x1="41.5" y1="203.9" x2="53.7" y2="203.9" stroke="#8a8a8a" stroke-width="0.55"/>
<line x1="22.2" y1="202.8" x2="22.2" y2="205.0" stroke="#333" stroke-width="0.45"/>
<line x1="53.7" y1="202.8" x2="53.7" y2="205.0" stroke="#333" stroke-width="0.45"/>
<rect x="32.0" y="201.4" width="9.5" height="5.0" fill="#e8c4d4" stroke="#9a6080" stroke-width="0.45" rx="0"/>
<line x1="36.7" y1="201.4" x2="36.7" y2="206.4" stroke="#9a6080" stroke-width="0.45"/>
<line x1="32.8" y1="203.9" x2="40.7" y2="203.9" stroke="#ffffff" stroke-width="0.3" opacity="0.5"/>
<line x1="29.2" y1="209.2" x2="40.0" y2="209.2" stroke="#8a8a8a" stroke-width="0.55"/>
<line x1="48.0" y1="209.2" x2="58.3" y2="209.2" stroke="#8a8a8a" stroke-width="0.55"/>
<line x1="29.2" y1="208.1" x2="29.2" y2="210.29999999999998" stroke="#333" stroke-width="0.45"/>
<line x1="58.3" y1="208.1" x2="58.3" y2="210.29999999999998" stroke="#333" stroke-width="0.45"/>
<rect x="40.0" y="206.6" width="8.0" height="5.200000000000017" fill="#f08a96" stroke="#b03848" stroke-width="0.45" rx="0"/>
<line x1="44.0" y1="206.6" x2="44.0" y2="211.8" stroke="#b03848" stroke-width="0.45"/>
<line x1="40.8" y1="209.2" x2="47.2" y2="209.2" stroke="#ffffff" stroke-width="0.3" opacity="0.5"/>
<line x1="16.0" y1="221.2" x2="24.0" y2="221.2" stroke="#8a8a8a" stroke-width="0.55"/>
<line x1="30.6" y1="221.2" x2="39.4" y2="221.2" stroke="#8a8a8a" stroke-width="0.55"/>
<line x1="16.0" y1="220.1" x2="16.0" y2="222.29999999999998" stroke="#333" stroke-width="0.45"/>
<line x1="39.4" y1="220.1" x2="39.4" y2="222.29999999999998" stroke="#333" stroke-width="0.45"/>
<rect x="24.0" y="218.9" width="6.600000000000001" height="4.599999999999994" fill="#2f8d3c" stroke="#1d5e26" stroke-width="0.45" rx="0"/>
<line x1="27.3" y1="218.9" x2="27.3" y2="223.5" stroke="#1d5e26" stroke-width="0.45"/>
<line x1="24.8" y1="221.2" x2="29.8" y2="221.2" stroke="#ffffff" stroke-width="0.3" opacity="0.5"/>
<line x1="22.5" y1="226.4" x2="30.6" y2="226.4" stroke="#8a8a8a" stroke-width="0.55"/>
<line x1="36.9" y1="226.4" x2="44.4" y2="226.4" stroke="#8a8a8a" stroke-width="0.55"/>
<line x1="22.5" y1="225.3" x2="22.5" y2="227.5" stroke="#333" stroke-width="0.45"/>
<line x1="44.4" y1="225.3" x2="44.4" y2="227.5" stroke="#333" stroke-width="0.45"/>
<rect x="30.6" y="223.9" width="6.299999999999997" height="5.0" fill="#46b34f" stroke="#2a7a30" stroke-width="0.45" rx="0"/>
<line x1="33.7" y1="223.9" x2="33.7" y2="228.9" stroke="#2a7a30" stroke-width="0.45"/>
<line x1="31.400000000000002" y1="226.4" x2="36.1" y2="226.4" stroke="#ffffff" stroke-width="0.3" opacity="0.5"/>
<line x1="22.2" y1="231.7" x2="31.9" y2="231.7" stroke="#8a8a8a" stroke-width="0.55"/>
<line x1="38.1" y1="231.7" x2="47.5" y2="231.7" stroke="#8a8a8a" stroke-width="0.55"/>
<line x1="22.2" y1="230.6" x2="22.2" y2="232.79999999999998" stroke="#333" stroke-width="0.45"/>
<line x1="47.5" y1="230.6" x2="47.5" y2="232.79999999999998" stroke="#333" stroke-width="0.45"/>
<rect x="31.9" y="229.5" width="6.200000000000003" height="4.400000000000006" fill="#e8c4d4" stroke="#9a6080" stroke-width="0.45" rx="0"/>
<line x1="35.0" y1="229.5" x2="35.0" y2="233.9" stroke="#9a6080" stroke-width="0.45"/>
<line x1="32.699999999999996" y1="231.7" x2="37.300000000000004" y2="231.7" stroke="#ffffff" stroke-width="0.3" opacity="0.5"/>
<line x1="19.7" y1="237.0" x2="31.5" y2="237.0" stroke="#8a8a8a" stroke-width="0.55"/>
<line x1="40.6" y1="237.0" x2="51.2" y2="237.0" stroke="#8a8a8a" stroke-width="0.55"/>
<line x1="19.7" y1="235.9" x2="19.7" y2="238.1" stroke="#333" stroke-width="0.45"/>
<line x1="51.2" y1="235.9" x2="51.2" y2="238.1" stroke="#333" stroke-width="0.45"/>
<rect x="31.5" y="234.5" width="9.100000000000001" height="5.0" fill="#f08a96" stroke="#b03848" stroke-width="0.45" rx="0"/>
<line x1="36.0" y1="234.5" x2="36.0" y2="239.5" stroke="#b03848" stroke-width="0.45"/>
<line x1="32.3" y1="237.0" x2="39.800000000000004" y2="237.0" stroke="#ffffff" stroke-width="0.3" opacity="0.5"/>
<line x1="18.1" y1="248.3" x2="23.1" y2="248.3" stroke="#8a8a8a" stroke-width="0.55"/>
<line x1="26.3" y1="248.3" x2="31.9" y2="248.3" stroke="#8a8a8a" stroke-width="0.55"/>
<line x1="18.1" y1="247.20000000000002" x2="18.1" y2="249.4" stroke="#333" stroke-width="0.45"/>
<line x1="31.9" y1="247.20000000000002" x2="31.9" y2="249.4" stroke="#333" stroke-width="0.45"/>
<rect x="23.1" y="246.0" width="3.1999999999999993" height="4.599999999999994" fill="#2f8d3c" stroke="#1d5e26" stroke-width="0.45" rx="0"/>
<line x1="24.7" y1="246.0" x2="24.7" y2="250.6" stroke="#1d5e26" stroke-width="0.45"/>
<line x1="23.900000000000002" y1="248.3" x2="25.5" y2="248.3" stroke="#ffffff" stroke-width="0.3" opacity="0.5"/>
<line x1="19.4" y1="253.6" x2="25.6" y2="253.6" stroke="#8a8a8a" stroke-width="0.55"/>
<line x1="30.0" y1="253.6" x2="36.9" y2="253.6" stroke="#8a8a8a" stroke-width="0.55"/>
<line x1="19.4" y1="252.5" x2="19.4" y2="254.7" stroke="#333" stroke-width="0.45"/>
<line x1="36.9" y1="252.5" x2="36.9" y2="254.7" stroke="#333" stroke-width="0.45"/>
<rect x="25.6" y="251.0" width="4.399999999999999" height="5.199999999999989" fill="#46b34f" stroke="#2a7a30" stroke-width="0.45" rx="0"/>
<line x1="27.8" y1="251.0" x2="27.8" y2="256.2" stroke="#2a7a30" stroke-width="0.45"/>
<line x1="26.400000000000002" y1="253.6" x2="29.2" y2="253.6" stroke="#ffffff" stroke-width="0.3" opacity="0.5"/>
<line x1="23.1" y1="259.1" x2="30.6" y2="259.1" stroke="#8a8a8a" stroke-width="0.55"/>
<line x1="36.9" y1="259.1" x2="44.4" y2="259.1" stroke="#8a8a8a" stroke-width="0.55"/>
<line x1="23.1" y1="258.0" x2="23.1" y2="260.20000000000005" stroke="#333" stroke-width="0.45"/>
<line x1="44.4" y1="258.0" x2="44.4" y2="260.20000000000005" stroke="#333" stroke-width="0.45"/>
<rect x="30.6" y="256.9" width="6.299999999999997" height="4.400000000000034" fill="#e8c4d4" stroke="#9a6080" stroke-width="0.45" rx="0"/>
<line x1="33.7" y1="256.9" x2="33.7" y2="261.3" stroke="#9a6080" stroke-width="0.45"/>
<line x1="31.400000000000002" y1="259.1" x2="36.1" y2="259.1" stroke="#ffffff" stroke-width="0.3" opacity="0.5"/>
<line x1="21.2" y1="264.4" x2="31.9" y2="264.4" stroke="#8a8a8a" stroke-width="0.55"/>
<line x1="39.4" y1="264.4" x2="50.0" y2="264.4" stroke="#8a8a8a" stroke-width="0.55"/>
<line x1="21.2" y1="263.29999999999995" x2="21.2" y2="265.5" stroke="#333" stroke-width="0.45"/>
<line x1="50.0" y1="263.29999999999995" x2="50.0" y2="265.5" stroke="#333" stroke-width="0.45"/>
<rect x="31.9" y="261.9" width="7.5" height="5.0" fill="#f08a96" stroke="#b03848" stroke-width="0.45" rx="0"/>
<line x1="35.6" y1="261.9" x2="35.6" y2="266.9" stroke="#b03848" stroke-width="0.45"/>
<line x1="32.699999999999996" y1="264.4" x2="38.6" y2="264.4" stroke="#ffffff" stroke-width="0.3" opacity="0.5"/>
<rect x="5.6" y="270.3" width="3.2" height="3.4" fill="#2f8d3c" stroke="#1d5e26" stroke-width="0.3" rx="0"/>
<line x1="7.199999999999999" y1="270.3" x2="7.199999999999999" y2="273.7" stroke="#1d5e26" stroke-width="0.25"/>
<line x1="5.6" y1="272.0" x2="8.8" y2="272.0" stroke="#1d5e26" stroke-width="0.25"/>
<text x="9.8" y="273.5" font-size="4.7" text-anchor="start" fill="#2a2a2a" stroke="#2a2a2a" stroke-width="0.08" font-weight="normal">DHS natural</text>
<rect x="37.6" y="270.3" width="3.2" height="3.4" fill="#f08a96" stroke="#b03848" stroke-width="0.3" rx="0"/>
<line x1="39.2" y1="270.3" x2="39.2" y2="273.7" stroke="#b03848" stroke-width="0.25"/>
<line x1="37.6" y1="272.0" x2="40.800000000000004" y2="272.0" stroke="#b03848" stroke-width="0.25"/>
<text x="41.800000000000004" y="273.5" font-size="4.7" text-anchor="start" fill="#2a2a2a" stroke="#2a2a2a" stroke-width="0.08" font-weight="normal">Synthetic</text>
<rect x="5.6" y="276.5" width="3.2" height="3.4" fill="#46b34f" stroke="#2a7a30" stroke-width="0.3" rx="0"/>
<line x1="7.199999999999999" y1="276.5" x2="7.199999999999999" y2="279.9" stroke="#2a7a30" stroke-width="0.25"/>
<line x1="5.6" y1="278.2" x2="8.8" y2="278.2" stroke="#2a7a30" stroke-width="0.25"/>
<text x="9.8" y="279.7" font-size="4.7" text-anchor="start" fill="#2a2a2a" stroke="#2a2a2a" stroke-width="0.08" font-weight="normal">Malinois natural</text>
<rect x="5.6" y="282.70000000000005" width="3.2" height="3.4" fill="#e8c4d4" stroke="#9a6080" stroke-width="0.3" rx="0"/>
<line x1="7.199999999999999" y1="282.70000000000005" x2="7.199999999999999" y2="286.1" stroke="#9a6080" stroke-width="0.25"/>
<line x1="5.6" y1="284.40000000000003" x2="8.8" y2="284.40000000000003" stroke="#9a6080" stroke-width="0.25"/>
<text x="9.8" y="285.90000000000003" font-size="4.7" text-anchor="start" fill="#2a2a2a" stroke="#2a2a2a" stroke-width="0.08" font-weight="normal">Syn. penalized</text>
<text x="67.2" y="176.2" font-size="6" text-anchor="middle" fill="#000" stroke="#000" stroke-width="0.08" font-weight="bold">e</text>
<rect x="80" y="173.8" width="3.4" height="3.4" fill="#1e9f90" stroke="none" stroke-width="0.5" rx="0"/>
<text x="84.6" y="177.2" font-size="4.7" text-anchor="start" fill="#2a2a2a" stroke="#2a2a2a" stroke-width="0.08" font-weight="normal">K562</text>
<rect x="100.6" y="173.8" width="3.4" height="3.4" fill="#f2b540" stroke="none" stroke-width="0.5" rx="0"/>
<text x="105.19999999999999" y="177.2" font-size="4.7" text-anchor="start" fill="#2a2a2a" stroke="#2a2a2a" stroke-width="0.08" font-weight="normal">HepG2</text>
<rect x="123.6" y="173.8" width="3.4" height="3.4" fill="#e0343c" stroke="none" stroke-width="0.5" rx="0"/>
<text x="128.2" y="177.2" font-size="4.7" text-anchor="start" fill="#2a2a2a" stroke="#2a2a2a" stroke-width="0.08" font-weight="normal">SKNSH</text>
<text x="229.2" y="179.0" font-size="4.7" text-anchor="end" fill="#2a2a2a" stroke="#2a2a2a" stroke-width="0.08" font-weight="normal">Lowest</text>
<text x="228.6" y="184.1" font-size="4.7" text-anchor="end" fill="#2a2a2a" stroke="#2a2a2a" stroke-width="0.08" font-weight="normal">off-target activity</text>
<defs><linearGradient id="cb" x1="0" x2="1" y1="0" y2="0"><stop offset="0" stop-color="#1a2a7a"/><stop offset="0.3" stop-color="#2a2a60"/><stop offset="0.55" stop-color="#5a3040"/><stop offset="0.8" stop-color="#c05a48"/><stop offset="1" stop-color="#f08060"/></linearGradient></defs>
<rect x="231.8" y="176.9" width="25.9" height="1.7" fill="url(#cb)" stroke="none" stroke-width="0.5" rx="0"/>
<text x="236.2" y="184.1" font-size="4.7" text-anchor="middle" fill="#2a2a2a" stroke="#2a2a2a" stroke-width="0.08" font-weight="normal">0</text>
<text x="246.7" y="184.1" font-size="4.7" text-anchor="middle" fill="#2a2a2a" stroke="#2a2a2a" stroke-width="0.08" font-weight="normal">4</text>
<text x="257.2" y="184.1" font-size="4.7" text-anchor="middle" fill="#2a2a2a" stroke="#2a2a2a" stroke-width="0.08" font-weight="normal">8</text>
<text x="67.6" y="210.2" font-size="4.3" text-anchor="middle" fill="#2a2a2a" stroke="#2a2a2a" stroke-width="0.16" font-weight="normal" transform="rotate(-90 67.6 210.2)">Specificity</text>
<text x="73.8" y="209.7" font-size="4.3" text-anchor="middle" fill="#2a2a2a" stroke="#2a2a2a" stroke-width="0.16" font-weight="normal" transform="rotate(-90 73.8 209.7)">summary</text>
<text x="67.8" y="269.0" font-size="4.3" text-anchor="middle" fill="#2a2a2a" stroke="#2a2a2a" stroke-width="0.16" font-weight="normal" transform="rotate(-90 67.8 269.0)">Specificity hit</text>
<text x="72.6" y="269.0" font-size="4.3" text-anchor="middle" fill="#2a2a2a" stroke="#2a2a2a" stroke-width="0.16" font-weight="normal" transform="rotate(-90 72.6 269.0)">percentage</text>
<defs><filter id="blr" x="-50%" y="-50%" width="200%" height="200%"><feGaussianBlur stdDeviation="0.55"/></filter><filter id="blr2" x="-50%" y="-50%" width="200%" height="200%"><feGaussianBlur stdDeviation="1.0"/></filter></defs>
<path d="M103.80,210.00 L93.10,191.47 A21.4,21.4 0 0 1 114.50,191.47 Z" fill="#d3ebee" stroke="none" stroke-width="0.5"/>
<path d="M103.80,210.00 L125.20,210.00 A21.4,21.4 0 0 1 114.50,228.53 Z" fill="#f8dde0" stroke="none" stroke-width="0.5"/>
<path d="M103.80,210.00 L93.10,228.53 A21.4,21.4 0 0 1 82.40,210.00 Z" fill="#fcecd6" stroke="none" stroke-width="0.5"/>
<circle cx="103.8" cy="210.0" r="4.279999999999999" fill="none" stroke="#d9d9d9" stroke-width="0.35"/>
<circle cx="103.8" cy="210.0" r="8.559999999999999" fill="none" stroke="#d9d9d9" stroke-width="0.35"/>
<circle cx="103.8" cy="210.0" r="12.839999999999998" fill="none" stroke="#d9d9d9" stroke-width="0.35"/>
<circle cx="103.8" cy="210.0" r="17.119999999999997" fill="none" stroke="#d9d9d9" stroke-width="0.35"/>
<circle cx="103.8" cy="210.0" r="21.4" fill="none" stroke="#d9d9d9" stroke-width="0.35"/>
<g filter="url(#blr)">
<path d="M101.40,210.00 L102.60,201.00 L105.00,201.00 L106.20,210.00 Z" fill="#6a7ab0" stroke="none" stroke-width="0.5" opacity="0.25"/>
<path d="M102.80,210.00 L103.40,203.00 L104.20,203.00 L104.80,210.00 Z" fill="#1c2a6a" stroke="none" stroke-width="0.5" opacity="0.8"/>
<path d="M104.60,211.39 L100.74,212.69 L99.94,211.31 L103.00,208.61 Z" fill="#3c3c84" stroke="none" stroke-width="0.5" opacity="0.45"/>
<path d="M104.60,208.61 L107.66,211.31 L106.86,212.69 L103.00,211.39 Z" fill="#3c3c84" stroke="none" stroke-width="0.5" opacity="0.45"/>
<circle cx="103.8" cy="210.0" r="1.8" fill="#1c2a6a" stroke="none" stroke-width="0.5" opacity="0.6"/>
</g>
<line x1="103.8" y1="210.0" x2="103.8" y2="188.4" stroke="#111" stroke-width="0.6"/>
<circle cx="103.8" cy="188.4" r="1.0" fill="#111" stroke="none" stroke-width="0.5"/>
<line x1="103.8" y1="210.0" x2="122.50614872174387" y2="220.79999999999998" stroke="#111" stroke-width="0.6"/>
<circle cx="122.50614872174387" cy="220.79999999999998" r="1.0" fill="#111" stroke="none" stroke-width="0.5"/>
<line x1="103.8" y1="210.0" x2="85.09385127825612" y2="220.8" stroke="#111" stroke-width="0.6"/>
<circle cx="85.09385127825612" cy="220.8" r="1.0" fill="#111" stroke="none" stroke-width="0.5"/>
<rect x="95.2" y="237.0" width="17.2" height="1.3" fill="#2f8d3c" stroke="none" stroke-width="0.5" rx="0"/>
<text x="103.8" y="243.6" font-size="4.7" text-anchor="middle" fill="#2a2a2a" stroke="#2a2a2a" stroke-width="0.08" font-weight="normal">DHS natural</text>
<path d="M150.10,210.00 L139.40,191.47 A21.4,21.4 0 0 1 160.80,191.47 Z" fill="#d3ebee" stroke="none" stroke-width="0.5"/>
<path d="M150.10,210.00 L171.50,210.00 A21.4,21.4 0 0 1 160.80,228.53 Z" fill="#f8dde0" stroke="none" stroke-width="0.5"/>
<path d="M150.10,210.00 L139.40,228.53 A21.4,21.4 0 0 1 128.70,210.00 Z" fill="#fcecd6" stroke="none" stroke-width="0.5"/>
<circle cx="150.1" cy="210.0" r="4.279999999999999" fill="none" stroke="#d9d9d9" stroke-width="0.35"/>
<circle cx="150.1" cy="210.0" r="8.559999999999999" fill="none" stroke="#d9d9d9" stroke-width="0.35"/>
<circle cx="150.1" cy="210.0" r="12.839999999999998" fill="none" stroke="#d9d9d9" stroke-width="0.35"/>
<circle cx="150.1" cy="210.0" r="17.119999999999997" fill="none" stroke="#d9d9d9" stroke-width="0.35"/>
<circle cx="150.1" cy="210.0" r="21.4" fill="none" stroke="#d9d9d9" stroke-width="0.35"/>
<g filter="url(#blr)">
<path d="M147.10,210.00 L148.70,192.00 L151.50,192.00 L153.10,210.00 Z" fill="#6a7ab0" stroke="none" stroke-width="0.5" opacity="0.25"/>
<path d="M148.80,210.00 L149.60,193.00 L150.60,193.00 L151.40,210.00 Z" fill="#1c2a6a" stroke="none" stroke-width="0.5" opacity="0.75"/>
<path d="M151.30,212.08 L141.94,215.87 L140.94,214.13 L148.90,207.92 Z" fill="#1c2a6a" stroke="none" stroke-width="0.5" opacity="0.6"/>
<path d="M151.00,208.44 L155.70,212.31 L154.90,213.69 L149.20,211.56 Z" fill="#3c3c84" stroke="none" stroke-width="0.5" opacity="0.4"/>
<circle cx="150.1" cy="210.0" r="1.8" fill="#1c2a6a" stroke="none" stroke-width="0.5" opacity="0.6"/>
</g>
<line x1="150.1" y1="210.0" x2="150.1" y2="188.4" stroke="#111" stroke-width="0.6"/>
<circle cx="150.1" cy="188.4" r="1.0" fill="#111" stroke="none" stroke-width="0.5"/>
<line x1="150.1" y1="210.0" x2="168.80614872174388" y2="220.79999999999998" stroke="#111" stroke-width="0.6"/>
<circle cx="168.80614872174388" cy="220.79999999999998" r="1.0" fill="#111" stroke="none" stroke-width="0.5"/>
<line x1="150.1" y1="210.0" x2="131.39385127825614" y2="220.8" stroke="#111" stroke-width="0.6"/>
<circle cx="131.39385127825614" cy="220.8" r="1.0" fill="#111" stroke="none" stroke-width="0.5"/>
<rect x="141.5" y="237.0" width="17.2" height="1.3" fill="#46b34f" stroke="none" stroke-width="0.5" rx="0"/>
<text x="150.1" y="243.6" font-size="4.7" text-anchor="middle" fill="#2a2a2a" stroke="#2a2a2a" stroke-width="0.08" font-weight="normal">Malinois natural</text>
<path d="M196.30,210.00 L185.60,191.47 A21.4,21.4 0 0 1 207.00,191.47 Z" fill="#d3ebee" stroke="none" stroke-width="0.5"/>
<path d="M196.30,210.00 L217.70,210.00 A21.4,21.4 0 0 1 207.00,228.53 Z" fill="#f8dde0" stroke="none" stroke-width="0.5"/>
<path d="M196.30,210.00 L185.60,228.53 A21.4,21.4 0 0 1 174.90,210.00 Z" fill="#fcecd6" stroke="none" stroke-width="0.5"/>
<circle cx="196.3" cy="210.0" r="4.279999999999999" fill="none" stroke="#d9d9d9" stroke-width="0.35"/>
<circle cx="196.3" cy="210.0" r="8.559999999999999" fill="none" stroke="#d9d9d9" stroke-width="0.35"/>
<circle cx="196.3" cy="210.0" r="12.839999999999998" fill="none" stroke="#d9d9d9" stroke-width="0.35"/>
<circle cx="196.3" cy="210.0" r="17.119999999999997" fill="none" stroke="#d9d9d9" stroke-width="0.35"/>
<circle cx="196.3" cy="210.0" r="21.4" fill="none" stroke="#d9d9d9" stroke-width="0.35"/>
<g filter="url(#blr)">
<path d="M193.30,210.00 L194.90,193.00 L197.70,193.00 L199.30,210.00 Z" fill="#6a7ab0" stroke="none" stroke-width="0.5" opacity="0.25"/>
<path d="M194.90,210.00 L195.70,194.00 L196.90,194.00 L197.70,210.00 Z" fill="#1c2a6a" stroke="none" stroke-width="0.5" opacity="0.75"/>
<path d="M197.50,212.08 L184.88,218.21 L183.48,215.79 L195.10,207.92 Z" fill="#3c3c84" stroke="none" stroke-width="0.5" opacity="0.55"/>
<path d="M197.60,207.75 L210.96,216.61 L209.36,219.39 L195.00,212.25 Z" fill="#6c5a94" stroke="none" stroke-width="0.5" opacity="0.5"/>
<circle cx="196.3" cy="210.0" r="1.8" fill="#1c2a6a" stroke="none" stroke-width="0.5" opacity="0.6"/>
</g>
<line x1="196.3" y1="210.0" x2="196.3" y2="188.4" stroke="#111" stroke-width="0.6"/>
<circle cx="196.3" cy="188.4" r="1.0" fill="#111" stroke="none" stroke-width="0.5"/>
<line x1="196.3" y1="210.0" x2="215.0061487217439" y2="220.79999999999998" stroke="#111" stroke-width="0.6"/>
<circle cx="215.0061487217439" cy="220.79999999999998" r="1.0" fill="#111" stroke="none" stroke-width="0.5"/>
<line x1="196.3" y1="210.0" x2="177.59385127825615" y2="220.8" stroke="#111" stroke-width="0.6"/>
<circle cx="177.59385127825615" cy="220.8" r="1.0" fill="#111" stroke="none" stroke-width="0.5"/>
<rect x="187.70000000000002" y="236.8" width="17.2" height="1.7" fill="#a88aa0" stroke="#5a4056" stroke-width="0.35" rx="0"/>
<rect x="187.70000000000002" y="236.8" width="17.2" height="1.7" fill="url(#hatch)" stroke="none" stroke-width="0.5" rx="0"/>
<text x="196.3" y="243.6" font-size="4.7" text-anchor="middle" fill="#2a2a2a" stroke="#2a2a2a" stroke-width="0.08" font-weight="normal">Synthetic penalized</text>
<path d="M242.50,210.00 L231.80,191.47 A21.4,21.4 0 0 1 253.20,191.47 Z" fill="#d3ebee" stroke="none" stroke-width="0.5"/>
<path d="M242.50,210.00 L263.90,210.00 A21.4,21.4 0 0 1 253.20,228.53 Z" fill="#f8dde0" stroke="none" stroke-width="0.5"/>
<path d="M242.50,210.00 L231.80,228.53 A21.4,21.4 0 0 1 221.10,210.00 Z" fill="#fcecd6" stroke="none" stroke-width="0.5"/>
<circle cx="242.5" cy="210.0" r="4.279999999999999" fill="none" stroke="#d9d9d9" stroke-width="0.35"/>
<circle cx="242.5" cy="210.0" r="8.559999999999999" fill="none" stroke="#d9d9d9" stroke-width="0.35"/>
<circle cx="242.5" cy="210.0" r="12.839999999999998" fill="none" stroke="#d9d9d9" stroke-width="0.35"/>
<circle cx="242.5" cy="210.0" r="17.119999999999997" fill="none" stroke="#d9d9d9" stroke-width="0.35"/>
<circle cx="242.5" cy="210.0" r="21.4" fill="none" stroke="#d9d9d9" stroke-width="0.35"/>
<g filter="url(#blr)">
<path d="M239.30,210.00 L240.90,191.00 L244.10,191.00 L245.70,210.00 Z" fill="#6a7ab0" stroke="none" stroke-width="0.5" opacity="0.25"/>
<path d="M241.00,210.00 L241.80,192.00 L243.20,192.00 L244.00,210.00 Z" fill="#1c2a6a" stroke="none" stroke-width="0.5" opacity="0.75"/>
<path d="M243.90,212.42 L229.44,219.39 L227.84,216.61 L241.10,207.58 Z" fill="#3c3c84" stroke="none" stroke-width="0.5" opacity="0.5"/>
<path d="M244.00,207.40 L258.12,216.94 L256.32,220.06 L241.00,212.60 Z" fill="#6c5a94" stroke="none" stroke-width="0.5" opacity="0.45"/>
<circle cx="242.5" cy="210.0" r="1.8" fill="#1c2a6a" stroke="none" stroke-width="0.5" opacity="0.6"/>
</g>
<line x1="242.5" y1="210.0" x2="242.5" y2="188.4" stroke="#111" stroke-width="0.6"/>
<circle cx="242.5" cy="188.4" r="1.0" fill="#111" stroke="none" stroke-width="0.5"/>
<line x1="242.5" y1="210.0" x2="261.2061487217439" y2="220.79999999999998" stroke="#111" stroke-width="0.6"/>
<circle cx="261.2061487217439" cy="220.79999999999998" r="1.0" fill="#111" stroke="none" stroke-width="0.5"/>
<line x1="242.5" y1="210.0" x2="223.79385127825614" y2="220.8" stroke="#111" stroke-width="0.6"/>
<circle cx="223.79385127825614" cy="220.8" r="1.0" fill="#111" stroke="none" stroke-width="0.5"/>
<rect x="233.9" y="237.0" width="17.2" height="1.3" fill="#ec6d82" stroke="none" stroke-width="0.5" rx="0"/>
<text x="242.5" y="243.6" font-size="4.7" text-anchor="middle" fill="#2a2a2a" stroke="#2a2a2a" stroke-width="0.08" font-weight="normal">Synthetic</text>
<text x="103.8" y="186.0" font-size="4.3" text-anchor="middle" fill="#2a2a2a" stroke="#2a2a2a" stroke-width="0.08" font-weight="normal">K562</text>
<text x="84.0" y="225.4" font-size="4.3" text-anchor="middle" fill="#2a2a2a" stroke="#2a2a2a" stroke-width="0.16" font-weight="normal" transform="rotate(55 84.0 225.4)" dominant-baseline="middle">HepG2</text>
<text x="123.6" y="225.4" font-size="4.3" text-anchor="middle" fill="#2a2a2a" stroke="#2a2a2a" stroke-width="0.16" font-weight="normal" transform="rotate(-55 123.6 225.4)" dominant-baseline="middle">SKNSH</text>
<path d="M103.80,270.20 L93.70,252.71 A20.2,20.2 0 0 1 113.90,252.71 Z" fill="#1e9f90" stroke="#fff" stroke-width="0.7"/>
<text x="103.8" y="258.0" font-size="4.7" text-anchor="middle" fill="#fff" stroke="#fff" stroke-width="0.08" font-weight="normal">4</text>
<text x="103.8" y="266.8" font-size="3.4" text-anchor="middle" fill="#e8f4f2" stroke="#e8f4f2" stroke-width="0.08" font-weight="normal">17</text>
<path d="M113.90,252.71 A20.2,20.2 0 0 1 124.00,270.20 L111.40,270.20 A7.6,7.6 0 0 0 107.60,263.62 Z" fill="#dadada" stroke="#fff" stroke-width="0.7"/>
<text x="115.58" y="264.8" font-size="4.7" text-anchor="middle" fill="#333" stroke="#333" stroke-width="0.08" font-weight="normal">0</text>
<text x="107.78" y="269.1" font-size="3.4" text-anchor="middle" fill="#222" stroke="#222" stroke-width="0.08" font-weight="normal">4</text>
<path d="M103.80,270.20 L124.00,270.20 A20.2,20.2 0 0 1 113.90,287.69 Z" fill="#e0262e" stroke="#fff" stroke-width="0.7"/>
<text x="115.58" y="278.4" font-size="4.7" text-anchor="middle" fill="#fff" stroke="#fff" stroke-width="0.08" font-weight="normal">0</text>
<text x="107.78" y="273.7" font-size="3.4" text-anchor="middle" fill="#e8f4f2" stroke="#e8f4f2" stroke-width="0.08" font-weight="normal">6</text>
<path d="M113.90,287.69 A20.2,20.2 0 0 1 93.70,287.69 L100.00,276.78 A7.6,7.6 0 0 0 107.60,276.78 Z" fill="#dadada" stroke="#fff" stroke-width="0.7"/>
<text x="103.8" y="285.2" font-size="4.7" text-anchor="middle" fill="#333" stroke="#333" stroke-width="0.08" font-weight="normal">0</text>
<text x="103.8" y="276.0" font-size="3.4" text-anchor="middle" fill="#222" stroke="#222" stroke-width="0.08" font-weight="normal">4</text>
<path d="M103.80,270.20 L93.70,287.69 A20.2,20.2 0 0 1 83.60,270.20 Z" fill="#f5a733" stroke="#fff" stroke-width="0.7"/>
<text x="92.02" y="278.4" font-size="4.7" text-anchor="middle" fill="#fff" stroke="#fff" stroke-width="0.08" font-weight="normal">1</text>
<text x="99.82" y="273.7" font-size="3.4" text-anchor="middle" fill="#e8f4f2" stroke="#e8f4f2" stroke-width="0.08" font-weight="normal">12</text>
<path d="M83.60,270.20 A20.2,20.2 0 0 1 93.70,252.71 L100.00,263.62 A7.6,7.6 0 0 0 96.20,270.20 Z" fill="#dadada" stroke="#fff" stroke-width="0.7"/>
<text x="92.02" y="264.8" font-size="4.7" text-anchor="middle" fill="#333" stroke="#333" stroke-width="0.08" font-weight="normal">0</text>
<text x="99.82" y="269.1" font-size="3.4" text-anchor="middle" fill="#222" stroke="#222" stroke-width="0.08" font-weight="normal">5</text>
<path d="M150.10,270.20 L140.00,252.71 A20.2,20.2 0 0 1 160.20,252.71 Z" fill="#1e9f90" stroke="#fff" stroke-width="0.7"/>
<text x="150.1" y="258.0" font-size="4.7" text-anchor="middle" fill="#fff" stroke="#fff" stroke-width="0.08" font-weight="normal">16</text>
<text x="150.1" y="266.8" font-size="3.4" text-anchor="middle" fill="#e8f4f2" stroke="#e8f4f2" stroke-width="0.08" font-weight="normal">11</text>
<path d="M160.20,252.71 A20.2,20.2 0 0 1 170.30,270.20 L157.70,270.20 A7.6,7.6 0 0 0 153.90,263.62 Z" fill="#dadada" stroke="#fff" stroke-width="0.7"/>
<text x="161.88" y="264.8" font-size="4.7" text-anchor="middle" fill="#333" stroke="#333" stroke-width="0.08" font-weight="normal">0</text>
<text x="154.08" y="269.1" font-size="3.4" text-anchor="middle" fill="#222" stroke="#222" stroke-width="0.08" font-weight="normal">2</text>
<path d="M150.10,270.20 L170.30,270.20 A20.2,20.2 0 0 1 160.20,287.69 Z" fill="#e0262e" stroke="#fff" stroke-width="0.7"/>
<text x="161.88" y="278.4" font-size="4.7" text-anchor="middle" fill="#fff" stroke="#fff" stroke-width="0.08" font-weight="normal">2</text>
<text x="154.08" y="273.7" font-size="3.4" text-anchor="middle" fill="#e8f4f2" stroke="#e8f4f2" stroke-width="0.08" font-weight="normal">9</text>
<path d="M160.20,287.69 A20.2,20.2 0 0 1 140.00,287.69 L146.30,276.78 A7.6,7.6 0 0 0 153.90,276.78 Z" fill="#dadada" stroke="#fff" stroke-width="0.7"/>
<text x="150.1" y="285.2" font-size="4.7" text-anchor="middle" fill="#333" stroke="#333" stroke-width="0.08" font-weight="normal">1</text>
<text x="150.1" y="276.0" font-size="3.4" text-anchor="middle" fill="#222" stroke="#222" stroke-width="0.08" font-weight="normal">3</text>
<path d="M150.10,270.20 L140.00,287.69 A20.2,20.2 0 0 1 129.90,270.20 Z" fill="#f5a733" stroke="#fff" stroke-width="0.7"/>
<text x="138.32" y="278.4" font-size="4.7" text-anchor="middle" fill="#fff" stroke="#fff" stroke-width="0.08" font-weight="normal">4</text>
<text x="146.12" y="273.7" font-size="3.4" text-anchor="middle" fill="#e8f4f2" stroke="#e8f4f2" stroke-width="0.08" font-weight="normal">8</text>
<path d="M129.90,270.20 A20.2,20.2 0 0 1 140.00,252.71 L146.30,263.62 A7.6,7.6 0 0 0 142.50,270.20 Z" fill="#dadada" stroke="#fff" stroke-width="0.7"/>
<text x="138.32" y="264.8" font-size="4.7" text-anchor="middle" fill="#333" stroke="#333" stroke-width="0.08" font-weight="normal">0</text>
<text x="146.12" y="269.1" font-size="3.4" text-anchor="middle" fill="#222" stroke="#222" stroke-width="0.08" font-weight="normal">2</text>
<path d="M196.40,270.20 L186.30,252.71 A20.2,20.2 0 0 1 206.50,252.71 Z" fill="#1e9f90" stroke="#fff" stroke-width="0.7"/>
<text x="196.4" y="258.0" font-size="4.7" text-anchor="middle" fill="#fff" stroke="#fff" stroke-width="0.08" font-weight="normal">14</text>
<text x="196.4" y="266.8" font-size="3.4" text-anchor="middle" fill="#e8f4f2" stroke="#e8f4f2" stroke-width="0.08" font-weight="normal">12</text>
<path d="M206.50,252.71 A20.2,20.2 0 0 1 216.60,270.20 L204.00,270.20 A7.6,7.6 0 0 0 200.20,263.62 Z" fill="#dadada" stroke="#fff" stroke-width="0.7"/>
<text x="208.18" y="264.8" font-size="4.7" text-anchor="middle" fill="#333" stroke="#333" stroke-width="0.08" font-weight="normal">0</text>
<text x="200.38" y="269.1" font-size="3.4" text-anchor="middle" fill="#222" stroke="#222" stroke-width="0.08" font-weight="normal">1</text>
<path d="M196.40,270.20 L216.60,270.20 A20.2,20.2 0 0 1 206.50,287.69 Z" fill="#e0262e" stroke="#fff" stroke-width="0.7"/>
<text x="208.18" y="278.4" font-size="4.7" text-anchor="middle" fill="#fff" stroke="#fff" stroke-width="0.08" font-weight="normal">8</text>
<text x="200.38" y="273.7" font-size="3.4" text-anchor="middle" fill="#e8f4f2" stroke="#e8f4f2" stroke-width="0.08" font-weight="normal">22</text>
<path d="M206.50,287.69 A20.2,20.2 0 0 1 186.30,287.69 L192.60,276.78 A7.6,7.6 0 0 0 200.20,276.78 Z" fill="#dadada" stroke="#fff" stroke-width="0.7"/>
<text x="196.4" y="285.2" font-size="4.7" text-anchor="middle" fill="#333" stroke="#333" stroke-width="0.08" font-weight="normal">1</text>
<text x="196.4" y="276.0" font-size="3.4" text-anchor="middle" fill="#222" stroke="#222" stroke-width="0.08" font-weight="normal">1</text>
<path d="M196.40,270.20 L186.30,287.69 A20.2,20.2 0 0 1 176.20,270.20 Z" fill="#f5a733" stroke="#fff" stroke-width="0.7"/>
<text x="184.62" y="278.4" font-size="4.7" text-anchor="middle" fill="#fff" stroke="#fff" stroke-width="0.08" font-weight="normal">9</text>
<text x="192.42" y="273.7" font-size="3.4" text-anchor="middle" fill="#e8f4f2" stroke="#e8f4f2" stroke-width="0.08" font-weight="normal">12</text>
<path d="M176.20,270.20 A20.2,20.2 0 0 1 186.30,252.71 L192.60,263.62 A7.6,7.6 0 0 0 188.80,270.20 Z" fill="#dadada" stroke="#fff" stroke-width="0.7"/>
<text x="184.62" y="264.8" font-size="4.7" text-anchor="middle" fill="#333" stroke="#333" stroke-width="0.08" font-weight="normal">0</text>
<text x="192.42" y="269.1" font-size="3.4" text-anchor="middle" fill="#222" stroke="#222" stroke-width="0.08" font-weight="normal">2</text>
<path d="M242.60,270.20 L232.50,252.71 A20.2,20.2 0 0 1 252.70,252.71 Z" fill="#1e9f90" stroke="#fff" stroke-width="0.7"/>
<text x="242.6" y="258.0" font-size="4.7" text-anchor="middle" fill="#fff" stroke="#fff" stroke-width="0.08" font-weight="normal">28</text>
<text x="242.6" y="266.8" font-size="3.4" text-anchor="middle" fill="#e8f4f2" stroke="#e8f4f2" stroke-width="0.08" font-weight="normal">8</text>
<path d="M252.70,252.71 A20.2,20.2 0 0 1 262.80,270.20 L250.20,270.20 A7.6,7.6 0 0 0 246.40,263.62 Z" fill="#dadada" stroke="#fff" stroke-width="0.7"/>
<text x="254.38" y="264.8" font-size="4.7" text-anchor="middle" fill="#333" stroke="#333" stroke-width="0.08" font-weight="normal">0</text>
<text x="246.58" y="269.1" font-size="3.4" text-anchor="middle" fill="#222" stroke="#222" stroke-width="0.08" font-weight="normal">0</text>
<path d="M242.60,270.20 L262.80,270.20 A20.2,20.2 0 0 1 252.70,287.69 Z" fill="#e0262e" stroke="#fff" stroke-width="0.7"/>
<text x="254.38" y="278.4" font-size="4.7" text-anchor="middle" fill="#fff" stroke="#fff" stroke-width="0.08" font-weight="normal">15</text>
<text x="246.58" y="273.7" font-size="3.4" text-anchor="middle" fill="#e8f4f2" stroke="#e8f4f2" stroke-width="0.08" font-weight="normal">18</text>
<path d="M252.70,287.69 A20.2,20.2 0 0 1 232.50,287.69 L238.80,276.78 A7.6,7.6 0 0 0 246.40,276.78 Z" fill="#dadada" stroke="#fff" stroke-width="0.7"/>
<text x="242.6" y="285.2" font-size="4.7" text-anchor="middle" fill="#333" stroke="#333" stroke-width="0.08" font-weight="normal">5</text>
<text x="242.6" y="276.0" font-size="3.4" text-anchor="middle" fill="#222" stroke="#222" stroke-width="0.08" font-weight="normal">5</text>
<path d="M242.60,270.20 L232.50,287.69 A20.2,20.2 0 0 1 222.40,270.20 Z" fill="#f5a733" stroke="#fff" stroke-width="0.7"/>
<text x="230.82" y="278.4" font-size="4.7" text-anchor="middle" fill="#fff" stroke="#fff" stroke-width="0.08" font-weight="normal">14</text>
<text x="238.62" y="273.7" font-size="3.4" text-anchor="middle" fill="#e8f4f2" stroke="#e8f4f2" stroke-width="0.08" font-weight="normal">11</text>
<path d="M222.40,270.20 A20.2,20.2 0 0 1 232.50,252.71 L238.80,263.62 A7.6,7.6 0 0 0 235.00,270.20 Z" fill="#dadada" stroke="#fff" stroke-width="0.7"/>
<text x="230.82" y="264.8" font-size="4.7" text-anchor="middle" fill="#333" stroke="#333" stroke-width="0.08" font-weight="normal">0</text>
<text x="238.62" y="269.1" font-size="3.4" text-anchor="middle" fill="#222" stroke="#222" stroke-width="0.08" font-weight="normal">4</text>
</svg>
</body></html>
